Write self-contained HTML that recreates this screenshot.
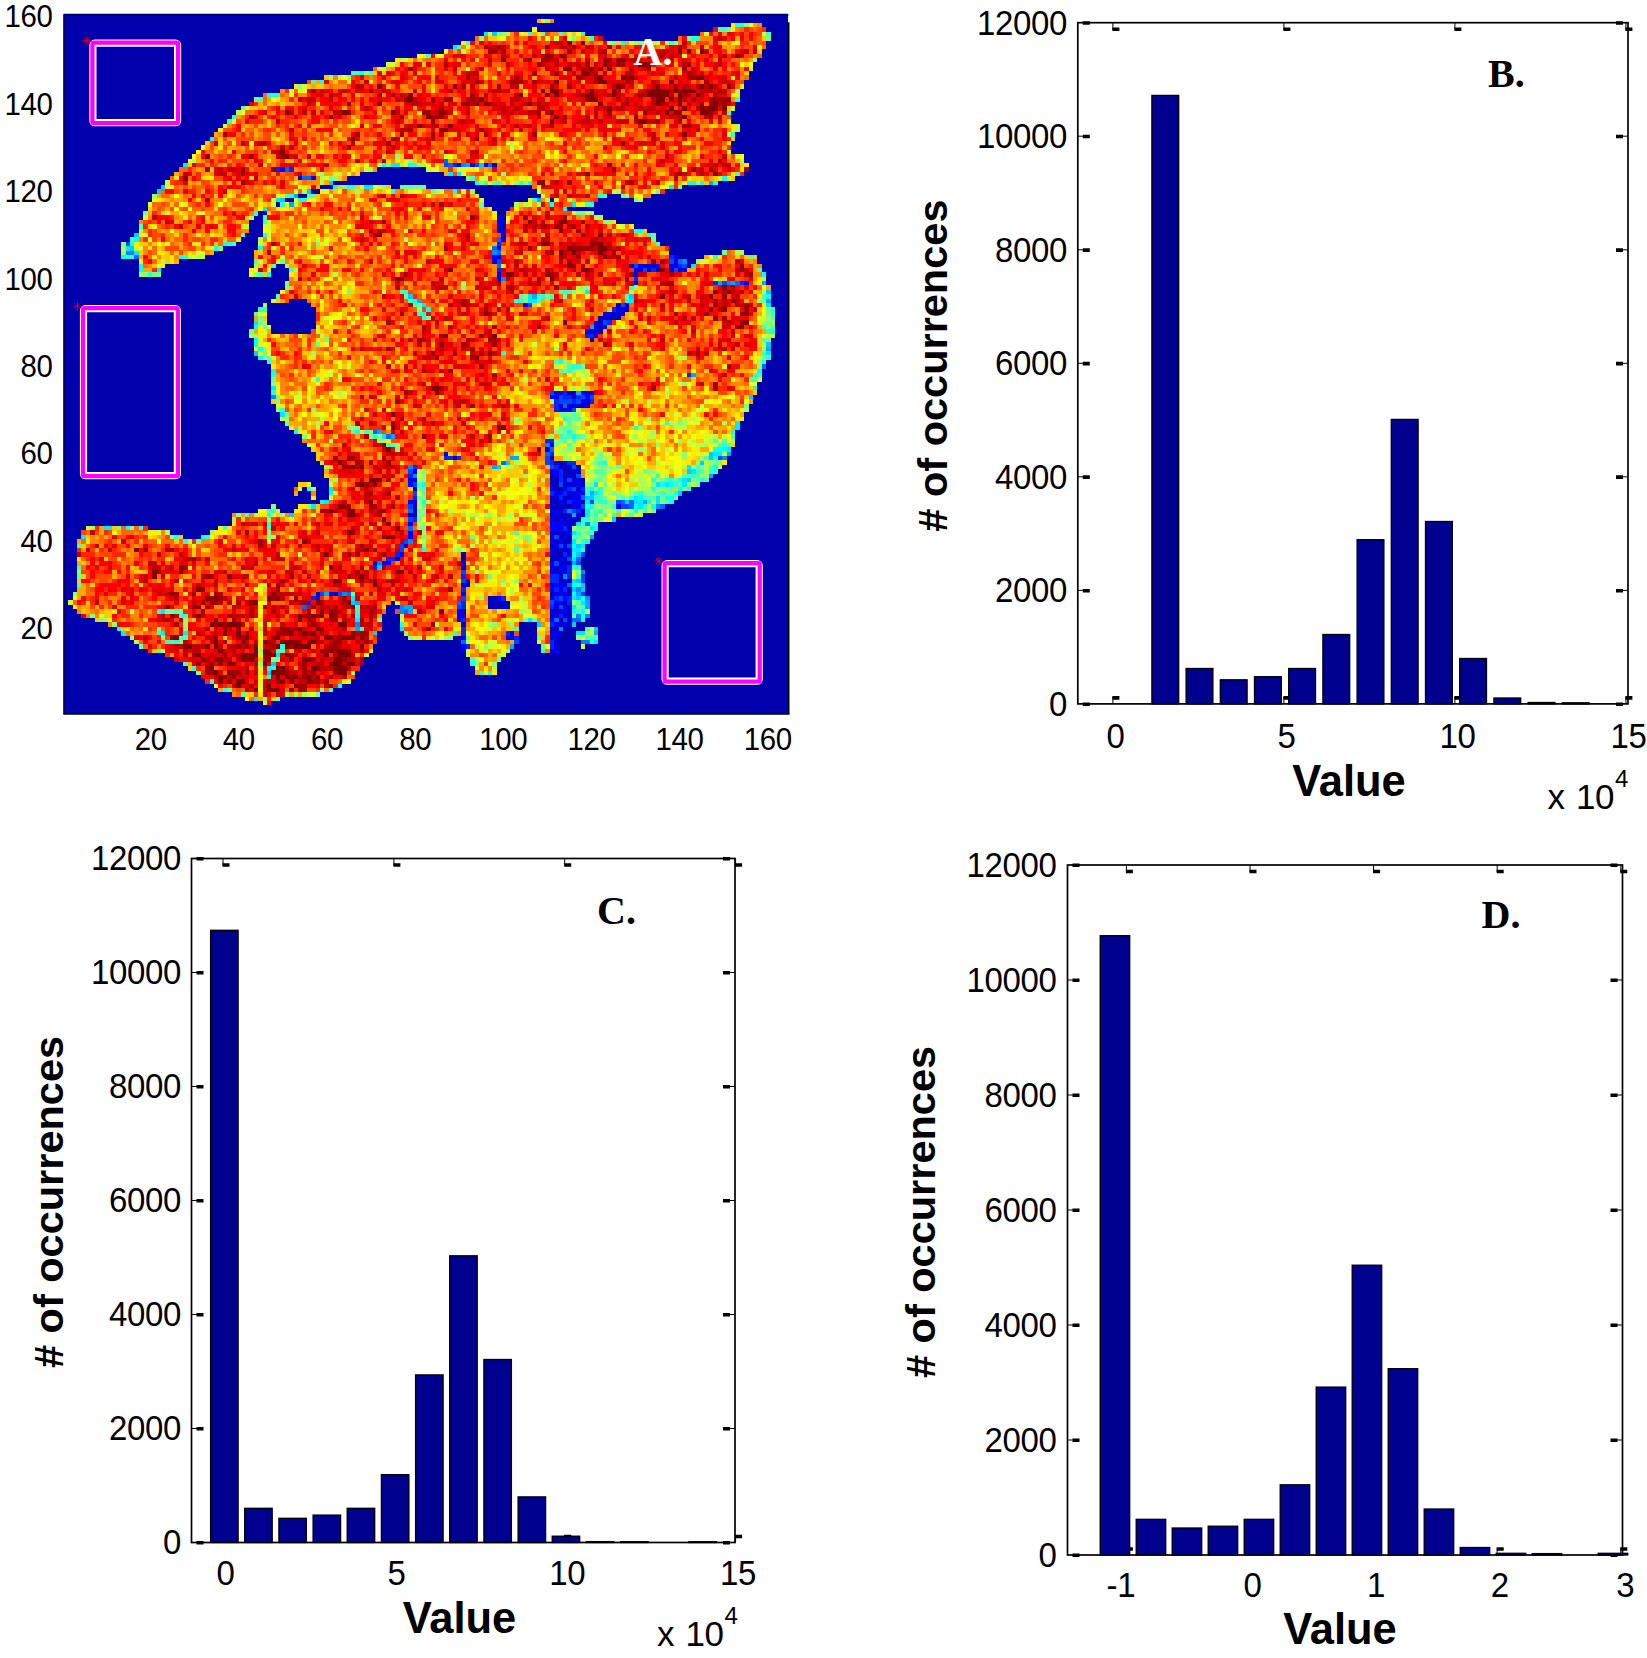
<!DOCTYPE html>
<html><head><meta charset="utf-8"><title>Figure</title>
<style>html,body{margin:0;padding:0;background:#fff}svg{display:block}.t{font-family:"Liberation Sans",sans-serif;fill:#000;letter-spacing:-0.4px}.b{font-family:"Liberation Sans",sans-serif;font-weight:bold;fill:#000}.s{font-family:"Liberation Serif",serif;font-weight:bold;fill:#000}</style></head><body>
<svg width="1647" height="1658" viewBox="0 0 1647 1658">
<rect width="1647" height="1658" fill="#fff"/>
<defs><filter id="hb" x="0" y="0" width="1" height="1"><feGaussianBlur stdDeviation="0.55"/></filter></defs><g filter="url(#hb)"><g transform="translate(63.80 14.30) scale(4.41829 4.37438)" shape-rendering="crispEdges"><rect x="0" y="0" width="164" height="160" fill="#0100ac"/><g transform="translate(0 .5)" fill="none" stroke-width="1.02"><path stroke="#0000c1" d="M97 34h1M99 48h1M98 49h1M137 54h1M128 57h1M131 57h1M133 57h1M141 57h1M132 58h1M134 58h1M125 66h1M127 66h1M127 67h1M124 68h1M126 68h1M121 69h5M121 70h1M121 71h1M119 72h1M121 72h1M120 73h1M119 74h1M114 86h2M118 88h1M112 89h1M114 89h1M117 89h1M88 101h1M110 101h1M112 102h1M112 103h3M116 103h1M113 104h4M110 105h1M113 105h1M115 105h1M110 106h2M117 106h1M110 107h2M113 107h1M117 107h1M111 108h2M116 108h1M115 109h1M110 110h1M113 110h2M111 111h1M117 111h1M110 112h5M79 113h1M112 113h1M117 113h1M78 114h2M110 114h1M112 114h3M117 114h1M111 115h1M113 115h1M115 115h2M114 116h1M114 117h1M110 118h4M112 119h1M114 119h1M111 120h1M113 120h2M110 121h1M111 122h1M113 122h1M90 123h1M110 123h3M75 124h1M90 124h1M110 124h2M113 124h1M112 125h1M114 125h1M90 126h1M111 126h1M113 127h1M112 128h1M112 129h3M91 130h1M110 130h1M114 131h1M57 132h1M61 132h1M110 132h1M114 132h1M96 133h2M96 134h5M113 134h1M96 135h4M114 135h1M90 136h1M111 136h1M114 136h1M110 137h1M113 137h1M112 138h1M90 139h1M112 139h1M114 139h1M110 140h2M110 142h1M111 143h1"/><path stroke="#0000e2" d="M92 34h1M98 47h1M98 48h1M99 50h1M98 55h1M97 56h1M138 56h1M138 57h1M130 58h1M137 58h1M139 58h1M129 59h1M98 60h1M129 61h1M104 66h1M125 67h2M125 68h1M120 71h1M122 71h1M120 72h1M118 86h1M111 87h1M115 87h1M115 89h2M113 90h1M109 99h1M111 102h1M113 102h1M79 104h1M110 104h1M111 105h1M114 105h1M78 106h1M113 106h1M115 106h2M114 107h2M79 108h1M112 109h1M114 109h1M111 110h1M116 110h1M110 111h1M113 111h1M79 112h1M115 112h2M111 114h1M116 114h1M112 115h1M114 115h1M113 116h1M115 116h1M110 120h1M77 121h1M113 121h1M110 122h1M112 122h1M114 122h1M114 123h1M70 125h1M72 125h1M110 125h1M113 125h1M113 126h1M110 127h3M91 129h1M90 130h1M113 130h1M110 131h1M60 132h1M111 132h3M110 133h1M111 135h1M110 136h1M112 136h1M111 137h1M114 137h1M114 138h1M113 139h1M101 141h1M110 141h1M90 142h1M111 142h1M111 144h1M90 145h1M110 145h1"/><path stroke="#0004ff" d="M89 34h1M95 34h1M49 35h1M53 37h1M56 37h1M98 46h1M99 47h1M99 49h1M99 51h1M98 53h1M97 55h1M138 55h1M130 57h1M132 57h1M134 57h1M137 57h1M129 58h1M140 58h1M98 59h1M154 61h1M122 68h2M120 70h1M118 72h1M111 86h2M117 86h1M119 86h1M110 87h1M118 87h1M117 88h1M118 89h1M112 90h1M114 90h1M110 98h1M86 100h1M111 104h1M79 106h1M78 107h1M116 107h1M110 108h1M113 108h1M111 109h1M116 109h2M115 110h1M78 111h2M112 111h1M115 111h2M125 112h1M110 113h2M110 115h1M78 116h1M110 116h3M110 117h3M78 118h1M114 118h1M78 119h1M110 119h1M113 119h1M112 120h1M111 121h1M76 123h1M112 124h1M73 125h1M90 125h1M110 126h1M112 126h1M111 130h2M112 131h1M90 132h1M57 133h1M98 133h1M113 133h1M111 134h2M75 135h1M100 135h1M113 135h1M89 136h1M113 136h1M89 137h2M89 138h1M110 138h1M111 139h1M111 141h1M100 142h2M90 144h1M111 145h1"/><path stroke="#0025ff" d="M88 34h1M48 35h1M51 35h1M98 52h1M137 55h1M139 57h1M98 58h1M133 58h1M129 60h1M147 61h1M153 61h1M124 67h1M123 70h1M118 73h2M141 82h1M113 86h1M113 87h2M116 87h1M111 88h1M115 88h1M119 88h1M111 89h1M111 90h1M109 97h2M110 100h1M86 101h2M89 101h1M110 102h1M114 102h2M79 103h1M111 103h1M112 104h1M78 105h1M112 105h1M112 106h1M114 108h1M117 108h1M110 109h1M113 109h1M79 110h1M112 110h1M114 111h1M113 113h1M116 113h1M79 115h1M113 117h1M75 123h1M113 123h1M73 124h2M70 126h1M114 126h1M114 127h1M90 128h1M110 128h2M114 128h1M110 129h2M90 131h1M111 131h1M113 131h1M56 133h1M99 133h1M111 133h1M114 133h1M55 134h1M90 134h1M114 134h1M90 135h1M110 135h1M112 137h1M90 138h1M110 139h1M90 140h1M90 141h1M100 141h1M102 142h1M110 143h1M91 144h1M110 144h1"/><path stroke="#0046ff" d="M86 34h1M93 34h1M14 52h1M98 56h1M137 56h1M129 57h1M140 57h1M131 58h1M138 58h1M149 61h1M105 66h1M126 66h1M122 70h1M110 86h1M112 87h1M117 87h1M119 87h1M112 88h3M116 88h1M115 90h1M109 101h1M148 101h1M109 102h1M110 103h1M115 103h1M78 104h1M116 105h1M114 106h1M79 107h1M112 107h1M115 108h1M79 109h1M119 111h1M125 111h1M78 112h1M117 112h1M126 112h2M115 113h1M78 115h1M111 119h1M77 120h1M76 121h1M112 121h1M114 121h1M76 122h1M117 123h1M114 124h1M111 125h1M116 125h1M90 127h1M117 128h1M90 129h1M117 129h1M58 132h1M62 132h1M117 132h1M90 133h1M112 133h1M110 134h1M89 135h1M112 135h1M113 138h1M102 143h1"/><path stroke="#0067ff" d="M86 33h1M87 34h1M96 34h1M50 35h1M54 37h2M98 51h1M97 53h1M98 54h1M16 55h1M139 56h1M98 57h1M152 61h1M158 80h1M113 89h1M70 95h1M73 96h1M110 99h1M109 100h1M99 102h1M117 110h1M126 111h1M128 111h1M128 112h1M135 112h1M78 113h1M78 117h1M116 124h1M114 130h1M64 132h1M89 134h1M54 135h1M77 136h1M111 138h1M115 138h2M90 143h1"/><path stroke="#0088ff" d="M90 34h1M14 54h2M97 54h1M140 56h1M99 60h1M150 61h1M47 87h1M109 98h1M149 101h1M78 103h1M79 105h1M134 112h1M114 113h1M118 116h1M78 120h1M71 125h1M117 127h1M113 128h1M116 131h1M63 132h1M118 133h1M76 135h1M76 136h1M116 137h1M118 137h1M66 139h1M112 140h1M117 143h2"/><path stroke="#00a9ff" d="M91 34h1M146 38h1M52 41h1M107 42h1M51 43h1M148 61h1M151 61h1M158 61h1M106 64h1M80 65h1M159 65h1M119 71h1M159 76h1M142 82h1M116 86h1M71 95h1M74 96h1M150 100h1M101 101h2M97 103h1M146 105h1M119 109h1M131 111h1M115 114h1M119 119h1M115 125h1M59 132h1M116 132h1M66 134h1M118 134h1M77 135h2M118 135h1M78 136h1M66 140h1M120 141h1M101 144h1"/><path stroke="#00caff" d="M97 4h1M94 34h1M60 38h1M22 39h1M21 40h1M55 40h1M49 42h1M16 50h1M15 53h1M159 63h1M78 64h1M128 64h1M159 75h1M43 77h1M155 87h1M146 100h1M146 101h1M100 102h1M144 102h1M98 103h1M141 104h1M141 106h1M139 109h1M118 110h2M127 111h1M51 114h1M124 115h1M116 121h1M116 123h1M71 126h1M116 129h1M117 130h1M115 131h1M117 131h1M116 133h1M65 134h1M107 139h1M115 139h1M120 140h1M70 141h1M47 148h1M46 150h1"/><path stroke="#00eaff" d="M95 4h1M88 7h1M27 34h1M74 34h2M87 36h1M89 36h1M68 39h2M137 39h1M48 42h1M115 43h1M45 44h1M14 53h1M16 54h1M142 57h1M21 58h1M118 63h1M105 64h1M105 65h2M128 65h1M81 66h1M159 66h1M43 70h1M159 77h1M47 85h1M49 91h1M152 93h1M152 94h1M72 96h1M150 99h1M147 100h2M141 103h1M142 104h1M140 106h1M120 107h1M134 107h1M136 107h1M140 107h1M60 108h1M120 109h1M129 110h1M134 110h1M59 111h1M118 111h1M129 111h2M134 111h1M56 112h1M130 112h1M118 113h1M118 114h1M116 116h1M9 117h2M119 117h1M115 118h1M4 119h1M115 120h1M117 121h1M115 122h2M115 124h1M115 129h1M65 133h1M115 133h1M117 134h1M115 135h1M22 136h1M66 138h1M105 138h1M76 140h1M13 141h1M22 141h1M27 141h1M116 141h2M120 143h1M48 146h1M43 156h1"/><path stroke="#0cfff3" d="M126 6h1M67 13h1M58 15h1M46 18h1M33 28h1M72 34h1M78 34h1M149 37h1M93 38h1M105 38h1M141 38h2M144 38h1M61 39h1M88 40h1M53 42h1M110 43h1M113 44h1M130 49h1M16 51h1M15 52h1M36 52h1M34 53h1M44 53h1M13 55h1M26 55h1M17 57h1M17 58h1M46 59h1M158 59h1M159 64h1M79 65h1M127 65h1M82 67h1M81 68h1M43 71h1M160 72h1M43 74h1M43 75h1M44 76h1M44 78h1M112 79h1M47 81h1M157 81h1M156 85h1M113 92h1M52 95h1M66 95h1M114 95h1M151 95h1M115 96h1M147 99h3M147 101h1M122 102h1M147 103h1M139 106h1M81 107h1M135 107h1M137 107h1M119 108h1M139 108h1M60 109h1M138 109h1M130 110h1M136 110h2M58 111h1M81 111h1M132 111h1M137 111h1M119 112h1M129 112h1M133 112h1M129 113h1M14 117h1M120 117h1M31 119h1M118 120h1M115 121h1M81 122h1M115 123h1M116 126h1M115 130h1M115 132h1M117 133h1M115 136h1M117 136h1M66 137h1M117 137h1M117 138h1M12 140h1M46 149h1M96 150h1M62 153h1"/><path stroke="#2dffd2" d="M152 2h2M105 4h1M117 4h1M119 5h1M142 5h2M56 15h1M47 18h2M152 19h1M150 22h1M38 23h1M37 24h1M151 27h1M79 34h1M95 38h1M103 38h1M147 38h1M64 39h2M74 40h1M51 41h1M121 41h1M54 42h1M106 42h1M49 43h1M119 43h1M43 45h1M129 49h1M45 50h1M132 50h1M15 51h1M37 52h1M14 55h2M27 55h1M147 55h1M19 59h1M77 63h1M113 63h1M107 64h2M102 65h2M44 67h2M160 67h1M80 68h1M160 68h1M81 69h1M159 72h1M99 77h1M159 78h1M46 79h1M158 79h1M115 80h2M114 81h1M47 82h1M156 82h1M57 83h1M47 86h1M49 90h1M136 93h1M129 94h1M70 96h1M112 96h1M149 98h1M121 102h1M143 104h1M146 104h2M134 105h1M142 105h1M133 106h1M137 106h1M144 106h1M138 107h1M55 108h1M118 108h1M121 108h1M133 108h1M141 108h1M118 109h1M121 109h1M130 109h1M135 109h1M120 110h1M128 110h1M121 111h2M118 112h1M124 112h1M131 112h1M47 113h1M121 113h1M46 114h1M120 114h1M124 114h1M117 115h2M46 116h1M117 116h1M120 116h1M17 117h1M116 118h1M25 119h1M32 119h1M27 120h1M117 120h1M117 122h1M115 126h1M116 130h1M21 136h1M66 136h1M116 136h1M26 137h2M76 139h1M67 140h1M21 141h1M88 141h1M23 143h1M25 143h1M119 143h1M49 144h1M108 145h1M92 148h1M29 149h1M47 149h1M94 150h1M46 151h1M33 152h1M36 154h1"/><path stroke="#4effb1" d="M148 3h2M112 4h1M159 4h1M91 6h1M137 6h1M89 7h1M82 9h1M65 13h2M69 13h1M44 19h1M152 36h1M92 37h1M97 38h2M50 41h1M55 41h2M122 41h1M118 43h1M45 46h1M45 47h1M17 48h1M40 50h1M38 52h1M134 52h1M155 55h1M43 56h1M47 57h1M51 58h1M157 58h1M44 59h1M128 62h1M76 63h1M112 63h1M114 63h1M48 64h1M103 64h1M110 64h1M127 64h1M158 64h1M78 65h1M107 65h1M79 66h1M43 68h1M160 69h1M158 71h1M160 71h1M158 74h1M158 77h1M111 79h1M114 80h1M112 81h1M157 82h1M155 83h2M115 91h1M114 92h1M116 92h1M114 93h1M113 94h1M65 95h1M68 95h1M113 96h2M116 96h1M151 96h1M113 97h1M115 97h1M147 97h1M149 97h1M73 98h2M114 98h1M148 98h1M150 98h1M145 101h1M143 103h1M146 103h1M120 104h2M144 104h1M140 105h2M143 105h1M136 106h1M145 106h1M80 107h1M139 107h1M81 108h1M137 108h1M81 109h1M129 109h1M121 110h1M126 110h1M131 110h3M120 111h1M136 111h1M81 112h1M46 113h1M120 113h1M125 113h1M131 113h1M41 114h1M122 114h1M128 114h1M120 115h1M119 116h1M36 117h1M46 117h1M102 118h1M118 118h2M115 119h2M3 121h1M102 122h1M3 126h1M116 128h1M3 130h1M116 134h1M66 135h1M117 135h1M25 136h1M102 140h1M118 140h1M26 142h2M118 142h3M24 143h1M21 145h1M48 145h2M92 147h1M27 148h1M60 154h1M40 155h1"/><path stroke="#6fff90" d="M150 3h1M98 4h1M108 4h1M141 5h1M159 5h1M124 6h1M132 6h1M43 19h1M40 21h1M73 34h1M60 37h1M94 38h1M63 39h1M76 39h6M139 39h1M83 40h1M134 40h1M126 41h1M129 42h1M94 43h1M18 45h1M116 45h2M133 50h1M133 51h1M57 52h1M35 53h1M149 54h1M49 56h1M20 59h2M50 62h1M90 62h1M64 63h1M77 64h1M109 64h1M113 64h1M104 65h1M158 65h1M80 66h1M159 67h1M159 68h1M44 69h1M82 69h1M44 70h1M159 70h1M45 71h1M42 72h1M59 74h1M159 74h1M57 75h1M45 77h1M46 78h1M158 78h1M117 80h1M113 81h1M115 81h1M47 83h1M48 87h1M154 89h1M50 91h1M112 91h2M115 92h1M50 93h1M139 93h1M64 94h1M66 94h1M112 94h1M114 94h1M113 95h1M115 95h1M69 96h1M117 96h1M112 97h1M75 99h1M121 100h1M121 101h1M120 102h1M147 102h2M125 103h1M144 103h1M81 104h1M122 104h1M131 104h2M121 105h1M120 106h2M135 106h1M138 106h1M142 106h2M122 107h1M133 107h1M143 107h1M80 108h1M134 108h1M136 108h1M140 108h1M124 109h1M131 109h1M134 109h1M136 109h2M80 110h2M122 110h1M125 110h1M135 110h1M138 110h1M123 111h1M135 111h1M122 112h1M80 113h1M119 113h1M133 113h1M81 114h1M119 114h1M80 115h1M12 117h1M80 117h2M116 117h2M81 119h1M92 119h1M104 119h1M30 120h1M81 121h1M89 122h1M3 128h1M96 128h1M99 129h1M65 132h1M116 135h1M23 136h2M26 136h1M115 137h1M71 138h1M104 138h1M106 138h1M21 140h1M91 142h1M107 142h1M17 144h1M108 144h1M48 147h1M98 147h1M37 154h1M57 155h1M48 156h1"/><path stroke="#90ff6f" d="M109 1h1M154 2h1M99 4h1M94 5h1M115 5h1M130 6h1M138 6h1M156 10h1M68 13h1M60 14h1M64 14h1M53 16h1M75 32h1M78 33h1M76 34h1M80 34h2M58 36h1M99 36h1M61 37h1M91 37h1M102 38h1M104 38h1M143 38h1M72 39h1M66 40h1M92 40h1M20 41h1M119 45h1M122 47h2M13 52h1M13 54h1M143 56h1M43 57h1M17 59h2M43 59h1M50 61h1M117 62h2M129 62h1M115 63h1M117 63h1M104 64h1M157 65h1M80 67h1M159 69h1M158 70h1M160 70h1M159 71h1M43 73h1M45 76h1M158 76h1M56 77h1M45 78h1M113 79h1M157 79h1M113 80h1M157 80h1M117 81h1M47 84h1M140 84h1M117 85h1M62 86h1M48 88h1M48 90h1M56 90h1M114 91h1M116 91h1M102 92h1M132 92h1M57 93h1M53 94h1M65 94h1M115 94h2M130 94h1M69 95h1M111 95h2M133 95h1M54 96h1M71 96h1M110 96h1M129 96h1M71 97h1M101 97h1M111 97h1M139 97h1M75 98h1M111 98h1M134 98h1M113 99h3M120 99h1M130 99h1M140 100h1M113 101h1M120 101h1M122 101h1M140 101h1M144 101h1M58 102h1M143 102h1M146 102h1M121 103h3M142 103h1M133 104h1M81 105h1M104 105h1M122 105h1M144 105h2M61 106h1M81 106h1M119 106h1M128 106h1M118 107h2M141 107h1M120 108h1M128 108h1M132 108h1M125 109h1M128 109h1M132 109h2M127 110h1M124 111h1M47 112h1M55 112h1M120 112h2M123 112h1M81 113h1M128 113h1M39 114h1M80 114h1M96 114h1M127 114h1M38 115h1M98 115h1M119 115h1M121 115h1M81 116h1M15 117h1M115 117h1M118 117h1M33 118h1M46 118h1M81 118h1M117 118h1M24 119h1M46 119h2M105 119h1M117 119h1M105 120h1M116 120h1M3 127h1M93 127h1M116 127h1M102 129h1M2 132h1M94 133h1M115 134h1M103 136h1M6 137h1M8 138h1M27 138h1M11 139h1M27 139h1M97 139h1M101 139h1M27 140h1M77 141h1M118 141h1M15 142h1M22 142h1M78 142h1M87 142h1M116 142h1M26 143h1M95 144h1M44 145h1M100 145h1M47 147h1M44 148h1M93 148h1M97 148h1M30 150h1M58 154h1M50 155h1M52 155h1M45 156h1"/><path stroke="#b1ff4e" d="M100 4h1M123 6h1M129 6h1M133 6h1M136 6h1M90 8h1M76 10h1M72 12h1M155 12h1M62 14h1M152 17h1M151 21h1M39 22h1M152 25h1M152 26h1M150 27h1M101 29h1M150 31h1M29 33h1M153 33h1M71 34h1M69 35h1M62 36h1M58 37h1M58 38h1M99 38h1M54 40h1M84 40h1M90 40h1M125 40h1M93 41h1M127 41h1M109 42h1M52 43h1M102 43h1M104 43h1M107 43h1M42 46h1M71 46h1M120 46h2M41 48h1M17 49h1M67 49h1M44 51h1M77 51h1M83 52h1M13 53h1M55 53h1M152 54h2M28 55h1M30 55h1M22 56h1M50 57h1M52 58h1M61 59h1M158 60h1M72 61h1M90 61h1M116 62h1M72 63h1M128 63h1M158 63h1M45 66h1M112 67h1M45 70h1M57 72h1M42 73h1M58 73h1M160 73h1M158 75h1M111 76h1M102 77h1M139 78h2M111 80h1M118 82h1M62 83h1M104 83h1M115 83h1M115 85h1M53 86h1M136 86h1M110 88h1M127 88h1M132 88h1M154 90h1M50 92h1M58 92h1M140 92h1M142 92h1M102 93h1M115 93h1M137 93h2M140 93h1M149 93h1M138 94h1M140 94h1M67 95h1M118 96h1M132 96h2M147 96h1M60 97h1M72 97h1M119 97h1M130 97h1M142 97h1M146 97h1M151 97h1M115 98h1M143 98h3M112 99h1M131 99h1M136 99h1M98 100h1M112 100h2M127 100h1M149 100h1M114 101h1M116 101h1M123 101h1M102 102h1M119 102h1M134 102h1M145 102h1M59 103h1M100 103h2M120 103h1M124 103h1M137 103h1M140 103h1M145 103h1M80 104h1M118 104h2M123 104h1M145 104h1M118 105h1M120 105h1M130 105h1M132 105h2M136 105h1M80 106h1M108 106h1M122 106h1M130 106h2M134 106h1M105 107h1M124 107h1M130 107h2M142 107h1M56 108h1M122 108h2M130 108h2M135 108h1M123 109h1M126 109h1M92 110h1M80 111h1M82 111h1M85 111h1M133 111h1M80 112h1M132 112h1M87 113h1M90 113h1M122 113h3M130 113h1M43 114h1M49 114h1M56 114h1M92 114h2M95 114h1M100 114h2M121 114h1M130 114h1M46 115h1M80 116h1M6 117h1M96 117h1M23 118h1M103 119h1M118 119h1M28 120h1M81 120h1M97 120h1M102 120h1M92 121h1M88 122h1M45 130h1M93 130h1M101 131h1M101 132h1M103 133h1M101 134h1M104 134h1M15 136h1M104 136h2M118 136h1M76 137h1M9 138h1M100 138h1M84 139h1M96 139h1M119 141h1M80 142h1M86 142h1M16 143h1M91 143h1M93 144h1M98 146h1M93 147h1M97 149h1M65 150h1M54 155h1"/><path stroke="#d2ff2d" d="M96 4h1M114 4h1M145 4h1M158 4h1M109 5h1M111 5h1M114 5h1M128 6h1M134 6h1M152 6h1M81 9h1M140 9h1M77 10h1M73 11h2M54 16h1M51 17h1M53 17h1M151 18h1M41 21h1M36 25h1M101 30h1M86 32h1M95 32h1M152 32h1M77 33h1M68 34h1M68 35h1M82 35h2M89 35h2M59 37h1M94 37h2M103 37h1M150 37h1M23 38h1M23 39h1M53 39h1M67 39h1M71 39h1M136 39h1M52 40h1M59 40h1M78 40h1M85 40h1M107 40h1M124 40h1M48 41h1M108 41h1M20 42h1M47 42h1M56 42h1M94 42h1M130 42h1M19 43h1M47 43h1M105 43h1M117 43h1M31 45h1M88 45h1M118 45h1M18 46h1M100 46h1M46 47h1M45 48h2M126 48h1M77 49h1M18 50h1M46 50h1M57 51h1M44 52h1M59 52h1M78 52h1M16 53h2M30 54h2M88 54h1M29 55h1M31 55h1M49 55h1M57 55h2M44 56h1M144 56h2M59 60h1M116 63h1M47 65h1M45 68h1M59 69h1M157 69h2M46 71h1M126 71h1M45 72h1M159 73h1M44 74h1M44 75h1M106 75h1M62 76h1M44 77h1M47 78h1M157 78h1M62 80h1M64 80h1M60 81h1M116 81h1M118 81h1M59 82h2M116 82h2M56 83h1M112 83h1M117 83h1M119 83h1M135 83h1M138 83h1M157 83h1M139 84h1M48 85h1M111 85h1M136 85h1M63 86h1M103 86h1M52 87h2M55 87h1M151 87h1M145 88h1M48 89h1M125 89h1M144 89h1M116 90h1M143 90h2M153 90h1M57 91h1M138 91h1M142 91h1M49 92h1M108 92h1M117 92h1M143 92h1M113 93h1M116 93h1M135 93h1M141 93h1M143 93h1M111 94h1M119 94h1M139 94h1M99 95h1M131 95h1M128 96h1M145 96h2M149 96h1M114 97h1M116 97h1M131 97h1M134 97h1M141 97h1M145 97h1M148 97h1M55 98h1M112 98h1M122 98h1M127 98h1M141 98h1M147 98h1M128 99h1M102 100h1M111 100h1M114 100h2M123 100h1M129 100h1M138 100h1M143 100h1M145 100h1M93 102h1M103 102h1M126 102h1M130 102h1M136 102h1M148 103h1M124 104h1M129 104h2M134 104h2M80 105h1M98 105h1M102 106h1M129 106h1M55 107h1M60 107h1M96 107h1M121 107h1M132 107h1M53 108h1M100 108h1M129 108h1M98 109h1M105 109h1M122 109h1M60 110h1M94 110h1M123 110h1M103 112h1M127 113h1M132 113h1M47 114h1M91 114h1M97 114h1M104 114h2M100 115h2M106 115h1M90 116h1M93 116h1M5 117h1M35 117h1M21 118h1M100 118h1M46 120h1M93 120h1M100 120h1M29 121h1M88 121h1M98 121h1M101 121h1M107 121h1M90 122h1M103 122h1M53 123h1M94 123h1M95 124h1M102 124h1M97 127h1M115 127h1M26 129h1M97 129h1M101 129h1M95 130h1M99 130h1M44 131h1M1 134h1M75 134h1M103 134h1M103 135h1M8 137h1M10 138h1M76 138h1M44 139h1M95 140h2M108 140h1M119 140h1M44 141h1M85 141h1M83 142h1M117 142h1M96 143h2M107 143h1M96 144h2M117 144h1M22 145h1M91 145h1M95 145h1M99 145h1M68 146h1M91 146h1M96 148h1M44 149h1M93 149h1M64 152h1M44 153h1M55 155h2M45 157h1"/><path stroke="#f3ff0c" d="M155 2h1M106 3h1M103 4h1M116 4h1M99 5h1M91 7h1M157 7h1M86 8h1M80 9h1M84 9h2M153 11h1M155 11h1M91 12h1M63 14h1M54 17h1M51 18h1M47 19h1M40 22h1M38 24h1M65 25h1M109 28h1M42 29h1M100 29h1M102 29h1M31 30h1M103 30h1M30 31h1M101 31h1M111 31h1M29 32h1M87 32h1M109 32h1M125 32h1M130 32h1M153 32h1M28 33h1M94 33h1M82 34h1M65 35h1M84 35h1M93 35h1M140 35h1M64 36h1M90 36h1M105 37h1M137 38h1M140 38h1M70 39h1M107 39h1M118 39h1M135 39h1M62 40h1M73 40h1M79 40h2M133 40h1M25 41h1M60 41h1M82 41h1M89 41h1M129 41h2M36 42h1M52 42h1M55 42h1M66 42h1M111 42h1M26 43h1M35 43h1M50 43h1M73 43h1M25 44h1M28 44h1M44 44h1M54 44h1M70 46h1M61 47h1M83 47h1M53 48h1M64 48h1M125 48h1M24 49h1M45 49h2M95 49h1M19 51h1M46 51h1M55 51h1M59 51h1M63 51h1M21 52h1M23 52h1M65 52h1M47 53h1M107 53h1M60 54h1M82 54h2M56 55h1M107 55h1M146 55h1M21 57h1M80 57h1M43 58h1M76 58h1M42 59h1M147 60h1M140 61h1M63 62h1M158 62h1M49 63h1M63 63h1M56 64h1M118 64h1M58 65h1M123 65h1M107 66h1M115 66h1M65 67h1M158 67h1M44 68h1M62 68h1M118 68h1M158 68h1M60 69h3M64 69h1M66 69h1M60 70h1M65 70h1M96 70h1M111 70h1M44 71h1M68 71h1M75 72h1M158 73h1M63 74h1M45 75h1M59 75h1M111 75h1M124 76h2M46 77h1M115 78h1M132 78h1M62 79h1M115 79h1M126 79h1M105 80h1M107 80h1M142 81h1M62 82h1M66 82h1M114 82h1M136 82h1M140 82h1M57 84h1M141 84h1M155 84h2M55 85h1M129 85h1M48 86h1M60 86h1M130 86h1M138 86h1M142 86h1M61 87h1M150 87h1M52 88h2M57 88h1M101 88h1M107 88h1M146 88h1M148 88h1M154 88h1M61 90h1M122 90h1M145 90h1M54 91h1M58 91h1M61 91h1M90 91h1M117 91h1M61 92h1M111 92h1M128 92h1M55 93h1M111 93h1M129 93h1M131 93h2M142 93h1M103 95h1M116 95h2M128 95h3M139 95h1M144 95h1M55 96h1M98 96h1M120 96h1M130 96h1M135 96h1M138 96h1M142 96h1M150 96h1M117 97h1M129 97h1M135 97h1M138 97h1M150 97h1M98 98h1M118 98h1M126 98h1M142 98h1M85 99h1M98 99h1M134 99h1M137 99h1M139 99h1M146 99h1M93 100h1M116 100h1M128 100h1M136 100h1M141 100h1M99 101h1M115 101h1M119 101h1M128 101h1M130 101h1M134 101h1M137 101h3M87 102h1M118 102h1M129 102h1M135 102h1M138 102h2M85 103h1M99 103h1M105 103h1M117 103h1M119 103h1M131 103h1M138 103h2M106 104h1M138 104h2M93 105h1M95 105h1M105 105h1M123 105h1M131 105h1M135 105h1M139 105h1M101 106h1M105 106h1M118 106h1M124 106h1M126 106h1M132 106h1M101 107h1M123 107h1M127 107h1M103 108h3M124 108h1M127 108h1M80 109h1M84 109h1M99 109h6M127 109h1M86 110h1M100 110h2M124 110h1M87 111h2M92 111h2M85 112h2M95 112h1M102 112h1M44 113h2M91 113h2M97 113h1M103 113h1M109 113h1M126 113h1M94 114h1M103 114h1M106 114h1M123 114h1M126 114h1M81 115h1M91 115h1M93 115h1M122 115h2M97 116h1M89 117h1M11 118h1M36 118h1M95 118h2M98 118h1M105 118h2M33 119h1M89 119h1M102 119h1M106 119h1M21 120h1M80 120h1M95 120h1M99 120h1M103 120h1M106 122h1M97 123h1M79 124h1M100 124h1M99 125h1M103 125h1M92 126h1M99 126h1M102 126h1M95 127h1M98 127h1M101 128h1M115 128h1M64 129h1M101 130h2M43 131h1M100 131h1M102 131h1M100 132h1M2 133h1M92 133h1M44 134h2M101 135h2M44 136h1M104 137h2M102 138h1M93 139h1M95 139h1M94 140h1M91 141h1M44 142h1M85 142h1M92 143h2M94 144h1M98 144h1M109 144h1M94 147h1M44 151h1M34 153h1M44 154h1M41 156h1"/><path stroke="#ffea00" d="M108 1h1M151 2h1M151 3h1M104 4h1M107 4h1M98 5h1M90 6h1M151 6h1M75 10h1M71 12h1M151 14h1M64 15h1M69 15h1M52 16h1M153 16h1M83 17h1M104 17h1M152 18h1M48 19h1M80 22h1M88 22h1M66 24h1M150 24h1M123 25h1M151 25h1M35 26h1M151 26h1M102 27h1M110 27h1M48 28h1M110 28h2M120 28h1M38 29h1M54 29h1M58 29h1M141 29h1M150 29h1M35 30h1M131 30h1M58 31h1M109 31h1M126 31h1M65 32h1M111 32h1M116 32h1M122 32h1M46 33h1M75 33h1M81 33h1M66 34h1M77 34h1M84 34h1M112 34h1M114 34h1M117 34h2M154 34h1M56 35h1M91 35h2M116 35h1M153 35h1M57 36h1M61 36h1M96 36h1M151 36h1M25 37h1M32 37h2M98 37h1M100 37h2M104 37h1M141 37h1M148 37h1M52 38h1M96 38h1M101 38h1M125 38h1M136 38h1M24 39h1M54 39h1M58 40h1M70 40h1M37 41h1M49 41h1M21 42h1M40 42h1M67 42h1M105 42h1M114 42h1M27 43h1M44 43h1M116 43h1M48 44h3M65 44h1M70 44h1M78 44h1M86 44h1M96 44h1M102 44h1M23 45h1M26 45h1M30 45h1M97 45h1M115 45h1M27 46h1M51 46h1M60 46h1M80 46h1M97 46h1M100 47h1M124 47h1M20 48h1M40 48h1M128 48h1M56 49h1M59 49h1M62 49h2M17 50h1M30 50h1M33 50h1M57 50h1M93 50h1M39 51h1M16 52h1M29 52h2M55 52h1M58 52h1M126 52h1M19 53h1M32 53h2M50 53h1M71 53h2M96 53h1M21 54h2M28 54h1M53 54h1M20 55h1M24 55h1M148 55h1M17 56h1M24 56h1M48 56h1M59 56h1M22 57h1M66 57h1M99 57h1M42 58h1M46 58h1M75 58h1M124 58h1M51 59h1M60 60h1M62 60h1M157 60h1M64 61h2M157 61h1M58 62h1M65 62h1M81 63h1M130 63h1M115 64h1M157 64h1M125 65h1M58 66h1M69 66h1M116 66h1M158 66h1M58 67h1M85 67h1M132 67h1M61 68h1M68 69h1M125 70h2M157 70h1M57 71h1M59 71h1M124 71h1M132 71h1M44 72h1M44 73h2M47 73h2M53 73h1M57 74h1M108 74h1M112 74h1M116 74h1M46 75h1M58 75h1M61 75h1M43 76h1M46 76h1M63 76h1M139 76h1M59 77h1M91 77h1M134 77h1M138 77h1M149 77h1M156 77h1M55 78h2M76 78h1M106 78h2M109 78h1M156 78h1M49 79h1M61 79h1M64 79h1M73 79h1M75 79h1M108 79h1M121 79h2M156 79h1M47 80h1M106 80h1M112 80h1M123 80h1M134 80h1M149 80h1M52 81h1M58 81h2M97 81h1M135 81h1M156 81h1M57 82h2M69 82h1M125 82h1M58 83h1M71 83h1M118 83h1M151 83h1M48 84h1M117 84h1M102 85h1M112 85h1M114 85h1M116 85h1M122 85h2M141 85h1M145 85h1M51 86h1M55 86h1M61 86h1M102 86h1M134 86h1M145 86h1M49 87h1M58 87h1M62 87h2M95 87h1M98 87h1M104 87h2M129 87h1M136 87h1M149 87h1M55 88h1M106 88h1M126 88h1M135 88h1M147 88h1M49 89h1M51 89h1M132 89h1M139 89h1M62 90h1M67 90h1M73 90h1M124 90h1M133 90h1M149 90h1M56 91h1M59 91h1M86 91h1M109 91h1M128 91h2M136 91h1M139 91h1M152 91h1M53 92h1M64 92h1M107 92h1M112 92h1M118 92h1M124 92h1M129 92h1M135 92h1M138 92h1M141 92h1M144 92h1M152 92h2M78 93h1M92 93h1M103 93h1M110 93h1M119 93h3M151 93h1M51 94h1M57 94h1M77 94h1M118 94h1M120 94h1M136 94h1M150 94h1M53 95h2M94 95h1M102 95h1M127 95h1M132 95h1M135 95h1M141 95h1M143 95h1M145 95h1M121 96h1M123 96h1M131 96h1M140 96h1M143 96h2M73 97h1M122 97h1M128 97h1M56 98h1M84 98h1M90 98h1M99 98h1M113 98h1M116 98h1M121 98h1M123 98h2M146 98h1M97 99h1M104 99h1M111 99h1M119 99h1M121 99h1M127 99h1M129 99h1M142 99h2M95 100h2M99 100h1M103 100h1M118 100h1M120 100h1M122 100h1M131 100h1M139 100h1M142 100h1M144 100h1M97 101h2M103 101h2M126 101h1M129 101h1M136 101h1M141 101h2M76 102h1M84 102h1M91 102h1M98 102h1M104 102h2M123 102h2M128 102h1M131 102h1M137 102h1M140 102h2M149 102h1M129 103h2M134 103h2M99 104h1M103 104h1M105 104h1M107 104h1M125 104h2M136 104h1M90 105h1M106 105h1M119 105h1M128 105h2M138 105h1M86 106h1M97 106h2M106 106h1M123 106h1M102 107h1M104 107h1M106 107h1M126 107h1M97 108h1M101 108h2M108 108h1M126 108h1M61 109h1M90 109h1M95 109h1M106 109h1M56 110h1M85 110h1M98 110h1M102 110h1M104 110h1M106 110h1M89 111h3M103 111h2M108 111h1M53 112h2M87 112h2M92 112h1M96 112h1M100 112h2M48 113h1M52 113h2M85 113h1M88 113h2M96 113h1M100 113h2M105 113h1M44 114h2M129 114h1M51 115h1M94 115h1M97 115h1M99 115h1M102 115h1M38 116h1M82 116h1M94 116h1M105 116h1M37 117h1M88 117h1M90 117h2M19 118h2M34 118h2M92 118h1M103 118h2M108 118h1M19 119h1M51 119h1M86 119h2M93 119h1M100 119h2M5 120h1M36 120h1M88 120h1M98 120h1M101 120h1M106 120h1M89 121h1M96 121h1M100 121h1M106 121h1M31 122h1M79 122h1M100 122h2M95 123h1M98 123h1M101 123h1M103 123h1M3 124h1M68 124h1M103 124h2M97 125h1M101 125h1M105 125h1M28 126h1M82 126h1M94 126h2M101 126h1M104 126h1M96 127h1M81 128h1M97 128h1M100 128h1M102 128h1M65 129h1M89 129h1M96 129h1M100 129h1M44 130h1M94 130h1M96 130h2M27 132h1M44 132h1M92 132h3M91 134h1M102 134h1M2 135h1M44 135h1M91 135h1M104 135h1M11 136h1M98 136h1M44 137h1M95 137h1M106 137h1M43 138h1M101 138h1M46 139h1M92 139h1M14 140h1M18 140h1M88 140h2M93 140h1M98 140h1M107 140h1M84 141h1M94 141h1M79 142h1M82 142h1M92 142h1M44 143h1M94 143h1M44 144h1M99 144h1M69 145h1M94 145h1M44 146h1M99 146h1M95 149h1M44 150h1M95 150h1M97 150h1M44 152h1M63 152h1M44 155h1"/><path stroke="#ffca00" d="M115 4h1M96 5h2M107 5h1M116 5h1M118 5h1M158 5h1M125 6h1M142 6h1M149 6h1M135 7h1M108 8h1M143 8h1M157 8h1M78 10h1M80 10h1M93 10h1M75 11h1M81 11h1M154 11h1M83 12h1M98 12h1M70 13h1M72 13h1M83 13h1M139 13h1M154 13h1M59 14h1M95 14h1M97 14h1M61 15h1M55 16h1M57 16h2M83 16h1M46 20h1M49 20h1M57 20h1M42 21h2M45 21h1M150 21h1M65 23h1M46 24h1M71 24h1M46 25h1M64 25h1M66 25h1M68 25h1M133 25h1M146 25h2M150 25h1M40 26h1M61 26h1M62 27h1M74 27h1M107 27h1M126 27h1M35 28h1M47 28h1M76 28h1M112 28h1M118 28h1M121 28h1M123 28h1M151 28h1M32 29h1M35 29h1M50 29h1M140 29h1M42 30h1M45 30h1M58 30h1M98 30h1M102 30h1M118 30h1M34 31h1M37 31h1M55 31h1M83 31h1M96 31h3M125 31h1M127 31h1M143 31h1M72 32h1M76 32h1M88 32h1M110 32h1M117 32h1M128 32h2M141 32h1M54 33h1M73 33h1M76 33h1M79 33h1M98 33h1M103 33h1M141 33h1M28 34h1M45 34h1M65 34h1M67 34h1M127 34h1M153 34h1M33 35h1M66 35h1M107 35h1M111 35h1M66 36h1M95 36h1M135 36h1M31 37h1M42 37h1M62 37h1M102 37h1M117 37h1M142 37h3M147 37h1M151 37h1M145 38h1M46 39h1M55 39h1M62 39h1M66 39h1M73 39h1M37 40h1M61 40h1M65 40h1M67 40h1M72 40h1M77 40h1M131 40h1M34 41h1M38 41h1M41 41h1M57 41h1M66 41h1M88 41h1M22 42h1M30 42h1M41 42h1M44 42h1M57 42h1M61 42h1M24 43h1M42 43h1M45 43h1M65 43h1M72 43h1M103 43h1M19 44h1M34 44h1M51 44h1M82 44h1M87 44h1M94 44h1M22 45h1M27 45h1M46 45h1M70 45h1M86 45h1M107 45h1M32 46h1M34 46h1M41 46h1M59 46h1M66 46h1M86 46h3M34 47h1M79 47h2M19 48h1M35 48h1M47 48h1M57 48h1M59 48h1M82 48h1M94 48h1M47 49h1M50 49h1M53 49h3M124 49h1M131 49h1M25 50h1M34 50h2M52 50h1M55 50h2M60 50h1M62 50h1M130 50h1M36 51h1M50 51h1M54 51h1M56 51h1M60 51h2M64 51h1M85 51h1M17 52h2M20 52h1M22 52h1M34 52h1M45 52h1M49 52h1M64 52h1M79 52h1M21 53h1M57 53h2M64 53h1M132 53h1M17 54h1M23 54h1M25 54h1M29 54h1M44 54h1M54 54h1M63 54h1M81 54h1M85 54h1M135 54h2M22 55h2M52 55h1M55 55h1M103 55h1M105 55h1M152 55h1M154 55h1M156 55h1M21 56h1M23 56h1M51 56h1M57 56h1M146 56h2M20 57h1M44 57h1M46 57h1M61 57h1M45 59h1M52 59h1M60 59h1M52 60h1M95 60h1M114 60h1M116 60h1M148 60h2M55 61h1M57 61h2M61 61h1M156 61h1M51 62h1M56 62h1M60 62h1M64 62h1M72 62h1M122 62h1M130 62h2M62 63h1M65 63h1M88 63h1M122 63h1M124 63h1M156 63h1M61 64h1M63 64h2M81 64h1M120 64h1M48 65h1M109 65h1M124 65h1M98 66h1M106 66h1M63 67h1M101 67h1M109 67h1M111 67h1M123 67h1M138 67h1M157 67h1M60 68h1M63 68h1M128 68h1M45 69h1M58 69h1M102 69h1M112 69h1M128 69h1M58 70h2M69 70h1M76 70h1M86 70h1M94 70h1M116 70h1M131 70h1M155 70h1M60 71h2M64 71h1M70 71h1M125 71h1M127 71h1M138 71h1M58 72h1M60 72h1M67 72h2M71 72h1M74 72h1M124 72h1M134 72h1M147 72h1M50 73h1M59 73h1M99 73h1M108 73h1M124 73h2M152 73h1M157 73h1M49 74h1M54 74h1M58 74h1M102 74h1M111 74h1M113 74h1M138 74h1M157 74h1M54 75h1M103 75h1M105 75h1M110 75h1M114 75h1M116 75h1M138 75h1M157 75h1M50 76h1M61 76h1M102 76h2M106 76h1M116 76h1M127 76h1M129 76h1M137 76h1M54 77h2M103 77h1M106 77h1M123 77h1M133 77h1M137 77h1M157 77h1M59 78h1M67 78h1M70 78h1M105 78h1M108 78h1M110 78h2M113 78h1M117 78h1M121 78h1M133 78h1M138 78h1M147 78h1M155 78h1M47 79h1M67 79h1M71 79h1M101 79h1M114 79h1M127 79h1M133 79h2M139 79h1M147 79h1M58 80h1M63 80h1M121 80h1M124 80h1M133 80h1M61 81h1M120 81h1M125 81h1M127 81h1M133 81h1M145 81h1M155 81h1M67 82h1M102 82h1M104 82h1M115 82h1M138 82h1M59 83h1M103 83h1M106 83h1M116 83h1M142 83h1M51 84h1M55 84h2M104 84h1M114 84h1M137 84h2M142 84h1M56 85h1M61 85h2M64 85h1M118 85h1M137 85h2M153 85h1M155 85h1M52 86h1M56 86h1M64 86h1M74 86h1M99 86h1M101 86h1M104 86h1M129 86h1M133 86h1M135 86h1M137 86h1M139 86h1M144 86h1M146 86h2M151 86h1M156 86h1M72 87h1M85 87h1M100 87h2M103 87h1M106 87h2M130 87h1M135 87h1M148 87h1M154 87h1M47 88h1M56 88h1M59 88h1M64 88h1M72 88h1M103 88h2M108 88h1M130 88h1M133 88h2M137 88h1M151 88h1M54 89h1M60 89h2M64 89h1M109 89h1M127 89h1M129 89h1M131 89h1M135 89h1M137 89h1M140 89h1M147 89h1M60 90h1M64 90h1M71 90h1M77 90h1M92 90h1M96 90h1M108 90h1M137 90h2M142 90h1M151 90h1M53 91h1M66 91h1M68 91h1M91 91h1M103 91h2M111 91h1M118 91h1M126 91h1M137 91h1M141 91h1M143 91h1M151 91h1M59 92h2M103 92h1M130 92h2M137 92h1M139 92h1M56 93h1M58 93h1M60 93h1M63 93h2M117 93h1M133 93h1M146 93h1M55 94h1M60 94h1M73 94h1M80 94h1M87 94h1M117 94h1M125 94h1M128 94h1M131 94h1M135 94h1M137 94h1M141 94h2M145 94h1M147 94h1M95 95h1M118 95h1M120 95h2M126 95h1M138 95h1M142 95h1M146 95h1M150 95h1M57 96h1M61 96h1M102 96h1M109 96h1M119 96h1M134 96h1M137 96h1M141 96h1M67 97h1M89 97h1M106 97h1M118 97h1M124 97h1M132 97h2M136 97h1M140 97h1M143 97h2M59 98h1M97 98h1M119 98h1M131 98h1M135 98h1M137 98h1M139 98h1M151 98h1M56 99h1M95 99h1M99 99h1M102 99h1M118 99h1M135 99h1M141 99h1M57 100h2M82 100h1M87 100h1M89 100h1M97 100h1M126 100h1M135 100h1M137 100h1M57 101h1M85 101h1M117 101h2M124 101h1M127 101h1M131 101h1M135 101h1M143 101h1M83 102h1M86 102h1M92 102h1M101 102h1M127 102h1M60 103h1M83 103h1M92 103h1M102 103h1M106 103h1M118 103h1M126 103h2M132 103h2M136 103h1M82 104h1M89 104h1M97 104h2M100 104h3M128 104h1M137 104h1M140 104h1M59 105h1M91 105h2M96 105h2M99 105h5M109 105h1M124 105h1M126 105h1M60 106h1M93 106h1M125 106h1M53 107h2M84 107h1M128 107h2M78 108h1M89 108h2M99 108h1M106 108h1M125 108h1M138 108h1M85 109h1M96 109h2M109 109h1M83 110h2M88 110h1M90 110h1M99 110h1M103 110h1M86 111h1M97 111h2M102 111h1M107 111h1M57 112h1M84 112h1M94 112h1M97 112h1M57 113h1M93 113h2M102 113h1M104 113h1M106 113h1M48 114h1M83 114h1M87 114h1M90 114h1M99 114h1M40 115h1M50 115h1M76 115h1M86 115h1M89 115h1M95 115h2M107 115h1M83 116h1M89 116h1M91 116h2M99 116h3M11 117h1M55 117h1M69 117h1M83 117h2M37 118h1M101 118h1M5 119h1M20 119h1M26 119h1M34 119h1M82 119h1M97 119h1M109 119h1M25 120h1M87 120h1M104 120h1M4 121h1M94 121h1M97 121h1M99 121h1M102 121h2M105 121h1M108 121h1M29 122h1M32 122h1M87 122h1M91 122h1M96 122h1M104 122h2M29 123h1M37 123h1M39 123h1M49 123h1M79 123h1M88 123h1M99 123h1M102 123h1M9 124h1M12 124h1M23 124h1M65 124h1M85 124h1M97 124h1M99 124h1M101 124h1M109 124h1M4 125h1M91 125h1M93 125h1M95 125h1M100 125h1M15 126h1M34 126h1M59 126h1M98 126h1M108 126h2M16 127h2M58 127h1M100 127h4M108 127h1M4 128h1M98 128h2M107 128h1M3 129h1M95 129h1M98 129h1M105 129h1M6 130h1M17 130h1M26 130h1M56 130h1M83 130h1M92 130h1M98 130h1M100 130h1M106 130h1M45 131h1M51 131h1M81 131h1M92 131h3M97 131h1M76 132h1M84 132h1M96 132h1M102 132h2M105 132h1M45 133h1M74 133h1M81 133h1M93 133h1M100 133h1M104 133h2M5 134h1M92 134h1M27 135h1M72 135h1M87 135h1M93 135h1M95 135h1M107 135h1M4 136h1M9 136h2M79 136h1M91 136h1M96 136h1M99 136h1M108 136h1M9 137h2M94 137h1M97 137h1M7 138h1M18 138h1M29 138h1M44 138h1M87 138h1M95 138h1M99 138h1M108 138h1M77 139h1M88 139h2M94 139h1M98 139h1M100 139h1M109 139h1M13 140h1M44 140h1M97 140h1M100 140h2M29 141h1M87 141h1M92 141h1M95 141h1M107 141h2M36 142h1M84 142h1M108 142h1M20 145h1M92 145h1M97 145h1M44 147h1M28 149h1M41 155h2M47 156h1"/><path stroke="#ffa900" d="M107 1h1M156 2h1M106 4h1M113 4h1M152 5h1M121 6h1M127 6h1M131 6h1M103 7h1M145 7h1M150 7h2M88 8h1M91 8h1M111 8h1M125 8h1M150 8h1M117 9h1M89 10h1M120 10h1M155 10h1M138 11h1M73 12h1M95 12h1M139 12h1M80 13h1M89 13h1M95 13h1M113 13h1M74 14h1M83 14h1M106 14h1M57 15h1M72 15h1M117 15h1M56 16h1M73 16h1M95 16h1M103 16h1M130 16h1M66 18h1M104 18h1M46 19h1M49 19h1M44 20h1M47 20h1M50 20h2M114 20h1M44 21h1M63 21h1M66 21h1M79 21h1M93 21h1M71 22h1M95 22h1M117 22h1M39 23h1M45 23h1M72 23h1M78 23h1M98 23h1M104 23h1M126 23h1M134 23h1M41 25h1M44 25h1M54 25h1M56 25h3M62 25h1M97 25h1M131 25h1M136 25h1M149 25h1M43 26h1M48 26h1M126 26h1M128 26h1M34 27h1M43 27h1M47 27h1M49 27h1M59 27h1M61 27h1M87 27h2M98 27h1M103 27h1M108 27h2M116 27h1M125 27h1M143 27h1M37 28h2M49 28h1M60 28h1M62 28h2M86 28h1M115 28h1M119 28h1M48 29h1M59 29h1M66 29h1M103 29h1M108 29h1M112 29h1M119 29h1M122 29h1M32 30h1M34 30h1M37 30h2M40 30h1M100 30h1M114 30h1M119 30h3M138 30h1M143 30h1M149 30h1M56 31h2M59 31h1M64 31h2M75 31h1M78 31h1M85 31h1M116 31h1M119 31h1M142 31h1M30 32h1M39 32h1M46 32h1M79 32h1M102 32h1M112 32h1M121 32h1M123 32h1M140 32h1M143 32h1M150 32h1M30 33h1M50 33h2M59 33h1M87 33h1M89 33h1M97 33h1M108 33h1M111 33h1M121 33h1M127 33h1M132 33h1M152 33h1M36 34h1M85 34h1M107 34h1M115 34h1M143 34h1M30 35h1M61 35h1M63 35h1M85 35h2M88 35h1M95 35h1M25 36h1M32 36h1M59 36h2M63 36h1M86 36h1M97 36h1M103 36h1M128 36h1M134 36h1M45 37h1M52 37h1M97 37h1M99 37h1M119 37h3M123 37h1M127 37h1M146 37h1M28 38h1M30 38h1M34 38h2M37 38h1M51 38h1M53 38h1M59 38h1M100 38h1M132 38h1M139 38h1M45 39h1M47 39h1M57 39h1M122 39h2M125 39h1M133 39h1M31 40h1M38 40h1M46 40h1M48 40h1M64 40h1M69 40h1M71 40h1M81 40h1M112 40h1M121 40h1M129 40h1M21 41h1M24 41h1M26 41h1M64 41h1M83 41h1M86 41h1M92 41h1M23 42h1M25 42h2M60 42h1M115 42h1M34 43h1M37 43h1M46 43h1M53 43h1M56 43h1M69 43h1M106 43h1M23 44h1M38 44h1M43 44h1M66 44h1M68 44h1M81 44h1M89 44h1M95 44h1M19 45h1M24 45h2M52 45h1M54 45h1M72 45h1M80 45h1M87 45h1M94 45h1M101 45h1M26 46h1M29 46h1M35 46h1M55 46h4M64 46h1M69 46h1M79 46h1M96 46h1M101 46h1M117 46h1M25 47h1M32 47h1M39 47h1M49 47h1M51 47h1M55 47h1M58 47h1M63 47h1M74 47h1M82 47h1M88 47h1M48 48h1M55 48h1M63 48h1M65 48h1M71 48h1M75 48h1M78 48h1M80 48h1M87 48h1M90 48h1M123 48h1M22 49h1M25 49h1M33 49h1M35 49h1M49 49h1M52 49h1M61 49h1M89 49h1M96 49h1M126 49h2M31 50h1M49 50h1M59 50h1M63 50h1M79 50h1M87 50h1M104 50h1M108 50h1M131 50h1M24 51h1M49 51h1M58 51h1M79 51h2M94 51h1M96 51h1M102 51h1M26 52h1M54 52h1M60 52h1M76 52h1M81 52h1M85 52h1M97 52h1M133 52h1M22 53h1M26 53h1M30 53h1M48 53h1M61 53h1M63 53h1M83 53h2M92 53h1M27 54h1M33 54h1M43 54h1M52 54h1M59 54h1M65 54h3M76 54h1M89 54h1M99 54h1M17 55h1M43 55h1M60 55h1M72 55h1M81 55h1M86 55h1M145 55h1M25 56h1M45 56h1M56 56h1M60 56h1M73 56h1M105 56h1M119 56h1M148 56h1M155 56h1M51 57h2M60 57h1M62 57h2M79 57h1M90 57h1M156 57h1M18 58h2M60 58h1M69 58h1M83 58h1M123 58h1M141 58h2M156 58h1M62 59h1M64 59h1M58 60h1M65 60h1M69 60h1M141 60h1M143 60h1M62 61h2M73 61h1M77 61h1M54 62h1M59 62h1M61 62h1M66 62h1M91 62h2M121 62h1M123 62h1M125 62h1M146 62h1M159 62h1M66 63h3M85 63h1M93 63h1M129 63h1M133 63h1M157 63h1M55 64h1M57 64h1M59 64h1M65 64h1M49 65h1M56 65h1M65 65h3M69 65h1M84 65h1M92 65h1M108 65h1M115 65h2M154 65h1M59 66h1M64 66h1M109 66h1M117 66h1M122 66h1M140 66h1M64 67h1M103 67h1M139 67h1M142 67h1M66 68h1M69 68h1M110 68h1M127 68h1M131 68h1M157 68h1M43 69h1M63 69h1M65 69h1M90 69h1M105 69h2M111 69h1M127 69h1M129 69h1M68 70h1M72 70h1M87 70h1M97 70h1M102 70h1M110 70h1M112 70h1M130 70h1M134 70h1M148 70h1M62 71h1M67 71h1M69 71h1M110 71h1M131 71h1M133 71h1M136 71h1M141 71h1M147 71h2M157 71h1M43 72h1M46 72h1M59 72h1M66 72h1M69 72h1M90 72h1M107 72h1M117 72h1M122 72h1M133 72h1M141 72h1M143 72h1M145 72h1M158 72h1M54 73h1M61 73h1M67 73h3M77 73h1M98 73h1M109 73h1M113 73h1M122 73h1M143 73h1M45 74h1M48 74h1M50 74h1M104 74h3M109 74h2M117 74h1M133 74h1M56 75h1M70 75h1M83 75h1M102 75h1M104 75h1M107 75h2M115 75h1M117 75h1M124 75h1M49 76h1M56 76h1M60 76h1M75 76h1M105 76h1M107 76h2M115 76h1M126 76h1M130 76h1M132 76h1M157 76h1M57 77h2M63 77h2M69 77h1M107 77h1M113 77h1M115 77h1M135 77h1M139 77h1M147 77h1M153 77h1M60 78h1M71 78h1M77 78h2M112 78h1M119 78h1M122 78h2M148 78h1M50 79h1M63 79h1M65 79h1M76 79h1M100 79h1M106 79h2M117 79h1M141 79h1M148 79h1M48 80h1M61 80h1M65 80h2M74 80h1M76 80h1M101 80h1M103 80h1M108 80h1M125 80h1M135 80h1M142 80h1M54 81h1M57 81h1M64 81h2M107 81h1M123 81h1M137 81h1M152 81h3M48 82h1M52 82h1M54 82h1M65 82h1M77 82h1M85 82h1M89 82h1M107 82h1M112 82h1M119 82h1M124 82h1M133 82h1M135 82h1M144 82h1M48 83h1M53 83h1M55 83h1M61 83h1M68 83h1M70 83h1M74 83h1M76 83h1M113 83h2M127 83h2M139 83h1M152 83h1M65 84h1M73 84h1M75 84h1M82 84h1M103 84h1M107 84h1M116 84h1M122 84h1M124 84h1M53 85h1M63 85h1M73 85h1M78 85h1M99 85h2M104 85h2M128 85h1M139 85h1M152 85h1M154 85h1M65 86h1M100 86h1M107 86h1M123 86h1M140 86h1M143 86h1M50 87h2M54 87h1M56 87h1M59 87h2M71 87h1M93 87h1M96 87h1M102 87h1M122 87h1M124 87h1M127 87h1M138 87h3M143 87h1M146 87h1M152 87h1M58 88h1M62 88h1M69 88h1M82 88h1M102 88h1M125 88h1M129 88h1M131 88h1M138 88h2M152 88h1M155 88h1M55 89h2M59 89h1M74 89h1M77 89h1M107 89h1M142 89h1M145 89h2M148 89h3M51 90h1M54 90h1M57 90h3M83 90h1M98 90h1M101 90h1M117 90h2M123 90h1M125 90h2M128 90h2M132 90h1M134 90h2M140 90h1M148 90h1M150 90h1M152 90h1M51 91h1M55 91h1M62 91h1M64 91h1M98 91h1M102 91h1M124 91h2M144 91h1M150 91h1M153 91h1M52 92h1M55 92h3M63 92h1M101 92h1M104 92h1M106 92h1M119 92h1M136 92h1M145 92h1M148 92h1M150 92h1M51 93h3M65 93h1M96 93h2M108 93h1M112 93h1M123 93h1M130 93h1M134 93h1M145 93h1M52 94h1M56 94h1M93 94h2M96 94h1M104 94h1M109 94h1M124 94h1M133 94h1M143 94h2M148 94h2M151 94h1M57 95h1M63 95h1M136 95h1M148 95h1M58 96h1M66 96h1M97 96h1M111 96h1M127 96h1M136 96h1M148 96h1M84 97h2M87 97h1M100 97h1M105 97h1M107 97h1M121 97h1M125 97h2M58 98h1M101 98h2M104 98h1M107 98h1M120 98h1M125 98h1M133 98h1M136 98h1M140 98h1M57 99h1M66 99h1M103 99h1M117 99h1M126 99h1M132 99h1M140 99h1M144 99h2M71 100h1M101 100h1M119 100h1M132 100h1M134 100h1M71 101h1M100 101h1M111 101h2M133 101h1M89 102h2M107 102h2M116 102h1M132 102h2M142 102h1M86 103h1M93 103h1M95 103h2M103 103h2M109 103h1M128 103h1M59 104h1M90 104h2M93 104h1M95 104h2M108 104h1M60 105h1M86 105h1M88 105h1M107 105h2M127 105h1M83 106h1M92 106h1M95 106h1M99 106h1M104 106h1M61 107h1M63 107h1M82 107h1M89 107h1M97 107h1M103 107h1M107 107h2M125 107h1M84 108h3M88 108h1M94 108h1M109 108h1M52 109h1M77 109h1M108 109h1M105 110h1M83 111h1M94 111h2M100 111h1M83 112h1M89 112h1M91 112h1M98 112h2M105 112h1M86 113h1M98 113h2M40 114h1M52 114h2M55 114h1M88 114h2M98 114h1M125 114h1M52 115h1M85 115h1M87 115h1M92 115h1M108 115h1M55 116h1M71 116h1M87 116h1M98 116h1M8 117h1M44 117h1M92 117h2M97 117h5M103 117h1M105 117h1M8 118h1M12 118h1M18 118h1M49 118h1M86 118h2M89 118h1M91 118h1M97 118h1M99 118h1M7 119h1M9 119h1M21 119h1M80 119h1M96 119h1M107 119h1M3 120h1M12 120h1M17 120h1M33 120h1M39 120h1M82 120h1M92 120h1M96 120h1M108 120h2M28 121h1M61 121h1M90 121h1M93 121h1M104 121h1M109 121h1M4 122h1M7 122h1M51 122h1M82 122h1M94 122h1M97 122h1M99 122h1M14 123h1M50 123h1M62 123h1M87 123h1M89 123h1M96 123h1M100 123h1M24 124h1M46 124h1M54 124h1M60 124h1M80 124h1M96 124h1M106 124h2M3 125h1M33 125h1M79 125h1M81 125h1M94 125h1M96 125h1M98 125h1M102 125h1M104 125h1M108 125h1M16 126h1M38 126h1M50 126h1M86 126h2M97 126h1M103 126h1M105 126h1M11 127h1M18 127h1M40 127h1M92 127h1M94 127h1M99 127h1M11 128h1M23 128h1M27 128h2M42 128h1M45 128h1M59 128h1M73 128h1M95 128h1M103 128h2M16 129h1M21 129h1M92 129h1M94 129h1M107 129h1M4 130h1M54 130h1M84 130h1M86 130h1M107 130h1M3 131h2M91 131h1M95 131h2M98 131h2M105 131h1M3 132h2M33 132h1M39 132h1M45 132h1M88 132h1M91 132h1M97 132h1M99 132h1M108 132h2M3 133h1M38 133h1M44 133h1M21 134h1M38 134h1M72 134h1M86 134h1M94 134h1M105 134h1M4 135h2M7 135h1M84 135h1M86 135h1M94 135h1M105 135h1M5 136h1M8 136h1M19 136h1M100 136h2M71 137h1M82 137h1M84 137h1M88 137h1M91 137h1M96 137h1M103 137h1M107 137h1M92 138h2M96 138h1M103 138h1M99 139h1M91 140h2M109 140h1M15 141h1M17 141h1M86 141h1M89 141h1M93 141h1M96 141h2M93 142h1M96 142h1M98 142h1M95 143h1M101 143h1M100 144h1M51 145h1M96 145h1M98 145h1M24 146h1M66 146h1M96 146h1M96 147h2M28 148h1M94 148h1M93 150h1M35 154h1M51 155h1M53 155h1M44 156h1"/><path stroke="#ff8800" d="M110 1h1M157 2h1M152 3h1M101 4h1M110 4h2M149 4h1M101 5h1M117 5h1M144 5h3M93 6h1M101 6h1M118 6h1M120 6h1M139 6h1M146 6h1M148 6h1M150 6h1M155 6h1M90 7h1M92 7h1M101 7h1M134 7h1M149 7h1M93 8h2M123 8h1M127 8h1M119 9h2M124 9h1M128 9h1M130 9h1M156 9h1M81 10h1M83 10h1M115 10h1M147 10h1M153 10h1M78 11h1M90 11h1M74 12h1M89 12h2M125 12h1M133 12h1M145 12h1M150 12h1M153 12h1M94 13h1M137 13h1M61 14h1M69 14h1M75 14h1M79 14h1M100 14h1M135 14h1M153 14h1M60 15h1M83 15h1M59 16h1M61 16h3M76 16h2M82 16h1M94 16h1M49 17h1M77 17h2M80 17h1M50 18h1M53 18h2M72 18h1M50 19h1M52 19h1M88 19h1M151 19h1M48 20h1M116 20h1M118 20h1M49 21h1M58 21h1M71 21h1M73 21h1M117 21h1M47 22h1M127 22h1M130 22h1M66 23h1M73 23h1M87 23h1M103 23h1M125 23h1M128 23h1M54 24h1M60 24h1M65 24h1M77 24h1M94 24h1M96 24h1M143 24h1M147 24h1M37 25h1M40 25h1M42 25h1M45 25h1M51 25h1M96 25h1M144 25h2M55 26h1M71 26h1M80 26h2M127 26h1M135 26h2M150 26h1M35 27h1M41 27h1M44 27h1M57 27h1M80 27h1M101 27h1M104 27h1M120 27h1M135 27h1M145 27h1M43 28h1M57 28h1M61 28h1M69 28h2M79 28h1M90 28h2M102 28h3M107 28h2M131 28h1M135 28h3M141 28h1M36 29h1M49 29h1M67 29h1M83 29h1M86 29h1M91 29h1M105 29h1M107 29h1M111 29h1M120 29h2M143 29h1M39 30h1M55 30h1M57 30h1M59 30h1M68 30h2M89 30h2M97 30h1M99 30h1M105 30h2M108 30h1M137 30h1M35 31h1M40 31h1M46 31h1M60 31h2M68 31h2M76 31h1M89 31h2M99 31h1M108 31h1M110 31h1M114 31h2M120 31h2M124 31h1M141 31h1M33 32h1M45 32h1M47 32h1M56 32h1M66 32h1M80 32h1M96 32h1M98 32h3M105 32h1M113 32h1M124 32h1M133 32h1M142 32h1M31 33h1M37 33h1M45 33h1M47 33h1M57 33h1M74 33h1M80 33h1M95 33h1M100 33h2M115 33h1M118 33h1M125 33h1M128 33h1M133 33h1M32 34h1M35 34h1M41 34h1M47 34h1M64 34h1M110 34h1M116 34h1M125 34h1M139 34h2M31 35h1M42 35h1M52 35h1M55 35h1M60 35h1M62 35h1M64 35h1M67 35h1M70 35h1M94 35h1M96 35h1M113 35h1M115 35h1M118 35h1M126 35h1M131 35h1M134 35h2M31 36h1M33 36h1M47 36h1M65 36h1M91 36h1M102 36h1M104 36h1M107 36h1M125 36h2M136 36h1M48 37h1M50 37h1M57 37h1M63 37h1M93 37h1M111 37h1M116 37h1M126 37h1M137 37h1M139 37h1M29 38h1M33 38h1M55 38h3M109 38h1M117 38h1M122 38h2M130 38h1M135 38h1M26 39h1M28 39h1M34 39h1M43 39h1M127 39h1M134 39h1M39 40h1M45 40h1M47 40h1M60 40h1M75 40h1M82 40h1M108 40h3M118 40h1M127 40h1M132 40h1M28 41h1M36 41h1M40 41h1M42 41h1M44 41h1M58 41h2M69 41h1M84 41h2M109 41h1M24 42h1M27 42h1M34 42h2M37 42h1M39 42h1M42 42h2M58 42h1M68 42h1M72 42h1M108 42h1M36 43h1M61 43h1M63 43h1M67 43h2M93 43h1M20 44h1M39 44h2M47 44h1M52 44h1M69 44h1M88 44h1M90 44h1M103 44h1M106 44h1M108 44h1M28 45h2M32 45h2M42 45h1M56 45h2M59 45h1M78 45h1M85 45h1M95 45h2M100 45h1M102 45h1M110 45h1M19 46h1M25 46h1M36 46h1M74 46h1M76 46h1M83 46h1M85 46h1M91 46h1M94 46h2M114 46h1M116 46h1M17 47h1M26 47h1M33 47h1M40 47h2M47 47h2M50 47h1M53 47h1M56 47h2M64 47h1M78 47h1M81 47h1M89 47h1M94 47h1M96 47h1M110 47h1M49 48h4M56 48h1M60 48h3M74 48h1M95 48h2M127 48h1M18 49h1M21 49h1M23 49h1M26 49h2M31 49h1M34 49h1M36 49h1M40 49h2M48 49h1M51 49h1M65 49h2M94 49h1M125 49h1M23 50h2M29 50h1M32 50h1M47 50h2M51 50h1M53 50h1M61 50h1M73 50h1M76 50h1M94 50h1M96 50h1M129 50h1M17 51h1M21 51h1M32 51h1M45 51h1M48 51h1M52 51h2M76 51h1M78 51h1M81 51h1M83 51h2M93 51h1M100 51h1M104 51h1M19 52h1M25 52h1M32 52h1M56 52h1M66 52h1M73 52h1M80 52h1M88 52h2M96 52h1M100 52h1M18 53h1M52 53h3M56 53h1M59 53h1M62 53h1M65 53h1M76 53h1M85 53h1M94 53h2M99 53h1M133 53h3M18 54h1M32 54h1M47 54h2M50 54h2M55 54h1M57 54h2M61 54h2M64 54h1M69 54h1M71 54h1M84 54h1M93 54h1M104 54h2M151 54h1M21 55h1M25 55h1M45 55h1M54 55h1M61 55h1M65 55h1M68 55h1M83 55h1M92 55h1M102 55h1M119 55h1M50 56h1M63 56h1M66 56h2M70 56h1M75 56h1M80 56h2M86 56h1M94 56h1M107 56h1M120 56h1M131 56h1M151 56h1M154 56h1M156 56h1M19 57h1M57 57h1M70 57h1M75 57h1M77 57h1M84 57h1M96 57h2M144 57h1M146 57h1M157 57h1M62 58h1M91 58h1M97 58h1M57 59h1M68 59h1M75 59h1M92 59h1M97 59h1M122 59h1M151 59h1M156 59h2M51 60h1M63 60h2M67 60h2M72 60h1M86 60h1M88 60h1M92 60h1M109 60h1M139 60h2M156 60h1M54 61h1M69 61h1M78 61h1M80 61h1M86 61h1M92 61h1M111 61h1M126 61h1M139 61h1M141 61h3M57 62h1M67 62h2M70 62h1M78 62h1M87 62h1M89 62h1M97 62h1M103 62h1M133 62h1M141 62h2M50 63h1M56 63h1M58 63h1M74 63h1M80 63h1M82 63h2M90 63h1M123 63h1M131 63h1M141 63h2M54 64h1M66 64h1M71 64h1M83 64h1M96 64h1M117 64h1M131 64h1M57 65h1M59 65h1M63 65h1M71 65h1M95 65h1M114 65h1M117 65h1M121 65h2M156 65h1M56 66h1M66 66h1M85 66h2M108 66h1M124 66h1M132 66h1M57 67h1M59 67h1M66 67h1M102 67h1M106 67h1M117 67h1M133 67h1M140 67h1M152 67h1M58 68h1M70 68h1M98 68h1M111 68h2M117 68h1M121 68h1M133 68h1M136 68h1M152 68h1M89 69h1M97 69h1M99 69h1M103 69h2M107 69h1M110 69h1M118 69h1M145 69h2M57 70h1M64 70h1M66 70h1M71 70h1M100 70h1M115 70h1M117 70h1M127 70h1M129 70h1M135 70h1M144 70h1M147 70h1M156 70h1M63 71h1M112 71h1M123 71h1M128 71h1M130 71h1M134 71h1M137 71h1M63 72h1M70 72h1M78 72h1M83 72h2M100 72h1M109 72h2M115 72h1M146 72h1M154 72h1M157 72h1M46 73h1M60 73h1M62 73h2M74 73h1M78 73h1M102 73h1M106 73h2M110 73h1M112 73h1M136 73h1M141 73h1M145 73h1M61 74h2M75 74h1M88 74h1M95 74h1M107 74h1M115 74h1M118 74h1M126 74h1M128 74h4M136 74h1M140 74h1M49 75h1M66 75h1M72 75h1M118 75h1M121 75h1M125 75h2M129 75h1M137 75h1M54 76h1M57 76h1M64 76h1M78 76h1M104 76h1M109 76h2M114 76h1M120 76h1M131 76h1M138 76h1M51 77h1M61 77h1M66 77h3M75 77h1M104 77h1M108 77h1M110 77h1M116 77h1M122 77h1M127 77h1M130 77h1M140 77h1M146 77h1M150 77h1M48 78h1M54 78h1M58 78h1M65 78h1M69 78h1M99 78h1M116 78h1M118 78h1M127 78h1M134 78h2M145 78h2M151 78h1M48 79h1M51 79h1M55 79h1M59 79h1M66 79h1M77 79h1M99 79h1M102 79h1M116 79h1M118 79h1M120 79h1M128 79h1M132 79h1M135 79h1M138 79h1M140 79h1M142 79h1M144 79h1M146 79h1M150 79h1M49 80h1M56 80h1M59 80h2M67 80h1M70 80h1M85 80h1M97 80h1M104 80h1M138 80h2M143 80h1M153 80h1M156 80h1M51 81h1M53 81h1M62 81h1M72 81h1M79 81h1M88 81h2M98 81h1M110 81h1M121 81h1M128 81h1M132 81h1M138 81h3M56 82h1M61 82h1M64 82h1M76 82h1M110 82h2M113 82h1M123 82h1M129 82h1M132 82h1M134 82h1M143 82h1M146 82h1M155 82h1M49 83h1M54 83h1M90 83h1M100 83h1M105 83h1M108 83h1M124 83h1M129 83h2M133 83h1M137 83h1M146 83h2M153 83h1M49 84h2M58 84h1M61 84h1M67 84h1M72 84h1M92 84h1M97 84h1M101 84h1M106 84h1M109 84h1M113 84h1M115 84h1M120 84h1M126 84h2M129 84h1M136 84h1M145 84h1M151 84h3M49 85h1M52 85h1M106 85h1M119 85h2M124 85h1M135 85h1M142 85h1M49 86h2M54 86h1M59 86h1M68 86h1M73 86h1M89 86h1M91 86h1M98 86h1M124 86h2M127 86h1M141 86h1M150 86h1M155 86h1M57 87h1M64 87h1M73 87h2M76 87h1M80 87h1M99 87h1M108 87h1M121 87h1M126 87h1M128 87h1M133 87h2M137 87h1M142 87h1M144 87h1M147 87h1M49 88h1M54 88h1M61 88h1M63 88h1M65 88h1M74 88h1M105 88h1M109 88h1M128 88h1M140 88h2M149 88h1M52 89h1M58 89h1M67 89h1M71 89h1M76 89h1M81 89h1M103 89h4M108 89h1M123 89h1M133 89h2M141 89h1M152 89h2M79 90h1M84 90h1M87 90h1M93 90h1M104 90h2M107 90h1M109 90h2M119 90h3M136 90h1M141 90h1M146 90h1M60 91h1M81 91h1M87 91h1M97 91h1M101 91h1M107 91h1M110 91h1M130 91h1M132 91h1M140 91h1M54 92h1M86 92h1M105 92h1M122 92h1M127 92h1M133 92h1M147 92h1M149 92h1M54 93h1M61 93h1M72 93h1M91 93h1M94 93h1M101 93h1M104 93h1M109 93h1M122 93h1M126 93h2M144 93h1M150 93h1M54 94h1M59 94h1M63 94h1M79 94h1M85 94h2M95 94h1M103 94h1M121 94h2M126 94h2M132 94h1M55 95h1M73 95h1M79 95h1M86 95h1M101 95h1M104 95h1M122 95h2M140 95h1M87 96h1M90 96h1M100 96h1M106 96h2M122 96h1M139 96h1M54 97h1M57 97h1M76 97h1M80 97h2M102 97h2M108 97h1M127 97h1M60 98h1M62 98h1M76 98h1M80 98h1M86 98h3M105 98h2M117 98h1M128 98h3M132 98h1M59 99h1M65 99h1M67 99h2M81 99h1M84 99h1M86 99h1M108 99h1M122 99h1M124 99h1M138 99h1M80 100h1M83 100h1M94 100h1M108 100h1M117 100h1M59 101h1M68 101h2M81 101h2M94 101h1M96 101h1M107 101h2M125 101h1M106 102h1M117 102h1M125 102h1M81 103h2M84 103h1M90 103h1M68 104h1M83 104h1M86 104h1M88 104h1M94 104h1M117 104h1M61 105h1M76 105h1M82 105h2M89 105h1M117 105h1M137 105h1M74 106h1M82 106h1M90 106h1M94 106h1M103 106h1M107 106h1M127 106h1M72 107h2M76 107h1M85 107h3M91 107h1M98 107h3M83 108h1M91 108h1M98 108h1M56 109h1M83 109h1M86 109h1M89 109h1M61 110h2M87 110h1M89 110h1M91 110h1M93 110h1M95 110h2M107 110h2M84 111h1M96 111h1M99 111h1M101 111h1M106 111h1M109 111h1M67 112h1M90 112h1M93 112h1M108 112h1M55 113h1M95 113h1M38 114h1M42 114h1M50 114h1M61 114h1M86 114h1M102 114h1M108 114h1M49 115h1M53 115h1M74 115h1M83 115h1M90 115h1M105 115h1M53 116h1M76 116h1M85 116h1M95 116h2M107 116h1M50 117h1M54 117h1M67 117h1M95 117h1M102 117h1M104 117h1M107 117h1M16 118h1M22 118h1M38 118h1M48 118h1M82 118h2M93 118h1M6 119h1M22 119h1M38 119h1M45 119h1M50 119h1M59 119h1M61 119h1M85 119h1M88 119h1M90 119h2M94 119h1M99 119h1M6 120h2M31 120h2M49 120h1M86 120h1M94 120h1M8 121h1M16 121h1M26 121h1M65 121h1M74 121h1M82 121h1M84 121h1M87 121h1M95 121h1M13 122h1M15 122h1M20 122h1M42 122h1M49 122h1M62 122h2M77 122h1M80 122h1M85 122h2M95 122h1M98 122h1M107 122h2M15 123h1M31 123h2M38 123h1M41 123h1M86 123h1M104 123h1M106 123h1M108 123h1M15 124h1M50 124h1M62 124h1M86 124h2M89 124h1M94 124h1M98 124h1M5 125h1M13 125h1M34 125h1M37 125h2M50 125h1M75 125h1M86 125h1M30 126h1M55 126h1M68 126h1M81 126h1M100 126h1M106 126h1M15 127h1M41 127h2M59 127h1M82 127h2M91 127h1M104 127h3M109 127h1M44 128h1M58 128h1M43 129h1M85 129h1M103 129h1M106 129h1M108 129h1M25 130h1M37 130h2M65 130h2M77 130h1M89 130h1M104 130h1M35 131h1M41 131h1M79 131h1M82 131h1M108 131h1M12 132h1M68 132h1M77 132h1M81 132h1M87 132h1M95 132h1M104 132h1M10 133h2M17 133h1M41 133h1M51 133h1M59 133h1M67 133h1M88 133h1M91 133h1M95 133h1M101 133h2M109 133h1M11 134h1M19 134h1M73 134h1M85 134h1M95 134h1M3 135h1M9 135h1M12 135h2M17 135h1M34 135h2M37 135h1M85 135h1M88 135h1M3 136h1M6 136h1M16 136h1M51 136h1M56 136h1M64 136h1M84 136h1M86 136h1M93 136h3M97 136h1M102 136h1M109 136h1M5 137h1M7 137h1M15 137h2M100 137h2M108 137h2M13 138h1M16 138h1M28 138h1M58 138h1M81 138h1M94 138h1M107 138h1M10 139h1M41 139h1M78 139h1M85 139h3M91 139h1M102 139h1M108 139h1M16 140h1M65 140h1M79 140h1M85 140h1M99 140h1M16 141h1M20 141h1M78 141h1M80 141h1M83 141h1M98 141h1M109 141h1M69 142h1M37 143h1M98 143h2M108 143h1M21 144h1M69 144h1M93 145h1M109 145h1M92 146h2M95 147h1M52 149h1M94 149h1M96 149h1M45 151h1M38 155h1"/><path stroke="#ff6700" d="M153 3h1M156 3h1M144 4h1M147 4h1M93 5h1M95 5h1M100 5h1M103 5h2M110 5h1M139 5h1M157 5h1M103 6h1M115 6h1M157 6h1M102 7h1M124 7h1M126 7h1M128 7h1M133 7h1M141 7h3M152 7h1M158 7h1M103 8h1M105 8h1M126 8h1M146 8h1M151 8h1M94 9h1M116 9h1M131 9h1M157 9h1M79 10h1M82 10h1M84 10h1M87 10h1M103 10h1M107 10h1M117 10h1M138 10h1M151 10h2M154 10h1M83 11h1M92 11h1M97 11h2M144 11h1M70 12h1M82 12h1M99 12h1M101 12h1M108 12h1M112 12h1M144 12h1M148 12h1M78 13h1M82 13h1M86 13h1M96 13h1M101 13h1M107 13h3M123 13h1M136 13h1M153 13h1M68 14h1M70 14h1M96 14h1M110 14h1M125 14h1M154 14h1M62 15h2M67 15h1M70 15h1M78 15h1M81 15h1M87 15h2M113 15h1M142 15h1M144 15h1M60 16h1M74 16h1M84 16h1M91 16h1M121 16h1M129 16h1M152 16h1M52 17h1M76 17h1M82 17h1M84 17h1M126 17h1M129 17h1M151 17h1M45 18h1M49 18h1M63 18h1M67 18h1M45 19h1M89 19h1M109 19h1M113 19h1M45 20h1M52 20h2M66 20h1M72 20h1M76 20h1M119 20h2M145 20h1M57 21h1M88 21h1M105 21h1M41 22h2M46 22h1M57 22h1M66 22h2M78 22h1M89 22h1M93 22h1M108 22h1M114 22h1M140 22h2M40 23h1M49 23h1M55 23h1M80 23h1M94 23h1M102 23h1M109 23h1M119 23h1M142 23h1M149 23h1M40 24h1M45 24h1M47 24h1M53 24h1M58 24h1M62 24h1M68 24h1M72 24h1M78 24h1M85 24h1M93 24h1M95 24h1M128 24h1M136 24h1M140 24h1M145 24h1M149 24h1M47 25h1M59 25h1M63 25h1M72 25h1M76 25h1M107 25h1M126 25h1M132 25h1M135 25h1M148 25h1M41 26h2M44 26h1M49 26h1M53 26h1M56 26h1M63 26h2M73 26h1M84 26h1M92 26h1M99 26h1M107 26h1M120 26h1M130 26h1M139 26h1M144 26h1M146 26h1M39 27h1M50 27h1M55 27h2M63 27h2M67 27h1M73 27h1M77 27h1M86 27h1M94 27h1M111 27h1M123 27h1M130 27h1M144 27h1M34 28h1M44 28h1M50 28h1M53 28h1M55 28h1M59 28h1M67 28h2M78 28h1M94 28h1M100 28h1M113 28h1M117 28h1M129 28h2M142 28h1M145 28h2M47 29h1M53 29h1M55 29h1M84 29h2M89 29h1M93 29h1M98 29h1M106 29h1M117 29h1M123 29h1M134 29h1M142 29h1M144 29h1M149 29h1M44 30h1M53 30h1M61 30h1M70 30h1M72 30h1M76 30h1M84 30h1M86 30h2M92 30h1M94 30h3M107 30h1M109 30h1M124 30h2M130 30h1M133 30h1M147 30h1M32 31h2M36 31h1M39 31h1M44 31h1M66 31h2M95 31h1M100 31h1M105 31h2M117 31h2M131 31h1M134 31h2M137 31h1M144 31h2M34 32h1M36 32h1M44 32h1M53 32h1M60 32h1M73 32h2M85 32h1M91 32h1M97 32h1M101 32h1M103 32h2M115 32h1M118 32h2M126 32h1M131 32h1M139 32h1M34 33h1M42 33h1M48 33h1M55 33h1M60 33h1M65 33h1M68 33h1M71 33h1M88 33h1M96 33h1M107 33h1M109 33h2M114 33h1M116 33h2M120 33h1M123 33h2M126 33h1M129 33h2M140 33h1M150 33h2M38 34h1M43 34h1M60 34h2M69 34h1M98 34h2M102 34h1M106 34h1M108 34h1M113 34h1M128 34h1M130 34h1M133 34h1M151 34h1M26 35h2M29 35h1M53 35h2M57 35h1M59 35h1M98 35h1M100 35h1M103 35h3M114 35h1M130 35h1M133 35h1M136 35h1M26 36h1M29 36h1M49 36h1M55 36h1M92 36h1M101 36h1M109 36h1M111 36h3M130 36h1M142 36h1M150 36h1M24 37h1M28 37h1M44 37h1M109 37h2M125 37h1M134 37h1M145 37h1M39 38h1M54 38h1M106 38h1M118 38h1M25 39h1M30 39h2M41 39h1M44 39h1M106 39h1M129 39h1M22 40h1M26 40h1M30 40h1M34 40h1M42 40h3M49 40h3M53 40h1M68 40h1M76 40h1M86 40h2M114 40h1M116 40h1M130 40h1M22 41h2M27 41h1M30 41h1M61 41h3M65 41h1M67 41h2M73 41h1M75 41h1M81 41h1M87 41h1M90 41h1M119 41h2M131 41h2M29 42h1M33 42h1M38 42h1M62 42h3M71 42h1M83 42h1M85 42h1M117 42h2M20 43h2M23 43h1M25 43h1M28 43h1M31 43h1M41 43h1M43 43h1M58 43h1M62 43h1M66 43h1M91 43h1M109 43h1M113 43h2M22 44h1M26 44h1M29 44h2M32 44h2M37 44h1M46 44h1M53 44h1M104 44h1M21 45h1M34 45h2M49 45h1M55 45h1M62 45h1M64 45h1M66 45h1M71 45h1M74 45h1M79 45h1M83 45h1M89 45h3M106 45h1M28 46h1M49 46h2M53 46h2M61 46h1M65 46h1M78 46h1M22 47h1M29 47h1M35 47h1M38 47h1M52 47h1M60 47h1M65 47h1M76 47h1M85 47h3M97 47h1M121 47h1M21 48h1M28 48h2M31 48h1M54 48h1M58 48h1M76 48h2M79 48h1M85 48h1M28 49h1M30 49h1M39 49h1M60 49h1M75 49h2M82 49h1M84 49h2M92 49h2M102 49h2M107 49h1M110 49h1M122 49h1M26 50h1M28 50h1M36 50h1M68 50h1M72 50h1M78 50h1M85 50h2M88 50h1M95 50h1M97 50h1M103 50h1M114 50h1M23 51h1M25 51h2M28 51h1M31 51h1M35 51h1M37 51h2M47 51h1M51 51h1M71 51h3M75 51h1M88 51h1M95 51h1M24 52h1M35 52h1M50 52h1M52 52h1M61 52h3M70 52h1M72 52h1M82 52h1M94 52h2M125 52h1M128 52h1M130 52h1M132 52h1M20 53h1M27 53h1M31 53h1M45 53h1M69 53h2M75 53h1M77 53h1M79 53h1M82 53h1M93 53h1M100 53h1M108 53h2M20 54h1M24 54h1M45 54h1M68 54h1M70 54h1M72 54h1M101 54h1M106 54h2M111 54h1M150 54h1M19 55h1M46 55h1M50 55h1M53 55h1M64 55h1M70 55h1M73 55h1M78 55h1M82 55h1M87 55h1M89 55h1M91 55h1M93 55h1M106 55h1M126 55h1M135 55h1M150 55h2M153 55h1M20 56h1M54 56h2M62 56h1M72 56h1M76 56h1M79 56h1M87 56h1M90 56h2M104 56h1M106 56h1M117 56h1M130 56h1M150 56h1M18 57h1M64 57h2M69 57h1M71 57h1M78 57h1M83 57h1M89 57h1M92 57h1M103 57h1M105 57h1M107 57h1M118 57h1M151 57h1M55 58h2M61 58h1M66 58h1M68 58h1M74 58h1M77 58h1M88 58h3M92 58h1M146 58h1M54 59h2M63 59h1M67 59h1M69 59h1M71 59h1M87 59h1M90 59h1M96 59h1M125 59h1M149 59h1M61 60h1M66 60h1M71 60h1M73 60h1M102 60h1M115 60h1M130 60h1M132 60h1M152 60h1M51 61h3M56 61h1M60 61h1M68 61h1M71 61h1M81 61h2M89 61h1M91 61h1M93 61h1M99 61h1M118 61h1M132 61h1M134 61h1M138 61h1M62 62h1M69 62h1M71 62h1M73 62h2M76 62h1M99 62h1M124 62h1M135 62h1M143 62h1M157 62h1M53 63h2M61 63h1M75 63h1M79 63h1M86 63h1M92 63h1M102 63h1M109 63h1M111 63h1M132 63h1M146 63h1M51 64h1M62 64h1M69 64h2M80 64h1M84 64h1M93 64h1M112 64h1M116 64h1M126 64h1M130 64h1M138 64h1M142 64h1M155 64h1M55 65h1M60 65h1M64 65h1M68 65h1M70 65h1M74 65h1M77 65h1M110 65h1M113 65h1M120 65h1M135 65h1M60 66h1M67 66h1M72 66h1M75 66h2M82 66h2M114 66h1M120 66h1M128 66h1M136 66h1M138 66h1M156 66h1M60 67h1M62 67h1M70 67h2M73 67h2M79 67h1M84 67h1M90 67h1M93 67h1M108 67h1M110 67h1M113 67h1M116 67h1M120 67h1M122 67h1M130 67h1M134 67h1M136 67h1M151 67h1M59 68h1M65 68h1M71 68h1M78 68h1M83 68h1M86 68h1M102 68h1M108 68h1M116 68h1M119 68h2M129 68h1M150 68h1M156 68h1M67 69h1M74 69h1M77 69h1M88 69h1M91 69h1M94 69h1M117 69h1M120 69h1M126 69h1M156 69h1M61 70h1M67 70h1M70 70h1M75 70h1M77 70h1M83 70h1M93 70h1M95 70h1M101 70h1M104 70h1M109 70h1M114 70h1M136 70h1M145 70h1M58 71h1M77 71h1M79 71h2M83 71h1M86 71h1M103 71h2M111 71h1M135 71h1M144 71h1M146 71h1M62 72h1M65 72h1M72 72h1M97 72h1M102 72h2M105 72h1M112 72h3M116 72h1M127 72h1M130 72h1M135 72h1M137 72h1M152 72h1M156 72h1M49 73h1M51 73h1M55 73h1M57 73h1M64 73h1M73 73h1M75 73h1M87 73h3M91 73h2M116 73h1M127 73h3M131 73h1M137 73h1M140 73h1M147 73h1M156 73h1M47 74h1M56 74h1M60 74h1M65 74h2M68 74h2M71 74h1M83 74h1M101 74h1M120 74h1M125 74h1M127 74h1M143 74h1M145 74h1M147 74h1M48 75h1M50 75h2M53 75h1M62 75h1M64 75h1M69 75h1M71 75h1M73 75h2M78 75h1M101 75h1M109 75h1M112 75h1M119 75h2M131 75h1M139 75h3M51 76h2M58 76h1M81 76h1M83 76h1M99 76h1M112 76h1M117 76h1M122 76h1M136 76h1M140 76h1M152 76h1M50 77h1M60 77h1M65 77h1M70 77h1M72 77h1M78 77h1M100 77h2M111 77h1M118 77h2M124 77h1M126 77h1M136 77h1M151 77h1M51 78h1M57 78h1M61 78h1M63 78h1M66 78h1M74 78h1M97 78h2M103 78h2M114 78h1M120 78h1M128 78h1M136 78h1M141 78h2M149 78h1M152 78h1M53 79h1M57 79h1M81 79h1M83 79h1M89 79h1M103 79h1M109 79h2M119 79h1M129 79h1M131 79h1M136 79h1M145 79h1M149 79h1M154 79h1M50 80h1M53 80h1M57 80h1M69 80h1M71 80h2M87 80h1M100 80h1M102 80h1M109 80h1M126 80h3M136 80h1M140 80h1M144 80h1M147 80h2M154 80h1M48 81h3M56 81h1M63 81h1M68 81h1M71 81h1M76 81h1M99 81h1M101 81h2M104 81h2M108 81h1M111 81h1M119 81h1M122 81h1M126 81h1M131 81h1M136 81h1M143 81h1M148 81h1M50 82h1M53 82h1M63 82h1M68 82h1M70 82h3M78 82h1M81 82h1M84 82h1M88 82h1M99 82h1M103 82h1M106 82h1M121 82h2M126 82h3M131 82h1M137 82h1M145 82h1M154 82h1M50 83h1M52 83h1M60 83h1M69 83h1M79 83h1M92 83h1M102 83h1M110 83h1M120 83h1M123 83h1M125 83h1M131 83h2M136 83h1M140 83h2M144 83h2M52 84h3M62 84h3M66 84h1M69 84h2M102 84h1M108 84h1M112 84h1M118 84h1M128 84h1M148 84h1M150 84h1M154 84h1M50 85h2M72 85h1M79 85h1M98 85h1M103 85h1M107 85h1M130 85h2M143 85h1M58 86h1M66 86h2M75 86h1M80 86h2M93 86h1M105 86h2M108 86h1M128 86h1M131 86h2M153 86h1M68 87h1M109 87h1M120 87h1M123 87h1M125 87h1M131 87h2M145 87h1M51 88h1M60 88h1M66 88h1M78 88h1M84 88h1M95 88h3M120 88h1M122 88h1M124 88h1M136 88h1M142 88h1M150 88h1M50 89h1M53 89h1M65 89h1M68 89h2M72 89h1M83 89h1M85 89h1M90 89h1M101 89h1M119 89h1M138 89h1M143 89h1M151 89h1M53 90h1M63 90h1M65 90h2M74 90h1M78 90h1M81 90h2M85 90h1M89 90h3M139 90h1M52 91h1M63 91h1M67 91h1M79 91h2M83 91h1M108 91h1M119 91h1M122 91h2M133 91h1M146 91h1M149 91h1M51 92h1M62 92h1M74 92h1M77 92h1M84 92h1M88 92h1M98 92h1M110 92h1M120 92h2M134 92h1M151 92h1M62 93h1M73 93h1M87 93h1M93 93h1M95 93h1M99 93h1M105 93h1M118 93h1M124 93h1M128 93h1M147 93h2M81 94h1M83 94h1M90 94h1M106 94h1M110 94h1M123 94h1M146 94h1M58 95h1M62 95h1M64 95h1M80 95h1M91 95h1M105 95h2M109 95h2M119 95h1M124 95h1M134 95h1M149 95h1M60 96h1M78 96h1M80 96h1M84 96h1M89 96h1M103 96h1M105 96h1M124 96h1M55 97h2M58 97h1M68 97h1M77 97h1M88 97h1M97 97h1M99 97h1M120 97h1M123 97h1M137 97h1M61 98h1M65 98h1M79 98h1M81 98h1M89 98h1M96 98h1M100 98h1M138 98h1M69 99h1M79 99h1M87 99h1M93 99h2M96 99h1M100 99h2M105 99h1M116 99h1M133 99h1M59 100h1M67 100h1M81 100h1M84 100h2M88 100h1M100 100h1M104 100h1M124 100h2M130 100h1M133 100h1M58 101h1M79 101h1M91 101h1M77 102h1M82 102h1M85 102h1M88 102h1M91 103h1M107 103h1M76 104h2M84 104h1M92 104h1M104 104h1M75 105h1M85 105h1M87 105h1M125 105h1M63 106h1M65 106h1M77 106h1M85 106h1M87 106h1M100 106h1M109 106h1M64 107h1M77 107h1M88 107h1M94 107h1M109 107h1M52 108h1M61 108h1M63 108h1M66 108h1M76 108h2M95 108h1M63 109h1M74 109h2M82 109h1M88 109h1M91 109h1M93 109h1M107 109h1M77 110h1M109 110h1M60 111h1M67 111h1M72 111h1M75 111h1M77 111h1M66 112h1M82 112h1M107 112h1M77 113h1M107 113h2M54 114h1M68 114h1M72 114h1M74 114h2M85 114h1M107 114h1M109 114h1M42 115h2M55 115h1M57 115h1M75 115h1M77 115h1M84 115h1M88 115h1M104 115h1M51 116h1M68 116h1M74 116h1M84 116h1M86 116h1M88 116h1M109 116h1M13 117h1M16 117h1M38 117h1M42 117h2M51 117h2M56 117h1M79 117h1M85 117h1M108 117h1M5 118h1M13 118h3M17 118h1M47 118h1M50 118h1M55 118h1M67 118h1M71 118h1M88 118h1M94 118h1M107 118h1M109 118h1M8 119h1M10 119h1M35 119h1M37 119h1M44 119h1M52 119h1M62 119h2M83 119h1M95 119h1M98 119h1M108 119h1M4 120h1M8 120h1M11 120h1M15 120h1M19 120h2M22 120h3M26 120h1M53 120h1M66 120h1M71 120h2M83 120h1M89 120h3M5 121h1M15 121h1M17 121h1M21 121h1M24 121h1M30 121h2M33 121h2M51 121h1M62 121h1M64 121h1M70 121h1M83 121h1M14 122h1M21 122h1M33 122h1M54 122h1M65 122h1M109 122h1M7 123h1M16 123h1M24 123h1M33 123h1M40 123h1M43 123h2M51 123h1M55 123h1M57 123h1M61 123h1M91 123h1M105 123h1M107 123h1M4 124h1M14 124h1M20 124h1M33 124h4M39 124h1M66 124h1M72 124h1M77 124h1M105 124h1M108 124h1M7 125h1M14 125h2M18 125h1M23 125h1M44 125h1M48 125h2M52 125h2M55 125h1M59 125h1M65 125h1M83 125h2M109 125h1M4 126h1M13 126h1M32 126h2M36 126h1M39 126h1M93 126h1M96 126h1M13 127h1M30 127h1M33 127h1M49 127h1M73 127h1M86 127h1M89 127h1M12 128h1M15 128h1M21 128h1M26 128h1M30 128h1M61 128h1M82 128h1M88 128h2M92 128h1M94 128h1M106 128h1M7 129h1M10 129h1M20 129h1M42 129h1M52 129h1M88 129h1M104 129h1M109 129h1M5 130h1M15 130h1M27 130h2M35 130h1M40 130h1M47 130h1M53 130h1M80 130h1M85 130h1M108 130h1M5 131h1M25 131h2M36 131h1M49 131h1M80 131h1M83 131h1M88 131h2M103 131h2M106 131h1M5 132h2M16 132h1M19 132h1M30 132h1M38 132h1M42 132h1M70 132h1M82 132h1M89 132h1M98 132h1M8 133h1M12 133h1M14 133h1M69 133h1M73 133h1M106 133h1M2 134h1M8 134h2M17 134h1M20 134h1M27 134h1M47 134h3M93 134h1M107 134h1M31 135h1M51 135h1M106 135h1M7 136h1M14 136h1M18 136h1M52 136h1M72 136h1M83 136h1M88 136h1M92 136h1M107 136h1M18 137h2M50 137h1M80 137h2M87 137h1M102 137h1M12 138h1M15 138h1M17 138h1M37 138h1M42 138h1M49 138h1M62 138h1M77 138h3M82 138h1M97 138h1M109 138h1M17 139h1M43 139h1M48 139h1M15 140h1M17 140h1M22 140h1M25 140h1M33 140h1M43 140h1M64 140h1M71 140h1M14 141h1M18 141h2M25 141h1M69 141h1M79 141h1M82 141h1M99 141h1M94 142h2M17 143h1M22 143h1M29 143h1M100 143h1M18 144h1M56 144h1M92 144h1M56 146h1M95 146h1M97 146h1M34 149h1M36 150h1M64 151h1M62 152h1M38 154h1M40 154h1M50 154h1M59 154h1M39 155h1M42 156h1"/><path stroke="#ff4600" d="M155 3h1M157 3h1M109 4h1M154 4h1M157 4h1M102 5h1M108 5h1M154 5h1M156 5h1M98 6h1M100 6h1M108 6h2M119 6h1M143 6h3M156 6h1M158 6h1M94 7h1M127 7h1M132 7h1M154 7h2M87 8h1M89 8h1M92 8h1M95 8h1M101 8h1M112 8h1M116 8h1M132 8h1M155 8h1M97 9h1M101 9h2M125 9h1M147 9h1M154 9h2M85 10h1M91 10h1M106 10h1M114 10h1M119 10h1M142 10h1M77 11h1M93 11h2M99 11h1M103 11h1M119 11h1M135 11h1M150 11h1M152 11h1M92 12h1M96 12h2M126 12h1M137 12h2M146 12h1M151 12h1M75 13h1M81 13h1M84 13h1M87 13h1M97 13h1M99 13h1M104 13h1M121 13h1M125 13h1M138 13h1M148 13h1M65 14h1M73 14h1M87 14h2M94 14h1M104 14h1M109 14h1M111 14h1M115 14h1M133 14h2M136 14h1M55 15h1M95 15h1M97 15h2M112 15h1M129 15h1M135 15h2M152 15h2M64 16h1M70 16h1M78 16h3M85 16h1M97 16h1M108 16h1M112 16h2M120 16h1M122 16h1M149 16h1M61 17h1M91 17h1M101 17h1M103 17h1M105 17h1M107 17h1M109 17h1M113 17h1M115 17h1M128 17h1M64 18h1M68 18h2M79 18h1M83 18h1M85 18h1M87 18h2M91 18h1M94 18h1M138 18h1M146 18h1M64 19h1M66 19h1M68 19h1M65 20h1M68 20h1M73 20h3M86 20h1M89 20h1M46 21h1M52 21h1M59 21h1M65 21h1M70 21h1M74 21h1M76 21h1M82 21h1M92 21h1M104 21h1M106 21h1M115 21h1M138 21h1M43 22h1M52 22h1M55 22h1M60 22h1M72 22h2M79 22h1M92 22h1M113 22h1M124 22h1M148 22h1M44 23h1M54 23h1M64 23h1M71 23h1M77 23h1M79 23h1M89 23h2M92 23h2M95 23h3M108 23h1M127 23h1M130 23h1M143 23h1M150 23h1M39 24h1M51 24h2M59 24h1M63 24h2M67 24h1M69 24h2M80 24h1M82 24h1M86 24h2M104 24h2M108 24h1M114 24h1M137 24h1M142 24h1M144 24h1M38 25h1M43 25h1M49 25h1M60 25h2M69 25h1M73 25h1M94 25h2M113 25h2M127 25h3M139 25h1M36 26h2M47 26h1M52 26h1M62 26h1M65 26h1M67 26h2M70 26h1M72 26h1M74 26h1M82 26h1M102 26h1M104 26h1M117 26h1M119 26h1M133 26h2M42 27h1M45 27h2M48 27h1M52 27h2M58 27h1M69 27h1M72 27h1M75 27h1M81 27h1M90 27h1M97 27h1M117 27h3M128 27h2M131 27h1M134 27h1M146 27h1M148 27h1M36 28h1M39 28h4M45 28h2M58 28h1M73 28h1M95 28h1M98 28h1M132 28h1M139 28h1M143 28h1M33 29h1M37 29h1M39 29h1M51 29h1M56 29h2M61 29h1M64 29h1M69 29h1M81 29h1M87 29h2M90 29h1M99 29h1M104 29h1M109 29h1M114 29h2M118 29h1M128 29h1M33 30h1M36 30h1M41 30h1M43 30h1M47 30h1M56 30h1M60 30h1M79 30h1M83 30h1M85 30h1M88 30h1M91 30h1M104 30h1M110 30h2M116 30h2M132 30h1M145 30h2M41 31h2M51 31h2M54 31h1M62 31h2M72 31h1M81 31h1M84 31h1M91 31h1M94 31h1M102 31h1M104 31h1M112 31h1M122 31h1M128 31h1M130 31h1M35 32h1M38 32h1M54 32h1M59 32h1M69 32h1M82 32h1M84 32h1M89 32h2M106 32h3M132 32h1M134 32h2M138 32h1M147 32h1M151 32h1M32 33h1M38 33h3M52 33h1M58 33h1M61 33h1M64 33h1M82 33h1M90 33h1M93 33h1M102 33h1M104 33h2M122 33h1M138 33h2M142 33h4M147 33h1M34 34h1M42 34h1M46 34h1M48 34h1M62 34h1M70 34h1M83 34h1M104 34h2M109 34h1M111 34h1M122 34h1M124 34h1M131 34h2M136 34h2M43 35h4M99 35h1M102 35h1M106 35h1M112 35h1M117 35h1M119 35h1M127 35h2M148 35h1M37 36h1M44 36h2M50 36h2M54 36h1M56 36h1M88 36h1M93 36h2M98 36h1M100 36h1M106 36h1M119 36h1M34 37h2M38 37h1M46 37h1M49 37h1M51 37h1M108 37h1M114 37h1M122 37h1M124 37h1M130 37h1M133 37h1M136 37h1M24 38h1M31 38h2M36 38h1M44 38h1M48 38h1M50 38h1M119 38h1M27 39h1M29 39h1M33 39h1M42 39h1M50 39h3M119 39h2M128 39h1M25 40h1M41 40h1M63 40h1M89 40h1M117 40h1M120 40h1M32 41h1M39 41h1M45 41h2M70 41h1M80 41h1M112 41h2M128 41h1M31 42h1M45 42h1M59 42h1M65 42h1M78 42h3M82 42h1M84 42h1M87 42h2M113 42h1M116 42h1M119 42h1M22 43h1M29 43h1M33 43h1M38 43h3M57 43h1M70 43h1M74 43h1M21 44h1M24 44h1M27 44h1M31 44h1M35 44h1M41 44h1M55 44h3M61 44h1M63 44h1M67 44h1M71 44h3M79 44h1M92 44h1M105 44h1M109 44h1M111 44h1M39 45h1M47 45h1M53 45h1M58 45h1M61 45h1M63 45h1M68 45h2M73 45h1M76 45h1M82 45h1M108 45h1M111 45h4M33 46h1M38 46h1M52 46h1M62 46h2M72 46h2M89 46h2M103 46h1M105 46h1M118 46h1M18 47h1M20 47h1M54 47h1M59 47h1M62 47h1M75 47h1M77 47h1M95 47h1M103 47h1M109 47h1M22 48h1M24 48h1M27 48h1M36 48h1M70 48h1M72 48h1M81 48h1M84 48h1M88 48h1M93 48h1M97 48h1M100 48h1M102 48h1M117 48h1M20 49h1M57 49h2M64 49h1M68 49h1M79 49h2M83 49h1M86 49h1M111 49h1M115 49h1M20 50h2M39 50h1M50 50h1M54 50h1M58 50h1M65 50h1M75 50h1M77 50h1M82 50h1M84 50h1M92 50h1M98 50h1M100 50h1M105 50h3M110 50h1M112 50h1M20 51h1M29 51h2M62 51h1M69 51h1M74 51h1M82 51h1M86 51h2M107 51h1M110 51h2M113 51h1M125 51h1M27 52h1M51 52h1M68 52h1M77 52h1M84 52h1M111 52h1M23 53h3M28 53h2M67 53h1M73 53h1M78 53h1M80 53h1M101 53h1M128 53h1M19 54h1M26 54h1M56 54h1M73 54h2M86 54h1M100 54h1M125 54h1M132 54h1M134 54h1M48 55h1M51 55h1M59 55h1M63 55h1M66 55h2M69 55h1M80 55h1M85 55h1M94 55h1M100 55h1M111 55h1M136 55h1M58 56h1M78 56h1M95 56h1M111 56h1M122 56h1M124 56h1M149 56h1M53 57h1M67 57h2M72 57h2M81 57h1M93 57h1M95 57h1M101 57h1M109 57h1M119 57h1M122 57h3M143 57h1M149 57h1M154 57h1M45 58h1M65 58h1M72 58h1M84 58h2M96 58h1M108 58h1M113 58h1M122 58h1M125 58h1M147 58h1M149 58h3M58 59h2M65 59h1M70 59h1M79 59h1M82 59h2M88 59h1M91 59h1M112 59h1M115 59h1M123 59h1M132 59h2M140 59h1M144 59h1M150 59h1M54 60h1M56 60h1M79 60h1M81 60h1M83 60h2M87 60h1M89 60h1M91 60h1M96 60h1M103 60h1M106 60h1M117 60h1M120 60h2M126 60h1M128 60h1M131 60h1M138 60h1M142 60h1M146 60h1M153 60h1M59 61h1M70 61h1M74 61h1M102 61h1M109 61h1M117 61h1M125 61h1M133 61h1M52 62h2M55 62h1M79 62h2M82 62h1M104 62h2M108 62h1M110 62h1M126 62h1M132 62h1M136 62h1M139 62h2M145 62h1M155 62h1M59 63h1M69 63h1M73 63h1M78 63h1M87 63h1M91 63h1M95 63h1M104 63h1M107 63h1M110 63h1M125 63h1M127 63h1M139 63h1M145 63h1M50 64h1M53 64h1M60 64h1M67 64h2M85 64h2M91 64h1M95 64h1M97 64h1M99 64h1M114 64h1M119 64h1M123 64h1M150 64h1M153 64h2M50 65h1M61 65h1M72 65h1M75 65h1M81 65h2M87 65h1M99 65h1M101 65h1M126 65h1M134 65h1M142 65h2M155 65h1M57 66h1M61 66h1M65 66h1M68 66h1M70 66h1M94 66h1M102 66h2M113 66h1M121 66h1M123 66h1M134 66h1M139 66h1M146 66h1M61 67h1M69 67h1M78 67h1M81 67h1M83 67h1M86 67h1M88 67h1M92 67h1M97 67h1M105 67h1M121 67h1M128 67h1M141 67h1M150 67h1M64 68h1M67 68h1M72 68h1M75 68h1M77 68h1M88 68h1M93 68h1M105 68h1M114 68h1M132 68h1M134 68h2M142 68h1M149 68h1M69 69h1M71 69h1M76 69h1M79 69h1M93 69h1M95 69h1M98 69h1M113 69h1M116 69h1M131 69h1M134 69h1M143 69h1M150 69h1M155 69h1M62 70h1M81 70h1M85 70h1M90 70h2M98 70h2M103 70h1M108 70h1M133 70h1M143 70h1M65 71h1M71 71h1M73 71h2M78 71h1M85 71h1M89 71h1M92 71h1M96 71h1M98 71h1M101 71h1M113 71h1M116 71h1M140 71h1M143 71h1M145 71h1M151 71h1M56 72h1M79 72h2M85 72h2M88 72h1M91 72h1M93 72h2M99 72h1M101 72h1M104 72h1M125 72h2M136 72h1M138 72h1M144 72h1M153 72h1M56 73h1M66 73h1M70 73h1M80 73h1M84 73h1M100 73h1M104 73h2M114 73h1M117 73h1M126 73h1M130 73h1M138 73h2M144 73h1M148 73h1M51 74h3M73 74h1M87 74h1M90 74h1M124 74h1M134 74h1M139 74h1M142 74h1M151 74h2M52 75h1M60 75h1M63 75h1M65 75h1M68 75h1M81 75h1M93 75h2M99 75h1M130 75h1M136 75h1M142 75h1M144 75h2M147 75h1M149 75h1M153 75h1M47 76h2M55 76h1M59 76h1M79 76h2M93 76h1M97 76h1M100 76h1M121 76h1M123 76h1M144 76h1M146 76h1M71 77h1M73 77h1M77 77h1M81 77h1M109 77h1M120 77h2M125 77h1M128 77h2M132 77h1M152 77h1M155 77h1M62 78h1M68 78h1M75 78h1M79 78h1M85 78h1M88 78h1M91 78h1M95 78h1M100 78h1M124 78h3M130 78h1M137 78h1M56 79h1M58 79h1M60 79h1M68 79h1M74 79h1M80 79h1M84 79h1M90 79h2M105 79h1M123 79h3M130 79h1M137 79h1M151 79h3M155 79h1M51 80h1M68 80h1M75 80h1M78 80h1M80 80h1M98 80h2M110 80h1M118 80h3M122 80h1M130 80h1M155 80h1M55 81h1M66 81h1M70 81h1M73 81h1M96 81h1M124 81h1M134 81h1M141 81h1M144 81h1M149 81h1M49 82h1M55 82h1M73 82h3M80 82h1M82 82h2M91 82h1M105 82h1M108 82h2M120 82h1M139 82h1M147 82h1M150 82h1M152 82h1M51 83h1M65 83h3M75 83h1M78 83h1M81 83h1M101 83h1M143 83h1M149 83h2M60 84h1M68 84h1M74 84h1M76 84h1M79 84h1M86 84h2M111 84h1M119 84h1M125 84h1M135 84h1M146 84h1M54 85h1M57 85h2M60 85h1M66 85h1M71 85h1M75 85h1M77 85h1M80 85h1M87 85h1M89 85h2M92 85h1M94 85h1M121 85h1M125 85h3M134 85h1M140 85h1M144 85h1M146 85h1M57 86h1M69 86h2M72 86h1M76 86h1M90 86h1M94 86h2M97 86h1M122 86h1M148 86h2M152 86h1M154 86h1M65 87h2M83 87h2M86 87h1M92 87h1M94 87h1M141 87h1M153 87h1M50 88h1M70 88h1M87 88h1M93 88h1M99 88h1M123 88h1M143 88h2M57 89h1M62 89h1M66 89h1M70 89h1M75 89h1M78 89h1M82 89h1M87 89h1M93 89h1M96 89h1M110 89h1M120 89h1M126 89h1M130 89h1M50 90h1M52 90h1M70 90h1M80 90h1M94 90h2M97 90h1M127 90h1M131 90h1M65 91h1M77 91h1M84 91h2M88 91h1M121 91h1M127 91h1M131 91h1M134 91h1M148 91h1M70 92h2M78 92h2M82 92h2M85 92h1M93 92h1M96 92h1M109 92h1M123 92h1M126 92h1M67 93h2M71 93h1M80 93h1M86 93h1M88 93h2M106 93h1M125 93h1M58 94h1M61 94h2M68 94h1M76 94h1M89 94h1M102 94h1M134 94h1M61 95h1M72 95h1M78 95h1M81 95h1M83 95h2M87 95h1M89 95h1M92 95h1M97 95h1M125 95h1M147 95h1M59 96h1M65 96h1M88 96h1M94 96h1M99 96h1M104 96h1M108 96h1M125 96h2M59 97h1M62 97h2M65 97h1M74 97h2M78 97h2M86 97h1M93 97h1M104 97h1M66 98h1M68 98h1M82 98h1M95 98h1M108 98h1M62 99h1M70 99h1M80 99h1M88 99h1M92 99h1M106 99h1M125 99h1M60 100h2M69 100h1M78 100h1M90 100h1M60 101h1M67 101h1M75 101h1M83 101h2M90 101h1M92 101h1M95 101h1M105 101h1M132 101h1M65 102h1M68 102h1M70 102h1M78 102h1M80 102h1M94 102h2M68 103h1M87 103h3M108 103h1M69 104h1M72 104h1M74 104h1M85 104h1M87 104h1M109 104h1M127 104h1M84 105h1M62 106h1M68 106h1M75 106h1M88 106h1M96 106h1M62 107h1M65 107h1M83 107h1M90 107h1M71 108h1M75 108h1M82 108h1M87 108h1M96 108h1M62 109h1M76 109h1M78 109h1M92 109h1M63 110h2M74 110h1M76 110h1M82 110h1M64 111h1M70 111h1M73 111h1M76 111h1M105 111h1M58 112h2M65 112h1M72 112h1M104 112h1M106 112h1M56 113h1M74 113h2M84 113h1M57 114h2M82 114h1M41 115h1M44 115h2M47 115h1M58 115h1M61 115h1M82 115h1M109 115h1M61 116h1M102 116h3M106 116h1M108 116h1M39 117h1M41 117h1M53 117h1M61 117h1M63 117h1M77 117h1M86 117h1M94 117h1M106 117h1M109 117h1M4 118h1M7 118h1M10 118h1M40 118h1M42 118h1M44 118h1M51 118h2M58 118h2M62 118h1M68 118h1M70 118h1M90 118h1M12 119h2M17 119h1M23 119h1M39 119h1M49 119h1M67 119h1M70 119h1M84 119h1M9 120h1M14 120h1M18 120h1M37 120h2M40 120h1M60 120h1M62 120h1M67 120h2M84 120h2M107 120h1M12 121h2M20 121h1M22 121h1M25 121h1M32 121h1M37 121h1M39 121h1M41 121h2M46 121h1M52 121h1M63 121h1M91 121h1M6 122h1M9 122h1M12 122h1M19 122h1M28 122h1M30 122h1M34 122h2M43 122h1M50 122h1M55 122h1M61 122h1M83 122h1M93 122h1M8 123h3M20 123h1M23 123h1M28 123h1M30 123h1M34 123h1M52 123h1M56 123h1M70 123h1M78 123h1M85 123h1M92 123h1M10 124h2M13 124h1M16 124h1M18 124h1M44 124h1M53 124h1M55 124h3M61 124h1M67 124h1M84 124h1M93 124h1M12 125h1M21 125h1M30 125h2M36 125h1M40 125h1M47 125h1M60 125h1M66 125h1M69 125h1M77 125h1M80 125h1M85 125h1M92 125h1M106 125h1M8 126h1M18 126h1M31 126h1M35 126h1M37 126h1M43 126h4M56 126h1M76 126h1M88 126h1M91 126h1M107 126h1M4 127h2M37 127h1M48 127h1M53 127h1M56 127h1M87 127h2M5 128h1M7 128h4M13 128h1M47 128h1M54 128h1M72 128h1M86 128h1M105 128h1M109 128h1M6 129h1M8 129h2M15 129h1M19 129h1M23 129h1M29 129h2M81 129h1M87 129h1M23 130h1M39 130h1M50 130h1M52 130h1M57 130h2M64 130h1M68 130h1M87 130h1M6 131h1M28 131h1M33 131h1M42 131h1M50 131h1M57 131h1M59 131h1M66 131h3M74 131h1M13 132h1M26 132h1M36 132h2M56 132h1M73 132h1M78 132h1M106 132h2M5 133h1M9 133h1M18 133h1M21 133h2M28 133h1M53 133h1M61 133h1M68 133h1M70 133h1M87 133h1M108 133h1M16 134h1M18 134h1M26 134h1M36 134h1M50 134h1M71 134h1M76 134h2M79 134h3M87 134h2M106 134h1M108 134h2M6 135h1M10 135h1M25 135h2M71 135h1M92 135h1M109 135h1M17 136h1M20 136h1M32 136h4M40 136h1M53 136h1M75 136h1M82 136h1M87 136h1M106 136h1M12 137h1M20 137h1M59 137h1M83 137h1M92 137h2M98 137h1M14 138h1M25 138h1M31 138h1M40 138h1M50 138h1M83 138h1M85 138h1M88 138h1M98 138h1M16 139h1M18 139h3M31 139h1M47 139h1M53 139h1M70 139h1M80 139h3M20 140h1M24 140h1M40 140h2M46 140h1M77 140h2M80 140h1M84 140h1M87 140h1M24 141h1M28 141h1M81 141h1M102 141h1M20 142h1M23 142h1M28 142h1M45 142h1M97 142h1M99 142h1M19 143h2M30 143h1M70 143h1M36 144h1M26 145h1M28 146h1M94 146h1M49 148h1M51 148h1M31 149h1M35 149h1M42 149h1M65 151h1M60 152h2M37 153h1M51 153h1M58 153h1M39 154h1M55 154h2M47 155h1"/><path stroke="#ff2500" d="M154 3h1M158 3h1M102 4h1M152 4h1M156 4h1M106 5h1M112 5h1M120 5h1M150 5h1M95 6h1M97 6h1M99 6h1M105 6h3M116 6h1M135 6h1M141 6h1M153 6h2M93 7h1M104 7h1M107 7h2M117 7h1M120 7h1M122 7h1M136 7h1M146 7h1M153 7h1M100 8h1M104 8h1M110 8h1M113 8h1M120 8h1M124 8h1M129 8h2M140 8h1M142 8h1M149 8h1M86 9h2M91 9h3M98 9h1M104 9h2M114 9h2M123 9h1M141 9h1M143 9h3M150 9h1M88 10h1M94 10h2M97 10h2M100 10h3M112 10h1M133 10h1M144 10h1M146 10h1M149 10h2M84 11h2M91 11h1M95 11h1M102 11h1M104 11h1M106 11h1M134 11h1M142 11h1M76 12h1M80 12h2M84 12h2M87 12h1M102 12h3M107 12h1M115 12h1M122 12h1M124 12h1M127 12h1M136 12h1M141 12h1M152 12h1M85 13h1M100 13h1M105 13h1M116 13h1M126 13h1M130 13h2M145 13h1M147 13h1M149 13h2M66 14h1M71 14h1M78 14h1M85 14h2M98 14h2M108 14h1M132 14h1M150 14h1M66 15h1M71 15h1M73 15h1M77 15h1M79 15h1M82 15h1M86 15h1M89 15h1M99 15h1M105 15h1M131 15h2M138 15h1M143 15h1M147 15h1M68 16h1M87 16h1M93 16h1M99 16h2M107 16h1M109 16h1M116 16h1M118 16h2M131 16h1M50 17h1M65 17h1M74 17h2M88 17h1M94 17h2M102 17h1M114 17h1M117 17h1M123 17h1M150 17h1M52 18h1M55 18h1M59 18h1M70 18h1M84 18h1M86 18h1M89 18h1M96 18h1M98 18h4M108 18h1M127 18h2M150 18h1M51 19h1M57 19h1M61 19h1M74 19h1M82 19h1M96 19h1M99 19h2M106 19h1M112 19h1M122 19h2M131 19h2M136 19h1M43 20h1M54 20h1M63 20h1M69 20h1M100 20h1M112 20h2M122 20h1M125 20h1M131 20h1M140 20h1M47 21h1M55 21h2M61 21h2M64 21h1M72 21h1M94 21h3M110 21h2M113 21h2M116 21h1M118 21h2M142 21h1M49 22h1M59 22h1M65 22h1M68 22h2M76 22h1M94 22h1M97 22h1M115 22h1M119 22h1M121 22h1M125 22h2M143 22h1M41 23h1M46 23h1M48 23h1M50 23h2M53 23h1M58 23h1M63 23h1M67 23h1M81 23h1M88 23h1M101 23h1M114 23h1M121 23h1M132 23h2M141 23h1M144 23h1M147 23h1M42 24h3M49 24h2M55 24h1M61 24h1M73 24h1M81 24h1M84 24h1M88 24h1M99 24h1M101 24h3M107 24h1M109 24h1M48 25h1M50 25h1M52 25h1M74 25h1M85 25h1M92 25h1M98 25h1M100 25h1M111 25h2M116 25h1M120 25h1M124 25h2M134 25h1M38 26h1M45 26h2M50 26h1M54 26h1M66 26h1M69 26h1M79 26h1M91 26h1M97 26h1M100 26h1M105 26h1M109 26h4M129 26h1M137 26h2M145 26h1M147 26h2M40 27h1M54 27h1M60 27h1M68 27h1M70 27h1M82 27h1M84 27h1M114 27h2M121 27h1M124 27h1M127 27h1M137 27h2M147 27h1M56 28h1M71 28h1M77 28h1M84 28h2M87 28h1M114 28h1M116 28h1M122 28h1M126 28h2M138 28h1M147 28h2M150 28h1M63 29h1M68 29h1M74 29h1M76 29h1M78 29h1M80 29h1M92 29h1M94 29h2M110 29h1M116 29h1M136 29h2M147 29h2M46 30h1M48 30h1M50 30h1M52 30h1M54 30h1M62 30h1M65 30h3M77 30h1M93 30h1M112 30h2M115 30h1M123 30h1M126 30h1M134 30h1M136 30h1M140 30h3M144 30h1M148 30h1M150 30h1M43 31h1M45 31h1M53 31h1M71 31h1M77 31h1M79 31h2M82 31h1M88 31h1M103 31h1M107 31h1M123 31h1M129 31h1M133 31h1M140 31h1M146 31h2M149 31h1M37 32h1M62 32h1M67 32h2M83 32h1M94 32h1M114 32h1M127 32h1M145 32h2M148 32h1M35 33h2M41 33h1M49 33h1M56 33h1M67 33h1M99 33h1M106 33h1M112 33h1M119 33h1M131 33h1M30 34h2M33 34h1M37 34h1M40 34h1M53 34h2M63 34h1M100 34h2M103 34h1M119 34h1M121 34h1M141 34h2M28 35h1M87 35h1M101 35h1M108 35h1M110 35h1M120 35h2M125 35h1M129 35h1M138 35h1M145 35h1M152 35h1M30 36h1M46 36h1M105 36h1M115 36h1M131 36h1M133 36h1M146 36h1M149 36h1M153 36h1M30 37h1M40 37h1M47 37h1M96 37h1M106 37h2M112 37h2M115 37h1M118 37h1M128 37h2M132 37h1M135 37h1M140 37h1M25 38h2M43 38h1M46 38h1M113 38h1M115 38h2M121 38h1M124 38h1M126 38h1M138 38h1M32 39h1M36 39h1M40 39h1M48 39h1M113 39h2M116 39h2M124 39h1M132 39h1M138 39h1M28 40h2M33 40h1M40 40h1M91 40h1M119 40h1M122 40h1M126 40h1M128 40h1M135 40h1M33 41h1M43 41h1M47 41h1M46 42h1M76 42h2M81 42h1M86 42h1M90 42h4M112 42h1M120 42h1M30 43h1M54 43h1M64 43h1M71 43h1M75 43h2M78 43h3M82 43h1M84 43h1M88 43h3M92 43h1M111 43h1M36 44h1M42 44h1M59 44h2M77 44h1M83 44h2M93 44h1M101 44h1M112 44h1M20 45h1M37 45h1M40 45h2M48 45h1M50 45h2M60 45h1M65 45h1M81 45h1M84 45h1M92 45h2M104 45h1M24 46h1M30 46h1M37 46h1M68 46h1M75 46h1M84 46h1M108 46h1M115 46h1M19 47h1M27 47h1M30 47h1M36 47h2M66 47h1M73 47h1M84 47h1M90 47h1M93 47h1M104 47h1M107 47h1M118 47h2M18 48h1M23 48h1M39 48h1M83 48h1M86 48h1M89 48h1M92 48h1M101 48h1M103 48h1M113 48h1M122 48h1M124 48h1M19 49h1M97 49h1M101 49h1M105 49h1M117 49h1M120 49h1M123 49h1M128 49h1M19 50h1M22 50h1M27 50h1M37 50h1M64 50h1M66 50h1M80 50h2M83 50h1M102 50h1M111 50h1M115 50h2M120 50h1M122 50h1M124 50h1M18 51h1M27 51h1M33 51h2M65 51h1M89 51h1M92 51h1M97 51h1M101 51h1M105 51h1M112 51h1M115 51h1M126 51h1M28 52h1M31 52h1M33 52h1M46 52h1M75 52h1M91 52h1M99 52h1M105 52h2M124 52h1M129 52h1M46 53h1M49 53h1M51 53h1M66 53h1M74 53h1M81 53h1M88 53h2M91 53h1M102 53h1M104 53h1M111 53h1M127 53h1M129 53h1M131 53h1M136 53h1M49 54h1M80 54h1M87 54h1M90 54h3M94 54h2M108 54h1M118 54h1M131 54h1M133 54h1M62 55h1M71 55h1M74 55h1M76 55h1M88 55h1M90 55h1M101 55h1M104 55h1M110 55h1M117 55h2M120 55h1M128 55h2M131 55h1M133 55h2M149 55h1M18 56h1M46 56h1M52 56h1M61 56h1M65 56h1M68 56h1M71 56h1M74 56h1M88 56h2M96 56h1M101 56h1M108 56h1M110 56h1M113 56h1M123 56h1M128 56h2M132 56h1M134 56h1M55 57h2M76 57h1M82 57h1M91 57h1M94 57h1M108 57h1M110 57h1M116 57h1M121 57h1M136 57h1M145 57h1M150 57h1M155 57h1M20 58h1M54 58h1M70 58h2M82 58h1M95 58h1M100 58h2M111 58h1M116 58h1M120 58h2M128 58h1M144 58h2M53 59h1M66 59h1M73 59h1M81 59h1M85 59h1M89 59h1M93 59h2M103 59h1M105 59h1M107 59h1M114 59h1M117 59h1M120 59h1M124 59h1M126 59h1M134 59h1M142 59h1M146 59h3M153 59h1M57 60h1M70 60h1M82 60h1M90 60h1M104 60h1M112 60h2M137 60h1M144 60h1M154 60h1M66 61h2M76 61h1M87 61h1M100 61h1M108 61h1M116 61h1M120 61h2M130 61h1M155 61h1M77 62h1M81 62h1M88 62h1M107 62h1M112 62h2M115 62h1M138 62h1M147 62h1M153 62h1M52 63h1M55 63h1M71 63h1M96 63h1M98 63h2M121 63h1M126 63h1M134 63h1M140 63h1M154 63h1M49 64h1M58 64h1M75 64h1M79 64h1M82 64h1M88 64h3M92 64h1M100 64h2M122 64h1M125 64h1M132 64h2M136 64h1M139 64h1M147 64h2M156 64h1M73 65h1M93 65h1M96 65h1M98 65h1M100 65h1M118 65h1M136 65h1M140 65h1M62 66h1M73 66h1M77 66h1M84 66h1M100 66h1M111 66h2M119 66h1M133 66h1M141 66h1M151 66h1M157 66h1M75 67h1M87 67h1M99 67h1M104 67h1M107 67h1M114 67h1M118 67h1M131 67h1M57 68h1M68 68h1M73 68h1M85 68h1M92 68h1M99 68h1M101 68h1M106 68h2M109 68h1M113 68h1M137 68h1M139 68h1M141 68h1M148 68h1M57 69h1M72 69h1M75 69h1M78 69h1M80 69h1M84 69h1M114 69h1M133 69h1M138 69h1M141 69h1M148 69h1M63 70h1M78 70h2M89 70h1M105 70h1M118 70h2M124 70h1M142 70h1M146 70h1M66 71h1M72 71h1M75 71h1M90 71h1M94 71h1M99 71h1M102 71h1M109 71h1M115 71h1M154 71h1M156 71h1M73 72h1M76 72h2M108 72h1M111 72h1M129 72h1M132 72h1M139 72h1M150 72h1M155 72h1M52 73h1M65 73h1M76 73h1M93 73h1M101 73h1M115 73h1M121 73h1M123 73h1M132 73h1M134 73h1M146 73h1M150 73h1M153 73h1M46 74h1M55 74h1M67 74h1M72 74h1M77 74h1M79 74h1M89 74h1M94 74h1M99 74h1M114 74h1M122 74h1M137 74h1M144 74h1M153 74h2M55 75h1M67 75h1M77 75h1M79 75h1M88 75h2M92 75h1M127 75h1M132 75h2M143 75h1M53 76h1M66 76h1M72 76h1M76 76h1M82 76h1M89 76h1M95 76h1M101 76h1M119 76h1M128 76h1M133 76h2M141 76h2M150 76h1M153 76h2M47 77h1M49 77h1M53 77h1M62 77h1M74 77h1M76 77h1M80 77h1M86 77h2M89 77h2M105 77h1M112 77h1M114 77h1M117 77h1M131 77h1M148 77h1M154 77h1M49 78h2M52 78h2M73 78h1M86 78h1M89 78h1M94 78h1M101 78h2M129 78h1M131 78h1M153 78h1M52 79h1M54 79h1M70 79h1M82 79h1M98 79h1M143 79h1M52 80h1M86 80h1M93 80h1M96 80h1M129 80h1M132 80h1M137 80h1M145 80h2M67 81h1M69 81h1M80 81h1M84 81h1M90 81h5M106 81h1M109 81h1M129 81h1M51 82h1M79 82h1M90 82h1M92 82h1M96 82h1M98 82h1M100 82h1M130 82h1M151 82h1M72 83h2M80 83h1M82 83h1M84 83h1M88 83h2M94 83h1M96 83h1M98 83h1M107 83h1M111 83h1M122 83h1M126 83h1M154 83h1M59 84h1M77 84h2M85 84h1M91 84h1M93 84h1M105 84h1M121 84h1M123 84h1M131 84h2M149 84h1M59 85h1M65 85h1M68 85h1M70 85h1M74 85h1M81 85h1M93 85h1M97 85h1M101 85h1M108 85h1M113 85h1M148 85h2M83 86h1M86 86h2M92 86h1M96 86h1M109 86h1M126 86h1M78 87h2M82 87h1M90 87h2M67 88h2M71 88h1M73 88h1M77 88h1M80 88h2M83 88h1M92 88h1M94 88h1M121 88h1M153 88h1M63 89h1M73 89h1M84 89h1M95 89h1M121 89h1M128 89h1M136 89h1M55 90h1M69 90h1M75 90h2M86 90h1M88 90h1M99 90h2M102 90h2M106 90h1M147 90h1M69 91h1M71 91h2M78 91h1M89 91h1M93 91h1M100 91h1M105 91h2M120 91h1M65 92h2M68 92h2M72 92h1M87 92h1M90 92h1M92 92h1M95 92h1M97 92h1M125 92h1M146 92h1M76 93h1M100 93h1M107 93h1M69 94h3M82 94h1M84 94h1M92 94h1M97 94h1M100 94h2M107 94h2M56 95h1M75 95h1M77 95h1M82 95h1M85 95h1M90 95h1M107 95h1M137 95h1M56 96h1M62 96h3M67 96h1M79 96h1M93 96h1M101 96h1M61 97h1M66 97h1M69 97h1M98 97h1M57 98h1M64 98h1M67 98h1M69 98h1M83 98h1M93 98h1M103 98h1M58 99h1M60 99h1M71 99h1M77 99h2M89 99h1M123 99h1M63 100h1M68 100h1M70 100h1M91 100h1M62 101h2M70 101h1M73 101h1M76 101h2M80 101h1M106 101h1M64 102h1M74 102h2M79 102h1M97 102h1M62 103h1M69 103h1M76 103h1M60 104h1M68 105h1M70 105h2M94 105h1M64 106h1M66 106h1M72 106h1M84 106h1M91 106h1M93 107h1M95 107h1M62 108h1M70 108h1M93 108h1M107 108h1M64 109h1M67 109h1M70 109h1M78 110h1M97 110h1M61 111h1M65 111h1M68 112h1M75 112h1M77 112h1M54 113h1M66 113h1M68 113h1M76 113h1M83 113h1M62 114h1M73 114h1M39 115h1M54 115h1M56 115h1M60 115h1M63 115h1M67 115h2M70 115h2M73 115h1M103 115h1M39 116h1M44 116h1M54 116h1M58 116h1M64 116h2M77 116h1M79 116h1M7 117h1M18 117h1M40 117h1M48 117h1M58 117h3M62 117h1M64 117h1M68 117h1M70 117h1M72 117h2M76 117h1M87 117h1M9 118h1M60 118h2M74 118h1M77 118h1M79 118h1M16 119h1M18 119h1M40 119h1M42 119h1M60 119h1M65 119h2M69 119h1M71 119h1M10 120h1M16 120h1M29 120h1M34 120h1M41 120h1M50 120h2M56 120h4M63 120h1M73 120h1M75 120h1M6 121h1M10 121h1M19 121h1M27 121h1M36 121h1M43 121h1M48 121h2M54 121h2M78 121h1M80 121h1M85 121h2M3 122h1M8 122h1M11 122h1M22 122h1M26 122h1M48 122h1M52 122h2M58 122h1M64 122h1M71 122h2M74 122h1M92 122h1M4 123h3M11 123h3M18 123h2M22 123h1M25 123h1M35 123h2M42 123h1M54 123h1M67 123h1M69 123h1M77 123h1M84 123h1M93 123h1M5 124h1M7 124h1M17 124h1M19 124h1M21 124h2M31 124h1M37 124h1M40 124h1M51 124h1M59 124h1M83 124h1M88 124h1M91 124h2M11 125h1M17 125h1M24 125h2M28 125h1M35 125h1M39 125h1M45 125h2M54 125h1M56 125h2M63 125h2M68 125h1M74 125h1M78 125h1M82 125h1M87 125h2M107 125h1M6 126h1M9 126h1M11 126h2M17 126h1M22 126h1M25 126h1M47 126h3M54 126h1M57 126h1M63 126h2M66 126h1M79 126h1M83 126h2M89 126h1M7 127h2M14 127h1M28 127h2M31 127h2M38 127h2M43 127h1M52 127h1M55 127h1M64 127h1M69 127h1M71 127h2M77 127h1M79 127h1M81 127h1M84 127h1M107 127h1M16 128h1M24 128h2M35 128h2M43 128h1M49 128h1M52 128h1M56 128h2M60 128h1M69 128h1M71 128h1M74 128h1M77 128h2M80 128h1M85 128h1M108 128h1M11 129h1M22 129h1M28 129h1M32 129h2M35 129h2M38 129h2M41 129h1M44 129h1M46 129h1M51 129h1M55 129h1M57 129h1M59 129h1M63 129h1M78 129h1M80 129h1M84 129h1M7 130h1M13 130h1M16 130h1M18 130h1M36 130h1M42 130h2M55 130h1M69 130h1M72 130h2M75 130h1M78 130h2M81 130h2M88 130h1M9 131h1M12 131h1M16 131h1M19 131h1M32 131h1M38 131h2M52 131h1M54 131h1M56 131h1M58 131h1M60 131h2M65 131h1M69 131h2M84 131h1M107 131h1M109 131h1M8 132h1M10 132h2M17 132h2M40 132h2M83 132h1M85 132h2M6 133h1M19 133h1M26 133h1M42 133h2M50 133h1M58 133h1M78 133h1M80 133h1M83 133h1M85 133h2M107 133h1M4 134h1M6 134h1M10 134h1M12 134h1M22 134h3M40 134h1M67 134h2M84 134h1M8 135h1M14 135h3M18 135h3M36 135h1M52 135h2M81 135h1M108 135h1M13 136h1M27 136h2M30 136h1M36 136h2M39 136h1M45 136h1M49 136h1M13 137h2M17 137h1M23 137h1M28 137h1M34 137h1M64 137h1M86 137h1M11 138h1M35 138h1M47 138h1M51 138h1M57 138h1M68 138h1M70 138h1M80 138h1M84 138h1M91 138h1M15 139h1M21 139h3M26 139h1M30 139h1M32 139h1M42 139h1M54 139h1M19 140h1M23 140h1M70 140h1M83 140h1M23 141h1M32 141h1M60 141h1M21 142h1M30 142h2M35 142h1M37 142h1M50 142h1M58 142h1M70 142h1M81 142h1M109 142h1M32 143h1M38 143h1M42 143h1M48 143h1M64 143h1M109 143h1M20 144h1M22 144h1M33 144h1M58 144h1M68 144h1M19 145h1M31 145h1M41 145h1M50 145h1M54 145h1M23 146h1M26 146h1M53 146h1M55 146h1M60 146h1M67 146h1M38 147h1M52 147h1M40 148h1M52 148h1M95 148h1M30 149h1M36 149h1M65 149h2M31 150h1M60 150h1M64 150h1M58 151h1M32 152h1M42 152h1M36 153h1M50 153h1M61 153h1M52 154h1M57 154h1M43 155h1M46 156h1"/><path stroke="#ff0400" d="M147 3h1M146 4h1M151 4h1M153 4h1M155 4h1M105 5h1M140 5h1M151 5h1M155 5h1M92 6h1M96 6h1M102 6h1M113 6h1M122 6h1M147 6h1M100 7h1M105 7h1M110 7h2M116 7h1M121 7h1M129 7h3M138 7h1M147 7h1M102 8h1M106 8h2M109 8h1M115 8h1M118 8h2M128 8h1M131 8h1M138 8h1M147 8h2M152 8h1M83 9h1M96 9h1M107 9h1M111 9h1M118 9h1M126 9h1M136 9h1M142 9h1M90 10h1M92 10h1M116 10h1M121 10h1M124 10h1M131 10h1M134 10h2M139 10h1M141 10h1M143 10h1M76 11h1M87 11h1M101 11h1M105 11h1M110 11h1M112 11h2M117 11h1M121 11h1M127 11h1M129 11h1M133 11h1M136 11h1M139 11h1M143 11h1M145 11h2M149 11h1M151 11h1M75 12h1M77 12h1M93 12h1M100 12h1M105 12h2M111 12h1M129 12h1M135 12h1M143 12h1M149 12h1M154 12h1M74 13h1M76 13h2M88 13h1M90 13h1M102 13h2M112 13h1M114 13h1M124 13h1M129 13h1M132 13h1M134 13h1M143 13h1M151 13h1M77 14h1M80 14h3M89 14h2M101 14h1M105 14h1M107 14h1M122 14h3M130 14h2M137 14h1M139 14h2M146 14h2M76 15h1M80 15h1M96 15h1M100 15h1M110 15h1M115 15h1M130 15h1M140 15h2M146 15h1M151 15h1M65 16h1M69 16h1M75 16h1M81 16h1M89 16h1M96 16h1M104 16h2M115 16h1M123 16h1M127 16h1M132 16h1M136 16h1M142 16h1M148 16h1M57 17h1M60 17h1M68 17h1M70 17h2M81 17h1M85 17h1M90 17h1M93 17h1M127 17h1M56 18h1M75 18h1M81 18h2M90 18h1M97 18h1M105 18h3M110 18h1M113 18h2M142 18h1M145 18h1M58 19h2M62 19h2M65 19h1M67 19h1M70 19h1M72 19h2M81 19h1M84 19h2M90 19h1M97 19h2M104 19h1M110 19h2M115 19h2M121 19h1M124 19h1M126 19h1M129 19h1M141 19h1M145 19h1M56 20h1M58 20h3M62 20h1M70 20h1M84 20h1M102 20h1M110 20h2M115 20h1M123 20h2M128 20h1M130 20h1M132 20h1M137 20h2M142 20h1M151 20h1M50 21h2M53 21h1M67 21h1M69 21h1M77 21h2M80 21h2M83 21h1M86 21h1M89 21h2M101 21h1M127 21h2M134 21h1M136 21h1M139 21h1M141 21h1M44 22h1M48 22h1M53 22h1M70 22h1M90 22h1M96 22h1M98 22h1M102 22h1M111 22h2M116 22h1M118 22h1M128 22h1M142 22h1M47 23h1M56 23h2M59 23h1M61 23h1M69 23h2M74 23h2M91 23h1M99 23h1M105 23h2M110 23h1M115 23h3M124 23h1M131 23h1M136 23h1M56 24h2M74 24h1M76 24h1M79 24h1M98 24h1M106 24h1M111 24h1M115 24h1M120 24h1M122 24h3M135 24h1M39 25h1M53 25h1M55 25h1M71 25h1M75 25h1M86 25h1M88 25h4M101 25h1M103 25h1M106 25h1M117 25h2M121 25h2M39 26h1M57 26h4M90 26h1M96 26h1M98 26h1M101 26h1M108 26h1M113 26h4M123 26h3M131 26h2M140 26h1M142 26h1M149 26h1M37 27h2M51 27h1M78 27h2M92 27h1M96 27h1M100 27h1M105 27h1M113 27h1M139 27h1M141 27h2M52 28h1M54 28h1M80 28h2M89 28h1M96 28h1M99 28h1M101 28h1M105 28h2M125 28h1M128 28h1M134 28h1M140 28h1M144 28h1M149 28h1M41 29h1M46 29h1M60 29h1M72 29h1M75 29h1M77 29h1M96 29h1M124 29h2M127 29h1M129 29h1M132 29h1M138 29h2M145 29h2M63 30h1M71 30h1M73 30h1M75 30h1M78 30h1M81 30h2M127 30h2M139 30h1M31 31h1M50 31h1M70 31h1M74 31h1M87 31h1M113 31h1M132 31h1M136 31h1M139 31h1M31 32h1M43 32h1M57 32h2M61 32h1M64 32h1M70 32h2M77 32h2M81 32h1M120 32h1M137 32h1M33 33h1M44 33h1M62 33h2M69 33h1M83 33h3M92 33h1M113 33h1M134 33h1M136 33h2M149 33h1M39 34h1M55 34h4M120 34h1M126 34h1M129 34h1M135 34h1M144 34h1M148 34h1M152 34h1M36 35h1M41 35h1M109 35h1M122 35h2M132 35h1M137 35h1M139 35h1M141 35h1M149 35h1M151 35h1M38 36h1M42 36h1M48 36h1M52 36h1M110 36h1M114 36h1M121 36h3M127 36h1M129 36h1M132 36h1M137 36h1M141 36h1M26 37h1M29 37h1M36 37h1M41 37h1M131 37h1M38 38h1M45 38h1M47 38h1M112 38h1M129 38h1M131 38h1M133 38h1M35 39h1M38 39h2M111 39h2M115 39h1M121 39h1M130 39h1M23 40h2M32 40h1M35 40h1M115 40h1M123 40h1M29 41h1M31 41h1M35 41h1M74 41h1M78 41h2M91 41h1M110 41h1M117 41h1M28 42h1M70 42h1M73 42h1M89 42h1M32 43h1M55 43h1M59 43h2M77 43h1M86 43h1M112 43h1M64 44h1M74 44h2M80 44h1M85 44h1M107 44h1M36 45h1M67 45h1M75 45h1M77 45h1M103 45h1M105 45h1M21 46h3M31 46h1M39 46h1M46 46h3M77 46h1M81 46h1M102 46h1M107 46h1M110 46h2M119 46h1M21 47h1M31 47h1M67 47h2M70 47h2M91 47h2M102 47h1M115 47h2M120 47h1M25 48h1M32 48h1M34 48h1M37 48h2M68 48h2M73 48h1M91 48h1M110 48h1M116 48h1M119 48h2M32 49h1M37 49h2M70 49h1M73 49h2M81 49h1M88 49h1M90 49h2M100 49h1M108 49h2M113 49h2M119 49h1M38 50h1M67 50h1M69 50h1M74 50h1M89 50h1M101 50h1M113 50h1M119 50h1M125 50h1M128 50h1M22 51h1M66 51h1M68 51h1M70 51h1M90 51h1M103 51h1M106 51h1M116 51h3M123 51h2M127 51h2M130 51h1M132 51h1M48 52h1M53 52h1M67 52h1M71 52h1M74 52h1M87 52h1M101 52h1M117 52h2M127 52h1M60 53h1M68 53h1M87 53h1M106 53h1M110 53h1M126 53h1M130 53h1M96 54h1M117 54h1M119 54h1M123 54h1M127 54h1M129 54h2M18 55h1M44 55h1M47 55h1M75 55h1M77 55h1M79 55h1M84 55h1M99 55h1M108 55h2M114 55h1M130 55h1M19 56h1M47 56h1M53 56h1M64 56h1M77 56h1M83 56h3M92 56h2M100 56h1M103 56h1M109 56h1M121 56h1M126 56h2M45 57h1M58 57h2M74 57h1M85 57h4M100 57h1M104 57h1M111 57h1M125 57h1M135 57h1M147 57h2M152 57h1M53 58h1M57 58h3M63 58h1M67 58h1M73 58h1M79 58h2M94 58h1M107 58h1M112 58h1M114 58h1M126 58h1M143 58h1M148 58h1M155 58h1M74 59h1M76 59h1M80 59h1M84 59h1M86 59h1M108 59h1M113 59h1M141 59h1M55 60h1M77 60h2M80 60h1M94 60h1M97 60h1M101 60h1M108 60h1M123 60h2M133 60h1M135 60h2M145 60h1M150 60h1M79 61h1M88 61h1M95 61h1M103 61h2M112 61h1M114 61h1M123 61h1M131 61h1M144 61h1M98 62h1M102 62h1M106 62h1M109 62h1M119 62h1M127 62h1M134 62h1M144 62h1M152 62h1M156 62h1M57 63h1M60 63h1M70 63h1M84 63h1M89 63h1M94 63h1M97 63h1M103 63h1M105 63h2M108 63h1M119 63h2M135 63h1M143 63h2M155 63h1M73 64h2M98 64h1M121 64h1M129 64h1M134 64h1M143 64h1M62 65h1M76 65h1M83 65h1M85 65h2M94 65h1M97 65h1M131 65h3M138 65h2M146 65h1M148 65h1M153 65h1M63 66h1M71 66h1M74 66h1M88 66h1M97 66h1M101 66h1M110 66h1M118 66h1M129 66h3M137 66h1M143 66h1M67 67h2M77 67h1M94 67h1M96 67h1M115 67h1M137 67h1M143 67h1M145 67h1M147 67h1M153 67h1M155 67h1M74 68h1M82 68h1M84 68h1M87 68h1M89 68h1M115 68h1M130 68h1M140 68h1M146 68h2M151 68h1M85 69h1M92 69h1M96 69h1M115 69h1M119 69h1M135 69h2M144 69h1M153 69h2M82 70h1M88 70h1M92 70h1M106 70h1M128 70h1M132 70h1M137 70h1M139 70h2M152 70h1M84 71h1M88 71h1M91 71h1M93 71h1M95 71h1M100 71h1M105 71h2M108 71h1M117 71h1M129 71h1M139 71h1M61 72h1M64 72h1M87 72h1M89 72h1M98 72h1M128 72h1M131 72h1M140 72h1M148 72h2M82 73h2M95 73h1M103 73h1M133 73h1M142 73h1M149 73h1M64 74h1M74 74h1M84 74h1M86 74h1M93 74h1M100 74h1M103 74h1M123 74h1M132 74h1M146 74h1M155 74h2M47 75h1M75 75h2M84 75h1M95 75h1M98 75h1M134 75h1M150 75h1M156 75h1M68 76h1M70 76h1M77 76h1M87 76h1M98 76h1M113 76h1M145 76h1M147 76h1M155 76h2M48 77h1M52 77h1M84 77h1M93 77h1M95 77h1M98 77h1M144 77h1M64 78h1M72 78h1M80 78h1M87 78h1M90 78h1M144 78h1M154 78h1M69 79h1M72 79h1M78 79h2M85 79h1M88 79h1M92 79h1M97 79h1M55 80h1M82 80h3M92 80h1M95 80h1M131 80h1M141 80h1M151 80h2M74 81h1M78 81h1M86 81h1M95 81h1M130 81h1M147 81h1M150 81h2M86 82h2M93 82h1M95 82h1M101 82h1M148 82h1M153 82h1M64 83h1M77 83h1M86 83h2M95 83h1M99 83h1M121 83h1M134 83h1M148 83h1M80 84h1M83 84h1M89 84h1M98 84h2M110 84h1M130 84h1M134 84h1M67 85h1M69 85h1M88 85h1M91 85h1M96 85h1M109 85h2M132 85h1M151 85h1M71 86h1M79 86h1M82 86h1M88 86h1M121 86h1M87 87h3M97 87h1M79 88h1M85 88h1M98 88h1M86 89h1M91 89h1M94 89h1M97 89h1M124 89h1M130 90h1M82 91h1M92 91h1M94 91h2M135 91h1M145 91h1M147 91h1M73 92h1M75 92h1M80 92h1M94 92h1M100 92h1M59 93h1M77 93h1M79 93h1M82 93h1M84 93h2M98 93h1M67 94h1M78 94h1M88 94h1M91 94h1M105 94h1M59 95h1M88 95h1M93 95h1M96 95h1M100 95h1M108 95h1M75 96h3M83 96h1M91 96h1M64 97h1M82 97h2M90 97h3M95 97h1M77 98h2M85 98h1M91 98h1M94 98h1M61 99h1M63 99h1M74 99h1M82 99h1M91 99h1M72 100h1M92 100h1M105 100h1M78 101h1M93 101h1M59 102h1M71 102h1M96 102h1M61 103h1M77 103h1M80 103h1M61 104h1M66 104h1M70 104h1M63 105h5M77 105h1M89 106h1M71 107h1M74 107h2M92 107h1M64 108h1M67 108h1M69 108h1M72 108h1M74 108h1M92 108h1M65 109h1M71 109h1M87 109h1M94 109h1M66 110h2M71 110h1M73 110h1M62 111h1M66 111h1M74 111h1M60 112h1M71 112h1M76 112h1M67 113h1M73 113h1M82 113h1M60 114h1M67 114h1M69 114h1M76 114h2M84 114h1M48 115h1M59 115h1M66 115h1M69 115h1M47 116h1M49 116h2M56 116h1M62 116h2M66 116h1M75 116h1M45 117h1M49 117h1M57 117h1M74 117h1M82 117h1M43 118h1M45 118h1M53 118h1M56 118h1M63 118h1M66 118h1M69 118h1M73 118h1M75 118h1M84 118h2M14 119h1M36 119h1M41 119h1M43 119h1M55 119h4M68 119h1M75 119h1M77 119h1M79 119h1M42 120h1M47 120h2M52 120h1M61 120h1M70 120h1M74 120h1M79 120h1M9 121h1M14 121h1M23 121h1M35 121h1M40 121h1M50 121h1M58 121h1M71 121h3M79 121h1M17 122h1M25 122h1M27 122h1M36 122h2M40 122h1M44 122h1M47 122h1M56 122h1M59 122h1M84 122h1M17 123h1M27 123h1M45 123h3M60 123h1M65 123h1M68 123h1M74 123h1M80 123h1M82 123h1M109 123h1M6 124h1M25 124h2M38 124h1M42 124h1M45 124h1M52 124h1M64 124h1M69 124h1M78 124h1M6 125h1M8 125h2M32 125h1M42 125h1M61 125h2M67 125h1M5 126h1M14 126h1M29 126h1M58 126h1M65 126h1M73 126h3M78 126h1M6 127h1M9 127h2M12 127h1M19 127h1M22 127h1M25 127h1M27 127h1M44 127h2M60 127h1M67 127h1M74 127h1M80 127h1M85 127h1M6 128h1M19 128h1M29 128h1M34 128h1M48 128h1M50 128h1M53 128h1M63 128h1M76 128h1M91 128h1M93 128h1M4 129h2M13 129h2M24 129h1M27 129h1M37 129h1M40 129h1M45 129h1M47 129h1M54 129h1M58 129h1M71 129h2M76 129h2M82 129h1M86 129h1M93 129h1M8 130h5M14 130h1M20 130h1M22 130h1M24 130h1M29 130h1M32 130h2M51 130h1M59 130h2M63 130h1M76 130h1M103 130h1M109 130h1M7 131h2M11 131h1M14 131h1M18 131h1M23 131h1M27 131h1M34 131h1M46 131h1M55 131h1M62 131h1M72 131h1M76 131h1M78 131h1M85 131h2M7 132h1M14 132h1M20 132h1M28 132h1M31 132h1M43 132h1M54 132h1M67 132h1M74 132h1M79 132h2M4 133h1M7 133h1M16 133h1M20 133h1M23 133h1M27 133h1M30 133h1M37 133h1M60 133h1M64 133h1M71 133h2M75 133h1M79 133h1M82 133h1M84 133h1M89 133h1M3 134h1M14 134h1M28 134h1M32 134h1M56 134h1M59 134h3M69 134h1M82 134h1M21 135h2M40 135h2M46 135h1M50 135h1M57 135h1M62 135h1M79 135h2M29 136h1M41 136h1M43 136h1M46 136h1M54 136h1M57 136h1M63 136h1M65 136h1M71 136h1M81 136h1M11 137h1M32 137h2M36 137h1M45 137h1M47 137h1M49 137h1M51 137h1M62 137h1M68 137h1M77 137h3M85 137h1M99 137h1M19 138h2M32 138h2M41 138h1M48 138h1M52 138h1M54 138h1M65 138h1M86 138h1M12 139h3M24 139h1M28 139h2M50 139h2M58 139h2M61 139h1M64 139h1M71 139h1M29 140h3M35 140h1M38 140h1M56 140h1M59 140h2M81 140h1M33 141h1M40 141h1M42 141h2M46 141h2M61 141h1M63 141h2M17 142h1M19 142h1M29 142h1M43 142h1M46 142h1M49 142h1M18 143h1M28 143h1M31 143h1M39 143h1M54 143h1M59 143h1M65 143h1M23 144h1M65 144h2M23 145h1M32 145h2M39 145h1M42 145h1M55 145h1M57 145h1M68 145h1M25 146h1M37 146h1M26 147h2M53 147h1M57 147h1M66 147h1M31 148h1M39 148h1M42 148h1M48 148h1M50 148h1M59 148h1M37 149h2M51 149h1M55 149h1M42 150h1M45 150h1M53 150h1M57 150h1M59 150h1M32 151h2M42 151h2M61 151h2M34 152h1M50 152h1M35 153h1M43 153h1M47 153h1M49 153h1M55 153h2M46 155h1M46 157h1"/><path stroke="#e20000" d="M148 4h1M150 4h1M113 5h1M121 5h1M147 5h1M149 5h1M153 5h1M94 6h1M104 6h1M110 6h1M106 7h1M114 7h1M125 7h1M137 7h1M140 7h1M148 7h1M156 7h1M98 8h1M133 8h2M137 8h1M153 8h1M88 9h3M95 9h1M100 9h1M103 9h1M121 9h2M127 9h1M129 9h1M133 9h2M138 9h2M146 9h1M148 9h1M151 9h1M86 10h1M130 10h1M132 10h1M140 10h1M145 10h1M79 11h2M82 11h1M88 11h2M96 11h1M109 11h1M115 11h1M124 11h1M128 11h1M137 11h1M147 11h1M79 12h1M86 12h1M110 12h1M116 12h1M120 12h1M130 12h1M134 12h1M147 12h1M71 13h1M73 13h1M79 13h1M98 13h1M110 13h1M133 13h1M135 13h1M140 13h1M144 13h1M146 13h1M152 13h1M67 14h1M72 14h1M76 14h1M84 14h1M92 14h2M103 14h1M112 14h3M118 14h2M145 14h1M148 14h2M152 14h1M59 15h1M65 15h1M74 15h2M84 15h2M90 15h3M104 15h1M107 15h3M114 15h1M116 15h1M118 15h2M123 15h4M134 15h1M139 15h1M148 15h1M150 15h1M72 16h1M86 16h1M106 16h1M111 16h1M117 16h1M128 16h1M135 16h1M137 16h1M139 16h1M151 16h1M55 17h1M59 17h1M62 17h1M64 17h1M66 17h2M73 17h1M86 17h1M89 17h1M92 17h1M96 17h1M99 17h1M106 17h1M112 17h1M116 17h1M118 17h1M120 17h3M130 17h1M143 17h1M147 17h1M57 18h2M61 18h2M65 18h1M73 18h1M77 18h1M80 18h1M93 18h1M112 18h1M115 18h1M121 18h2M126 18h1M129 18h1M148 18h2M54 19h1M69 19h1M71 19h1M76 19h1M80 19h1M95 19h1M103 19h1M105 19h1M107 19h2M114 19h1M117 19h1M128 19h1M130 19h1M138 19h1M143 19h2M42 20h1M61 20h1M67 20h1M77 20h1M81 20h2M87 20h2M94 20h1M98 20h2M103 20h1M106 20h1M108 20h1M117 20h1M143 20h1M48 21h1M54 21h1M60 21h1M75 21h1M84 21h1M87 21h1M91 21h1M97 21h2M100 21h1M103 21h1M109 21h1M112 21h1M121 21h1M124 21h1M129 21h1M131 21h1M135 21h1M148 21h1M45 22h1M58 22h1M77 22h1M83 22h1M87 22h1M100 22h1M103 22h2M122 22h1M129 22h1M132 22h2M135 22h1M137 22h1M147 22h1M43 23h1M52 23h1M62 23h1M68 23h1M86 23h1M100 23h1M112 23h1M122 23h1M135 23h1M138 23h1M41 24h1M89 24h1M91 24h2M97 24h1M100 24h1M112 24h1M116 24h1M119 24h1M138 24h1M141 24h1M146 24h1M148 24h1M70 25h1M77 25h1M79 25h1M82 25h1M93 25h1M99 25h1M104 25h1M108 25h2M115 25h1M119 25h1M130 25h1M137 25h2M142 25h2M75 26h1M83 26h1M87 26h3M93 26h1M95 26h1M106 26h1M118 26h1M121 26h2M141 26h1M65 27h1M71 27h1M89 27h1M93 27h1M99 27h1M112 27h1M122 27h1M132 27h1M136 27h1M149 27h1M51 28h1M64 28h1M66 28h1M72 28h1M82 28h1M88 28h1M92 28h1M124 28h1M43 29h1M52 29h1M62 29h1M70 29h2M79 29h1M82 29h1M97 29h1M113 29h1M130 29h2M133 29h1M135 29h1M80 30h1M122 30h1M129 30h1M135 30h1M38 31h1M138 31h1M148 31h1M40 32h2M51 32h1M63 32h1M92 32h2M144 32h1M43 33h1M53 33h1M70 33h1M146 33h1M29 34h1M49 34h4M134 34h1M138 34h1M145 34h2M34 35h1M39 35h1M58 35h1M97 35h1M143 35h1M147 35h1M28 36h1M34 36h1M39 36h1M41 36h1M43 36h1M108 36h1M116 36h2M120 36h1M124 36h1M143 36h1M145 36h1M148 36h1M37 37h1M39 37h1M27 38h1M41 38h2M49 38h1M110 38h1M120 38h1M37 39h1M49 39h1M56 39h1M109 39h2M131 39h1M27 40h1M111 40h1M71 41h1M77 41h1M115 41h2M69 42h1M74 42h2M81 43h1M87 43h1M108 43h1M58 44h1M62 44h1M76 44h1M91 44h1M38 45h1M40 46h1M82 46h1M93 46h1M106 46h1M112 46h1M24 47h1M28 47h1M101 47h1M111 47h1M114 47h1M30 48h1M33 48h1M66 48h2M105 48h1M107 48h1M121 48h1M29 49h1M78 49h1M87 49h1M106 49h1M118 49h1M121 49h1M90 50h1M118 50h1M127 50h1M114 51h1M121 51h2M129 51h1M131 51h1M69 52h1M86 52h1M90 52h1M92 52h2M102 52h1M107 52h1M110 52h1M113 52h2M116 52h1M122 52h1M131 52h1M90 53h1M103 53h1M112 53h2M124 53h1M75 54h1M77 54h3M102 54h1M114 54h1M120 54h1M126 54h1M128 54h1M95 55h2M115 55h1M121 55h1M127 55h1M99 56h1M115 56h2M125 56h1M136 56h1M153 56h1M54 57h1M106 57h1M112 57h2M120 57h1M126 57h2M64 58h1M78 58h1M81 58h1M93 58h1M102 58h1M105 58h2M110 58h1M127 58h1M136 58h1M56 59h1M72 59h1M78 59h1M95 59h1M99 59h1M102 59h1M106 59h1M119 59h1M127 59h1M135 59h2M138 59h2M143 59h1M145 59h1M152 59h1M74 60h1M105 60h1M111 60h1M118 60h2M122 60h1M125 60h1M134 60h1M151 60h1M155 60h1M75 61h1M84 61h2M94 61h1M96 61h2M101 61h1M106 61h1M110 61h1M113 61h1M115 61h1M119 61h1M122 61h1M127 61h1M145 61h2M83 62h1M94 62h1M96 62h1M114 62h1M120 62h1M137 62h1M148 62h1M150 62h1M154 62h1M51 63h1M100 63h1M136 63h1M138 63h1M148 63h1M152 63h1M76 64h1M87 64h1M94 64h1M102 64h1M111 64h1M124 64h1M137 64h1M140 64h1M145 64h1M151 64h1M88 65h2M111 65h1M119 65h1M130 65h1M137 65h1M144 65h2M150 65h1M89 66h1M92 66h2M96 66h1M99 66h1M142 66h1M145 66h1M148 66h1M150 66h1M72 67h1M76 67h1M89 67h1M91 67h1M129 67h1M135 67h1M144 67h1M79 68h1M91 68h1M94 68h1M97 68h1M100 68h1M104 68h1M143 68h2M155 68h1M70 69h1M73 69h1M87 69h1M100 69h2M108 69h1M130 69h1M137 69h1M139 69h1M151 69h2M74 70h1M80 70h1M107 70h1M141 70h1M149 70h1M151 70h1M76 71h1M82 71h1M114 71h1M118 71h1M142 71h1M150 71h1M155 71h1M82 72h1M92 72h1M95 72h1M106 72h1M71 73h2M79 73h1M81 73h1M90 73h1M111 73h1M135 73h1M151 73h1M154 73h2M70 74h1M76 74h1M82 74h1M85 74h1M141 74h1M148 74h2M82 75h1M86 75h2M96 75h1M100 75h1M113 75h1M123 75h1M128 75h1M135 75h1M146 75h1M151 75h1M154 75h2M65 76h1M69 76h1M71 76h1M74 76h1M84 76h1M86 76h1M88 76h1M91 76h1M94 76h1M96 76h1M118 76h1M135 76h1M148 76h1M82 77h1M85 77h1M142 77h1M83 78h1M96 78h1M143 78h1M150 78h1M86 79h2M94 79h2M104 79h1M54 80h1M79 80h1M81 80h1M88 80h4M75 81h1M77 81h1M82 81h2M100 81h1M103 81h1M146 81h1M63 83h1M83 83h1M85 83h1M91 83h1M93 83h1M97 83h1M71 84h1M84 84h1M88 84h1M90 84h1M96 84h1M100 84h1M133 84h1M143 84h1M76 85h1M82 85h1M86 85h1M95 85h1M150 85h1M85 86h1M120 86h1M70 87h1M75 87h1M77 87h1M81 87h1M76 88h1M86 88h1M91 88h1M100 88h1M80 89h1M88 89h1M98 89h1M100 89h1M102 89h1M122 89h1M68 90h1M73 91h1M75 91h2M96 91h1M99 91h1M91 92h1M70 93h1M75 93h1M81 93h1M75 94h1M60 95h1M82 96h1M85 96h2M95 96h1M70 97h1M71 98h1M92 98h1M64 99h1M76 99h1M83 99h1M90 99h1M62 100h1M64 100h3M75 100h1M77 100h1M79 100h1M106 100h2M66 101h1M74 101h1M60 102h2M72 102h1M81 102h1M71 103h1M75 103h1M94 103h1M62 104h4M67 104h1M73 104h1M75 104h1M62 105h1M69 105h1M73 105h1M76 106h1M73 108h1M66 109h1M72 109h1M65 110h1M69 110h2M72 110h1M71 111h1M61 112h1M73 112h1M109 112h1M62 113h2M70 113h1M59 114h1M63 114h1M62 115h1M64 115h2M41 116h2M48 116h1M52 116h1M59 116h2M67 116h1M72 116h1M66 117h1M39 118h1M54 118h1M72 118h1M11 119h1M15 119h1M48 119h1M53 119h2M64 119h1M76 119h1M35 120h1M43 120h1M45 120h1M64 120h2M69 120h1M11 121h1M18 121h1M38 121h1M45 121h1M56 121h1M59 121h2M66 121h1M68 121h1M75 121h1M39 122h1M41 122h1M45 122h2M69 122h1M73 122h1M78 122h1M58 123h1M63 123h1M71 123h1M73 123h1M81 123h1M83 123h1M8 124h1M30 124h1M41 124h1M43 124h1M47 124h1M58 124h1M63 124h1M70 124h1M76 124h1M81 124h1M10 125h1M16 125h1M22 125h1M26 125h2M29 125h1M41 125h1M51 125h1M58 125h1M76 125h1M7 126h1M10 126h1M19 126h1M23 126h1M41 126h1M51 126h1M53 126h1M61 126h1M77 126h1M85 126h1M23 127h2M34 127h2M46 127h2M57 127h1M62 127h2M65 127h1M70 127h1M14 128h1M17 128h1M38 128h2M46 128h1M62 128h1M65 128h1M70 128h1M75 128h1M83 128h1M12 129h1M17 129h1M31 129h1M48 129h1M50 129h1M53 129h1M60 129h1M66 129h1M68 129h1M79 129h1M83 129h1M19 130h1M21 130h1M31 130h1M49 130h1M67 130h1M71 130h1M105 130h1M10 131h1M13 131h1M15 131h1M17 131h1M20 131h3M24 131h1M29 131h1M37 131h1M40 131h1M47 131h1M53 131h1M63 131h2M73 131h1M75 131h1M77 131h1M9 132h1M15 132h1M22 132h1M32 132h1M46 132h1M52 132h1M55 132h1M66 132h1M71 132h2M75 132h1M13 133h1M15 133h1M24 133h1M29 133h1M31 133h1M39 133h2M54 133h2M62 133h1M13 134h1M15 134h1M25 134h1M30 134h1M46 134h1M52 134h1M62 134h1M70 134h1M83 134h1M11 135h1M24 135h1M28 135h1M33 135h1M39 135h1M43 135h1M48 135h1M55 135h1M60 135h1M82 135h2M12 136h1M38 136h1M48 136h1M59 136h1M67 136h2M4 137h1M21 137h1M35 137h1M41 137h1M43 137h1M46 137h1M52 137h1M67 137h1M70 137h1M21 138h1M24 138h1M30 138h1M36 138h1M39 138h1M45 138h2M59 138h1M64 138h1M45 139h1M52 139h1M60 139h1M65 139h1M79 139h1M26 140h1M28 140h1M34 140h1M47 140h2M55 140h1M61 140h2M68 140h2M86 140h1M26 141h1M31 141h1M35 141h1M37 141h2M52 141h1M57 141h1M59 141h1M16 142h1M38 142h1M42 142h1M51 142h3M55 142h1M66 142h1M21 143h1M35 143h1M63 143h1M67 143h1M69 143h1M19 144h1M24 144h1M42 144h1M57 144h1M63 144h2M24 145h2M28 145h1M34 145h1M37 145h1M40 145h1M47 145h1M52 145h1M65 145h2M31 146h2M34 146h2M49 146h1M54 146h1M57 146h2M28 147h3M33 147h1M50 147h1M59 147h2M29 148h1M34 148h1M36 148h1M41 148h1M46 148h1M55 148h2M66 148h1M39 149h2M43 149h1M45 149h1M53 149h1M35 150h1M40 150h1M58 150h1M31 151h1M39 151h1M41 151h1M47 151h1M49 151h1M59 151h1M36 152h1M38 152h1M41 152h1M47 152h1M52 152h1M58 152h1M40 153h2M48 153h1M57 153h1M42 154h1M49 154h1M49 155h1"/><path stroke="#c10000" d="M148 5h1M111 6h2M140 6h1M96 7h2M99 7h1M112 7h2M118 7h2M144 7h1M117 8h1M121 8h1M135 8h2M145 8h1M154 8h1M156 8h1M99 9h1M106 9h1M108 9h1M132 9h1M137 9h1M149 9h1M153 9h1M96 10h1M104 10h1M110 10h2M113 10h1M118 10h1M127 10h2M137 10h1M148 10h1M100 11h1M108 11h1M111 11h1M114 11h1M116 11h1M120 11h1M123 11h1M140 11h1M148 11h1M88 12h1M94 12h1M109 12h1M118 12h1M131 12h1M142 12h1M91 13h3M115 13h1M119 13h2M122 13h1M127 13h2M142 13h1M117 14h1M129 14h1M138 14h1M68 15h1M94 15h1M120 15h1M128 15h1M133 15h1M149 15h1M67 16h1M92 16h1M101 16h2M124 16h1M133 16h1M140 16h2M143 16h1M145 16h1M147 16h1M58 17h1M63 17h1M72 17h1M79 17h1M87 17h1M97 17h2M100 17h1M125 17h1M131 17h1M137 17h1M144 17h3M149 17h1M76 18h1M95 18h1M102 18h1M116 18h1M120 18h1M123 18h1M125 18h1M131 18h1M137 18h1M141 18h1M144 18h1M147 18h1M53 19h1M55 19h2M60 19h1M75 19h1M79 19h1M91 19h1M93 19h1M101 19h2M125 19h1M127 19h1M133 19h1M140 19h1M55 20h1M78 20h3M83 20h1M85 20h1M92 20h1M97 20h1M101 20h1M104 20h1M109 20h1M126 20h1M129 20h1M133 20h1M136 20h1M141 20h1M148 20h1M150 20h1M68 21h1M85 21h1M99 21h1M102 21h1M107 21h2M120 21h1M122 21h1M125 21h2M130 21h1M132 21h2M143 21h1M51 22h1M54 22h1M56 22h1M61 22h2M75 22h1M84 22h1M91 22h1M99 22h1M101 22h1M105 22h2M109 22h1M120 22h1M134 22h1M149 22h1M107 23h1M118 23h1M120 23h1M123 23h1M137 23h1M139 23h1M145 23h1M148 23h1M75 24h1M90 24h1M113 24h1M117 24h2M121 24h1M125 24h3M129 24h1M132 24h2M67 25h1M78 25h1M81 25h1M83 25h2M102 25h1M105 25h1M51 26h1M76 26h2M103 26h1M143 26h1M85 27h1M91 27h1M133 27h1M75 28h1M83 28h1M97 28h1M133 28h1M34 29h1M40 29h1M44 29h2M65 29h1M49 30h1M51 30h1M74 30h1M47 31h2M73 31h1M86 31h1M92 31h2M48 32h1M52 32h1M55 32h1M136 32h1M149 32h1M66 33h1M91 33h1M135 33h1M44 34h1M59 34h1M147 34h1M149 34h2M35 35h1M37 35h2M144 35h1M150 35h1M27 36h1M35 36h2M53 36h1M138 36h1M140 36h1M144 36h1M43 37h1M138 37h1M111 38h1M127 38h1M134 38h1M108 39h1M126 39h1M36 40h1M113 40h1M72 41h1M76 41h1M111 41h1M114 41h1M118 41h1M83 43h1M110 44h1M109 45h1M20 46h1M67 46h1M109 46h1M23 47h1M69 47h1M106 47h1M108 47h1M26 48h1M104 48h1M106 48h1M109 48h1M114 48h1M118 48h1M71 49h2M104 49h1M109 50h1M123 50h1M126 50h1M67 51h1M91 51h1M108 51h2M119 51h2M103 52h2M112 52h1M115 52h1M123 52h1M120 53h1M123 53h1M125 53h1M103 54h1M109 54h1M113 54h1M116 54h1M122 54h1M113 55h1M123 55h2M132 55h1M69 56h1M82 56h1M102 56h1M112 56h1M118 56h1M152 56h1M102 57h1M117 57h1M44 58h1M86 58h1M99 58h1M103 58h2M115 58h1M119 58h1M152 58h1M154 58h1M104 59h1M111 59h1M116 59h1M118 59h1M121 59h1M130 59h2M154 59h1M85 60h1M93 60h1M100 60h1M83 61h1M105 61h1M124 61h1M128 61h1M135 61h1M75 62h1M84 62h3M93 62h1M95 62h1M100 62h1M101 63h1M137 63h1M149 63h1M151 63h1M153 63h1M52 64h1M72 64h1M141 64h1M144 64h1M152 64h1M91 65h1M112 65h1M129 65h1M141 65h1M149 65h1M152 65h1M78 66h1M87 66h1M91 66h1M95 66h1M135 66h1M144 66h1M149 66h1M152 66h2M155 66h1M98 67h1M100 67h1M119 67h1M148 67h1M156 67h1M90 68h1M103 68h1M83 69h1M86 69h1M109 69h1M132 69h1M140 69h1M142 69h1M84 70h1M138 70h1M150 70h1M87 71h1M149 71h1M81 72h1M96 72h1M123 72h1M142 72h1M151 72h1M96 73h1M78 74h1M81 74h1M92 74h1M98 74h1M121 74h1M135 74h1M150 74h1M80 75h1M91 75h1M148 75h1M152 75h1M67 76h1M85 76h1M90 76h1M143 76h1M149 76h1M151 76h1M79 77h1M92 77h1M97 77h1M141 77h1M145 77h1M81 78h2M93 79h1M96 79h1M73 80h1M77 80h1M85 81h1M94 82h1M149 82h1M109 83h1M81 84h1M94 84h2M144 84h1M78 86h1M67 87h1M69 87h1M88 88h3M79 89h1M89 89h1M99 89h1M72 90h1M70 91h1M67 92h1M81 92h1M89 92h1M99 92h1M69 93h1M83 93h1M90 93h1M72 94h1M74 95h1M76 95h1M98 95h1M92 96h1M94 97h1M96 97h1M63 98h1M70 98h1M72 99h1M73 100h1M76 100h1M63 102h1M67 102h1M66 103h1M70 103h1M72 103h3M71 104h1M72 105h1M74 105h1M67 106h1M73 106h1M69 107h1M65 108h1M68 108h1M68 109h1M68 110h1M75 110h1M63 111h1M68 111h1M69 113h1M66 114h1M70 114h2M40 116h1M43 116h1M45 116h1M57 116h1M69 116h2M47 117h1M65 117h1M71 117h1M6 118h1M57 118h1M76 118h1M80 118h1M13 120h1M55 120h1M76 120h1M7 121h1M47 121h1M53 121h1M57 121h1M69 121h1M5 122h1M10 122h1M23 122h1M38 122h1M57 122h1M60 122h1M66 122h2M75 122h1M3 123h1M21 123h1M26 123h1M48 123h1M27 124h2M32 124h1M48 124h2M71 124h1M82 124h1M19 125h2M43 125h1M89 125h1M20 126h2M24 126h1M40 126h1M42 126h1M52 126h1M69 126h1M80 126h1M36 127h1M50 127h2M54 127h1M61 127h1M68 127h1M78 127h1M18 128h1M22 128h1M31 128h1M40 128h2M55 128h1M66 128h1M68 128h1M79 128h1M84 128h1M87 128h1M18 129h1M25 129h1M34 129h1M56 129h1M69 129h1M73 129h1M75 129h1M30 130h1M34 130h1M41 130h1M46 130h1M61 130h2M74 130h1M71 131h1M21 132h1M23 132h1M35 132h1M48 132h4M53 132h1M69 132h1M25 133h1M36 133h1M49 133h1M66 133h1M76 133h2M7 134h1M29 134h1M35 134h1M37 134h1M41 134h1M51 134h1M53 134h1M63 134h1M78 134h1M38 135h1M42 135h1M47 135h1M49 135h1M58 135h2M63 135h2M67 135h3M50 136h1M62 136h1M70 136h1M22 137h1M25 137h1M29 137h1M31 137h1M38 137h3M48 137h1M63 137h1M22 138h1M26 138h1M56 138h1M63 138h1M69 138h1M40 139h1M49 139h1M55 139h1M57 139h1M67 139h3M32 140h1M37 140h1M42 140h1M45 140h1M54 140h1M63 140h1M30 141h1M34 141h1M45 141h1M53 141h1M58 141h1M62 141h1M66 141h1M18 142h1M32 142h2M54 142h1M56 142h2M61 142h1M68 142h1M27 143h1M33 143h1M41 143h1M43 143h1M47 143h1M57 143h2M60 143h1M66 143h1M25 144h2M29 144h3M35 144h1M37 144h2M40 144h1M45 144h2M59 144h1M62 144h1M27 145h1M29 145h2M36 145h1M38 145h1M53 145h1M56 145h1M27 146h1M33 146h1M38 146h2M52 146h1M61 146h1M65 146h1M25 147h1M32 147h1M36 147h2M39 147h1M43 147h1M49 147h1M58 147h1M64 147h2M32 148h1M43 148h1M53 148h1M57 148h2M63 148h1M41 149h1M50 149h1M58 149h3M64 149h1M43 150h1M51 150h2M55 150h1M34 151h1M37 151h1M40 151h1M53 151h1M56 151h1M63 151h1M43 152h1M45 152h2M53 152h2M38 153h1M45 153h1M59 153h1M41 154h1M45 154h1M45 155h1M48 155h1"/><path stroke="#a00000" d="M95 7h1M98 7h1M115 7h1M123 7h1M139 7h1M96 8h2M99 8h1M122 8h1M110 9h1M113 9h1M135 9h1M105 10h1M108 10h2M123 10h1M125 10h1M129 10h1M136 10h1M86 11h1M107 11h1M118 11h1M125 11h2M132 11h1M141 11h1M78 12h1M117 12h1M121 12h1M128 12h1M132 12h1M140 12h1M106 13h1M111 13h1M141 13h1M91 14h1M102 14h1M116 14h1M120 14h1M127 14h1M141 14h2M93 15h1M101 15h3M106 15h1M127 15h1M145 15h1M66 16h1M90 16h1M98 16h1M110 16h1M114 16h1M126 16h1M138 16h1M56 17h1M69 17h1M139 17h1M148 17h1M60 18h1M71 18h1M74 18h1M92 18h1M117 18h1M130 18h1M140 18h1M83 19h1M86 19h2M92 19h1M118 19h1M142 19h1M146 19h4M90 20h1M96 20h1M107 20h1M127 20h1M135 20h1M144 20h1M146 20h1M149 20h1M145 21h1M64 22h1M81 22h2M86 22h1M107 22h1M123 22h1M131 22h1M139 22h1M146 22h1M42 23h1M76 23h1M83 23h3M113 23h1M129 23h1M146 23h1M48 24h1M83 24h1M134 24h1M139 24h1M110 25h1M140 25h2M78 26h1M85 26h1M94 26h1M36 27h1M66 27h1M76 27h1M83 27h1M95 27h1M106 27h1M74 28h1M73 29h1M64 30h1M42 32h1M49 32h1M72 33h1M148 33h1M123 34h1M32 35h1M124 35h1M142 35h1M146 35h1M154 35h1M40 36h1M139 36h1M40 38h1M107 38h1M114 38h1M128 38h1M32 42h1M85 43h1M104 46h1M113 46h1M72 47h1M117 47h1M108 48h1M111 48h2M115 48h1M69 49h1M116 49h1M70 50h1M91 50h1M117 50h1M47 52h1M120 52h1M86 53h1M105 53h1M115 53h5M46 54h1M110 54h1M124 54h1M112 55h1M116 55h1M125 55h1M114 56h1M135 56h1M115 57h1M109 58h1M153 58h1M77 59h1M110 59h1M128 59h1M137 59h1M155 59h1M53 60h1M107 60h1M127 60h1M98 61h1M107 61h1M136 61h2M101 62h1M111 62h1M151 62h1M149 64h1M90 65h1M147 65h1M90 66h1M147 66h1M154 66h1M95 67h1M154 67h1M76 68h1M96 68h1M138 68h1M145 68h1M153 68h1M147 69h1M149 69h1M73 70h1M153 70h1M81 71h1M97 71h1M107 71h1M152 71h1M85 73h1M94 73h1M91 74h1M96 74h2M90 75h1M97 75h1M122 75h1M73 76h1M92 76h1M83 77h1M88 77h1M94 77h1M143 77h1M92 78h1M94 80h1M150 80h1M81 81h1M87 81h1M97 82h1M147 84h1M85 85h1M133 85h1M147 85h1M77 86h1M75 88h1M92 89h1M76 92h1M66 93h1M74 93h1M68 96h1M96 96h1M74 100h1M61 101h1M64 101h2M72 101h1M66 102h1M69 102h1M73 102h1M63 103h2M66 107h1M68 107h1M69 109h1M73 109h1M63 112h2M69 112h2M74 112h1M58 113h2M61 113h1M71 113h1M41 118h1M65 118h1M72 119h1M44 120h1M44 121h1M67 121h1M18 122h1M24 122h1M70 122h1M64 123h1M66 123h1M72 123h1M29 124h1M27 126h1M62 126h1M67 126h1M72 126h1M21 127h1M66 127h1M32 128h2M51 128h1M64 128h1M49 129h1M67 129h1M74 129h1M48 130h1M48 131h1M87 131h1M25 132h1M29 132h1M34 132h1M33 133h1M35 133h1M47 133h1M52 133h1M63 133h1M31 134h1M33 134h2M39 134h1M42 134h1M54 134h1M58 134h1M29 135h1M32 135h1M45 135h1M56 135h1M61 135h1M70 135h1M31 136h1M42 136h1M47 136h1M55 136h1M61 136h1M69 136h1M80 136h1M37 137h1M42 137h1M54 137h2M57 137h1M61 137h1M65 137h1M69 137h1M23 138h1M38 138h1M55 138h1M60 138h2M67 138h1M25 139h1M34 139h1M36 139h1M56 139h1M83 139h1M36 140h1M39 140h1M49 140h1M51 140h2M82 140h1M41 141h1M48 141h3M55 141h1M67 141h2M24 142h1M34 142h1M39 142h2M47 142h1M62 142h1M36 143h1M46 143h1M53 143h1M61 143h2M68 143h1M39 144h1M41 144h1M47 144h1M51 144h1M60 144h2M58 145h2M61 145h1M64 145h1M67 145h1M29 146h1M36 146h1M51 146h1M34 147h1M41 147h1M45 147h1M51 147h1M56 147h1M63 147h1M67 147h1M30 148h1M33 148h1M35 148h1M54 148h1M67 148h1M32 149h1M54 149h1M32 150h2M38 150h2M41 150h1M50 150h1M54 150h1M56 150h1M61 150h1M36 151h1M51 151h1M54 151h1M60 151h1M37 152h1M48 152h1M51 152h1M56 152h2M59 152h1M42 153h1M53 153h2M60 153h1M51 154h1M53 154h2"/><path stroke="#800000" d="M114 6h1M117 6h1M109 7h1M114 8h1M139 8h1M141 8h1M144 8h1M109 9h1M112 9h1M152 9h1M99 10h1M122 10h1M126 10h1M122 11h1M130 11h2M113 12h2M119 12h1M123 12h1M117 13h2M121 14h1M126 14h1M128 14h1M143 14h2M111 15h1M121 15h2M137 15h1M71 16h1M88 16h1M125 16h1M134 16h1M144 16h1M146 16h1M150 16h1M108 17h1M110 17h2M119 17h1M124 17h1M132 17h5M138 17h1M140 17h3M78 18h1M103 18h1M109 18h1M111 18h1M118 18h2M124 18h1M132 18h5M139 18h1M143 18h1M77 19h2M94 19h1M119 19h2M134 19h2M137 19h1M139 19h1M150 19h1M64 20h1M71 20h1M91 20h1M93 20h1M95 20h1M105 20h1M121 20h1M134 20h1M139 20h1M147 20h1M123 21h1M137 21h1M140 21h1M144 21h1M146 21h2M149 21h1M50 22h1M63 22h1M74 22h1M85 22h1M110 22h1M136 22h1M138 22h1M144 22h2M60 23h1M82 23h1M111 23h1M140 23h1M110 24h1M130 24h2M80 25h1M87 25h1M86 26h1M140 27h1M65 28h1M93 28h1M126 29h1M49 31h1M32 32h1M50 32h1M40 35h1M47 35h1M118 36h1M147 36h1M27 37h1M108 38h1M92 46h1M105 47h1M112 47h2M112 49h1M71 50h1M121 50h1M108 52h2M119 52h1M121 52h1M114 53h1M121 53h2M112 54h1M115 54h1M121 54h1M122 55h1M133 56h1M114 57h1M153 57h1M87 58h1M117 58h2M135 58h1M100 59h2M109 59h1M75 60h2M110 60h1M149 62h1M147 63h1M150 63h1M135 64h1M146 64h1M151 65h1M146 67h1M149 67h1M95 68h1M154 68h1M113 70h1M154 70h1M153 71h1M86 73h1M97 73h1M80 74h1M85 75h1M96 77h1M84 78h1M93 78h1M83 85h2M84 86h1M74 91h1M74 94h1M98 94h2M81 96h1M72 98h1M73 99h1M107 99h1M62 102h1M65 103h1M67 103h1M69 106h3M67 107h1M70 107h1M69 111h1M62 112h1M60 113h1M64 113h2M72 113h1M64 114h2M72 115h1M73 116h1M75 117h1M64 118h1M73 119h2M54 120h1M16 122h1M68 122h1M59 123h1M26 126h1M60 126h1M20 127h1M26 127h1M75 127h2M20 128h1M37 128h1M67 128h1M61 129h2M70 129h1M70 130h1M30 131h2M24 132h1M47 132h1M32 133h1M34 133h1M46 133h1M48 133h1M43 134h1M57 134h1M64 134h1M23 135h1M30 135h1M65 135h1M58 136h1M60 136h1M85 136h1M24 137h1M30 137h1M53 137h1M56 137h1M58 137h1M60 137h1M34 138h1M53 138h1M33 139h1M35 139h1M37 139h3M62 139h2M50 140h1M53 140h1M57 140h2M36 141h1M39 141h1M51 141h1M54 141h1M56 141h1M65 141h1M25 142h1M41 142h1M48 142h1M59 142h2M63 142h3M67 142h1M34 143h1M40 143h1M45 143h1M49 143h4M55 143h2M27 144h2M32 144h1M34 144h1M43 144h1M48 144h1M50 144h1M52 144h4M67 144h1M35 145h1M43 145h1M45 145h2M60 145h1M62 145h2M30 146h1M40 146h4M45 146h3M50 146h1M59 146h1M62 146h3M31 147h1M35 147h1M40 147h1M42 147h1M46 147h1M54 147h2M61 147h2M37 148h2M45 148h1M60 148h3M64 148h2M33 149h1M48 149h2M56 149h2M61 149h3M34 150h1M37 150h1M47 150h3M62 150h2M35 151h1M38 151h1M48 151h1M50 151h1M52 151h1M55 151h1M57 151h1M35 152h1M39 152h2M49 152h1M55 152h1M39 153h1M46 153h1M52 153h1M43 154h1M46 154h3"/></g></g></g><path d="M63.8 14.3V714.2H789.4" stroke="#000" stroke-width="1.2" fill="none"/><path d="M788.7 22.3V714.2" stroke="#000" stroke-width="1.6" fill="none"/><path d="M63.8 14.8H788.4" stroke="#00006a" stroke-width="2" fill="none"/><rect x="92.9" y="43.1" width="84.7" height="79.6" rx="2" fill="none" stroke="#fff" stroke-width="7.2"/><rect x="92.4" y="42.6" width="85.7" height="80.6" rx="1.5" fill="none" stroke="#f0f" stroke-width="4.2"/><path d="M82.3 40.5h9M86.8 36.0v9M83.8 37.5l6 6M89.8 37.5l-6 6" stroke="#e00030" stroke-width="1" fill="none" opacity=".75"/><rect x="83.5" y="308.7" width="93.9" height="167.0" rx="2" fill="none" stroke="#fff" stroke-width="7.2"/><rect x="83.0" y="308.2" width="94.9" height="168.0" rx="1.5" fill="none" stroke="#f0f" stroke-width="4.2"/><path d="M72.9 306.1h9M77.4 301.6v9M74.4 303.1l6 6M80.4 303.1l-6 6" stroke="#e00030" stroke-width="1" fill="none" opacity=".75"/><rect x="665.1" y="563.6" width="94.1" height="117.6" rx="2" fill="none" stroke="#fff" stroke-width="7.2"/><rect x="664.6" y="563.1" width="95.1" height="118.6" rx="1.5" fill="none" stroke="#f0f" stroke-width="4.2"/><path d="M654.5 561.0h9M659.0 556.5v9M656.0 558.0l6 6M662.0 558.0l-6 6" stroke="#e00030" stroke-width="1" fill="none" opacity=".75"/><text class="t" transform="translate(52.5 27.2) scale(.93 1)" text-anchor="end" font-size="31.7">160</text><text class="t" transform="translate(52.5 114.7) scale(.93 1)" text-anchor="end" font-size="31.7">140</text><text class="t" transform="translate(52.5 202.1) scale(.93 1)" text-anchor="end" font-size="31.7">120</text><text class="t" transform="translate(52.5 289.6) scale(.93 1)" text-anchor="end" font-size="31.7">100</text><text class="t" transform="translate(52.5 377.0) scale(.93 1)" text-anchor="end" font-size="31.7">80</text><text class="t" transform="translate(52.5 464.4) scale(.93 1)" text-anchor="end" font-size="31.7">60</text><text class="t" transform="translate(52.5 551.9) scale(.93 1)" text-anchor="end" font-size="31.7">40</text><text class="t" transform="translate(52.5 639.4) scale(.93 1)" text-anchor="end" font-size="31.7">20</text><text class="t" transform="translate(150.7 750.3) scale(.93 1)" text-anchor="middle" font-size="31.7">20</text><text class="t" transform="translate(238.8 750.3) scale(.93 1)" text-anchor="middle" font-size="31.7">40</text><text class="t" transform="translate(327.0 750.3) scale(.93 1)" text-anchor="middle" font-size="31.7">60</text><text class="t" transform="translate(415.2 750.3) scale(.93 1)" text-anchor="middle" font-size="31.7">80</text><text class="t" transform="translate(503.3 750.3) scale(.93 1)" text-anchor="middle" font-size="31.7">100</text><text class="t" transform="translate(591.5 750.3) scale(.93 1)" text-anchor="middle" font-size="31.7">120</text><text class="t" transform="translate(679.6 750.3) scale(.93 1)" text-anchor="middle" font-size="31.7">140</text><text class="t" transform="translate(767.8 750.3) scale(.93 1)" text-anchor="middle" font-size="31.7">160</text><text class="s" x="633.5" y="64.6" font-size="40" style="fill:#fff">A.</text>
<rect x="1077.8" y="22.7" width="550.2" height="681.2" fill="none" stroke="#000" stroke-width="1.7"/>
<path d="M1077.8 590.4h11M1628 590.4h-11M1077.8 476.8h11M1628 476.8h-11M1077.8 363.3h11M1628 363.3h-11M1077.8 249.8h11M1628 249.8h-11M1077.8 136.2h11M1628 136.2h-11M1112.9 703.9v-7M1112.9 22.7v7M1283.9 703.9v-7M1283.9 22.7v7M1454.9 703.9v-7M1454.9 22.7v7M1625.9 703.9v-7M1625.9 22.7v7" stroke="#000" stroke-width="1" fill="none"/>
<path d="M1082.8 704.2h7M1623 704.2h-7M1082.8 590.7h7M1623 590.7h-7M1082.8 477.1h7M1623 477.1h-7M1082.8 363.6h7M1623 363.6h-7M1082.8 250.1h7M1623 250.1h-7M1082.8 136.5h7M1623 136.5h-7M1082.8 23h7M1623 23h-7M1112.4 697.9h7M1112.4 29.2h7M1283.4 697.9h7M1283.4 29.2h7M1454.4 697.9h7M1454.4 29.2h7M1625.4 697.9h7M1625.4 29.2h7" stroke="#000" stroke-width="3.6" fill="none"/>
<rect x="1151.9" y="95.4" width="26.8" height="608.5" fill="#00008f" stroke="#000" stroke-width="1.3"/>
<rect x="1186.1" y="668.5" width="26.8" height="35.4" fill="#00008f" stroke="#000" stroke-width="1.3"/>
<rect x="1220.3" y="679.8" width="26.8" height="24.1" fill="#00008f" stroke="#000" stroke-width="1.3"/>
<rect x="1254.5" y="676.7" width="26.8" height="27.2" fill="#00008f" stroke="#000" stroke-width="1.3"/>
<rect x="1288.7" y="668.5" width="26.8" height="35.4" fill="#00008f" stroke="#000" stroke-width="1.3"/>
<rect x="1322.9" y="634.5" width="26.8" height="69.4" fill="#00008f" stroke="#000" stroke-width="1.3"/>
<rect x="1357.1" y="539.7" width="26.8" height="164.2" fill="#00008f" stroke="#000" stroke-width="1.3"/>
<rect x="1391.3" y="419.4" width="26.8" height="284.5" fill="#00008f" stroke="#000" stroke-width="1.3"/>
<rect x="1425.5" y="521.5" width="26.8" height="182.4" fill="#00008f" stroke="#000" stroke-width="1.3"/>
<rect x="1459.7" y="658.5" width="26.8" height="45.4" fill="#00008f" stroke="#000" stroke-width="1.3"/>
<rect x="1493.9" y="698" width="26.8" height="5.9" fill="#00008f" stroke="#000" stroke-width="1.3"/>
<rect x="1528.1" y="702.5" width="26.8" height="1.4" fill="#00008f" stroke="#000" stroke-width="1.3"/>
<rect x="1562.3" y="702.8" width="26.8" height="1.1" fill="#00008f" stroke="#000" stroke-width="1.3"/>
<text class="t" transform="translate(1067 715.7) scale(.93 1)" text-anchor="end" font-size="35.5">0</text>
<text class="t" transform="translate(1067 602.2) scale(.93 1)" text-anchor="end" font-size="35.5">2000</text>
<text class="t" transform="translate(1067 488.6) scale(.93 1)" text-anchor="end" font-size="35.5">4000</text>
<text class="t" transform="translate(1067 375.1) scale(.93 1)" text-anchor="end" font-size="35.5">6000</text>
<text class="t" transform="translate(1067 261.6) scale(.93 1)" text-anchor="end" font-size="35.5">8000</text>
<text class="t" transform="translate(1067 148) scale(.93 1)" text-anchor="end" font-size="35.5">10000</text>
<text class="t" transform="translate(1067 34.5) scale(.93 1)" text-anchor="end" font-size="35.5">12000</text>
<text class="t" transform="translate(1115.4 747.5) scale(.93 1)" text-anchor="middle" font-size="35.5">0</text>
<text class="t" transform="translate(1286.4 747.5) scale(.93 1)" text-anchor="middle" font-size="35.5">5</text>
<text class="t" transform="translate(1457.4 747.5) scale(.93 1)" text-anchor="middle" font-size="35.5">10</text>
<text class="t" transform="translate(1628.4 747.5) scale(.93 1)" text-anchor="middle" font-size="35.5">15</text>
<text class="s" x="1488" y="87" font-size="40">B.</text>
<text class="b" x="1349" y="796.4" text-anchor="middle" font-size="43.5">Value</text>
<text class="b" transform="translate(947 365.6) rotate(-90)" text-anchor="middle" font-size="41.5"># of occurrences</text>
<text class="t" x="1547.5" y="808.5" font-size="35" word-spacing="2">x 10<tspan dy="-22" dx="1" font-size="24">4</tspan></text>
<rect x="191.5" y="858.5" width="543.5" height="684" fill="none" stroke="#000" stroke-width="1.7"/>
<path d="M191.5 1428.5h11M735 1428.5h-11M191.5 1314.5h11M735 1314.5h-11M191.5 1200.5h11M735 1200.5h-11M191.5 1086.5h11M735 1086.5h-11M191.5 972.5h11M735 972.5h-11M223 1542.5v-7M223 858.5v7M393.9 1542.5v-7M393.9 858.5v7M564.7 1542.5v-7M564.7 858.5v7M735.6 1542.5v-7M735.6 858.5v7" stroke="#000" stroke-width="1" fill="none"/>
<path d="M196.5 1542.8h7M730 1542.8h-7M196.5 1428.8h7M730 1428.8h-7M196.5 1314.8h7M730 1314.8h-7M196.5 1200.8h7M730 1200.8h-7M196.5 1086.8h7M730 1086.8h-7M196.5 972.8h7M730 972.8h-7M196.5 858.8h7M730 858.8h-7M222.5 1536.5h7M222.5 865h7M393.4 1536.5h7M393.4 865h7M564.2 1536.5h7M564.2 865h7M735.1 1536.5h7M735.1 865h7" stroke="#000" stroke-width="3.6" fill="none"/>
<rect x="210.6" y="930.3" width="27.5" height="612.2" fill="#00008f" stroke="#000" stroke-width="1.3"/>
<rect x="244.7" y="1508.3" width="27.5" height="34.2" fill="#00008f" stroke="#000" stroke-width="1.3"/>
<rect x="278.9" y="1518.3" width="27.5" height="24.2" fill="#00008f" stroke="#000" stroke-width="1.3"/>
<rect x="313.1" y="1515.1" width="27.5" height="27.4" fill="#00008f" stroke="#000" stroke-width="1.3"/>
<rect x="347.2" y="1508.3" width="27.5" height="34.2" fill="#00008f" stroke="#000" stroke-width="1.3"/>
<rect x="381.4" y="1474.7" width="27.5" height="67.8" fill="#00008f" stroke="#000" stroke-width="1.3"/>
<rect x="415.6" y="1374.9" width="27.5" height="167.6" fill="#00008f" stroke="#000" stroke-width="1.3"/>
<rect x="449.7" y="1255.8" width="27.5" height="286.7" fill="#00008f" stroke="#000" stroke-width="1.3"/>
<rect x="483.9" y="1359.5" width="27.5" height="183" fill="#00008f" stroke="#000" stroke-width="1.3"/>
<rect x="518.1" y="1496.9" width="27.5" height="45.6" fill="#00008f" stroke="#000" stroke-width="1.3"/>
<rect x="552.2" y="1536.2" width="27.5" height="6.3" fill="#00008f" stroke="#000" stroke-width="1.3"/>
<rect x="586.4" y="1541.6" width="27.5" height="0.9" fill="#00008f" stroke="#000" stroke-width="1.3"/>
<rect x="620.6" y="1541.7" width="27.5" height="0.8" fill="#00008f" stroke="#000" stroke-width="1.3"/>
<rect x="688.9" y="1541.7" width="27.5" height="0.8" fill="#00008f" stroke="#000" stroke-width="1.3"/>
<text class="t" transform="translate(181 1554.3) scale(.93 1)" text-anchor="end" font-size="35.5">0</text>
<text class="t" transform="translate(181 1440.3) scale(.93 1)" text-anchor="end" font-size="35.5">2000</text>
<text class="t" transform="translate(181 1326.3) scale(.93 1)" text-anchor="end" font-size="35.5">4000</text>
<text class="t" transform="translate(181 1212.3) scale(.93 1)" text-anchor="end" font-size="35.5">6000</text>
<text class="t" transform="translate(181 1098.3) scale(.93 1)" text-anchor="end" font-size="35.5">8000</text>
<text class="t" transform="translate(181 984.3) scale(.93 1)" text-anchor="end" font-size="35.5">10000</text>
<text class="t" transform="translate(181 870.3) scale(.93 1)" text-anchor="end" font-size="35.5">12000</text>
<text class="t" transform="translate(225.5 1585) scale(.93 1)" text-anchor="middle" font-size="35.5">0</text>
<text class="t" transform="translate(396.4 1585) scale(.93 1)" text-anchor="middle" font-size="35.5">5</text>
<text class="t" transform="translate(567.2 1585) scale(.93 1)" text-anchor="middle" font-size="35.5">10</text>
<text class="t" transform="translate(738.1 1585) scale(.93 1)" text-anchor="middle" font-size="35.5">15</text>
<text class="s" x="597" y="923.5" font-size="40">C.</text>
<text class="b" x="459.5" y="1632.5" text-anchor="middle" font-size="43.5">Value</text>
<text class="b" transform="translate(62.5 1202) rotate(-90)" text-anchor="middle" font-size="41.5"># of occurrences</text>
<text class="t" x="657" y="1646" font-size="35" word-spacing="2">x 10<tspan dy="-22" dx="1" font-size="24">4</tspan></text>
<rect x="1067.5" y="865" width="555" height="690" fill="none" stroke="#000" stroke-width="1.7"/>
<path d="M1067.5 1440h11M1622.5 1440h-11M1067.5 1325h11M1622.5 1325h-11M1067.5 1210h11M1622.5 1210h-11M1067.5 1095h11M1622.5 1095h-11M1067.5 980h11M1622.5 980h-11M1126.4 1555v-7M1126.4 865v7M1250 1555v-7M1250 865v7M1373.6 1555v-7M1373.6 865v7M1497.2 1555v-7M1497.2 865v7M1620.8 1555v-7M1620.8 865v7" stroke="#000" stroke-width="1" fill="none"/>
<path d="M1072.5 1555.3h7M1617.5 1555.3h-7M1072.5 1440.3h7M1617.5 1440.3h-7M1072.5 1325.3h7M1617.5 1325.3h-7M1072.5 1210.3h7M1617.5 1210.3h-7M1072.5 1095.3h7M1617.5 1095.3h-7M1072.5 980.3h7M1617.5 980.3h-7M1072.5 865.3h7M1617.5 865.3h-7M1125.9 1549h7M1125.9 871.5h7M1249.5 1549h7M1249.5 871.5h7M1373.1 1549h7M1373.1 871.5h7M1496.7 1549h7M1496.7 871.5h7M1620.3 1549h7M1620.3 871.5h7" stroke="#000" stroke-width="3.6" fill="none"/>
<rect x="1100.2" y="935.7" width="29.5" height="619.3" fill="#00008f" stroke="#000" stroke-width="1.3"/>
<rect x="1136.2" y="1519.3" width="29.5" height="35.6" fill="#00008f" stroke="#000" stroke-width="1.3"/>
<rect x="1172.2" y="1528" width="29.5" height="27" fill="#00008f" stroke="#000" stroke-width="1.3"/>
<rect x="1208.2" y="1526.2" width="29.5" height="28.8" fill="#00008f" stroke="#000" stroke-width="1.3"/>
<rect x="1244.2" y="1519.3" width="29.5" height="35.6" fill="#00008f" stroke="#000" stroke-width="1.3"/>
<rect x="1280.2" y="1484.8" width="29.5" height="70.2" fill="#00008f" stroke="#000" stroke-width="1.3"/>
<rect x="1316.2" y="1387.1" width="29.5" height="167.9" fill="#00008f" stroke="#000" stroke-width="1.3"/>
<rect x="1352.2" y="1265.2" width="29.5" height="289.8" fill="#00008f" stroke="#000" stroke-width="1.3"/>
<rect x="1388.2" y="1368.7" width="29.5" height="186.3" fill="#00008f" stroke="#000" stroke-width="1.3"/>
<rect x="1424.2" y="1509" width="29.5" height="46" fill="#00008f" stroke="#000" stroke-width="1.3"/>
<rect x="1460.2" y="1547.5" width="29.5" height="7.5" fill="#00008f" stroke="#000" stroke-width="1.3"/>
<rect x="1496.2" y="1553.3" width="29.5" height="1.7" fill="#00008f" stroke="#000" stroke-width="1.3"/>
<rect x="1532.2" y="1553.6" width="29.5" height="1.4" fill="#00008f" stroke="#000" stroke-width="1.3"/>
<rect x="1598.2" y="1553.3" width="29.5" height="1.7" fill="#00008f" stroke="#000" stroke-width="1.3"/>
<text class="t" transform="translate(1056.5 1566.8) scale(.93 1)" text-anchor="end" font-size="35.5">0</text>
<text class="t" transform="translate(1056.5 1451.8) scale(.93 1)" text-anchor="end" font-size="35.5">2000</text>
<text class="t" transform="translate(1056.5 1336.8) scale(.93 1)" text-anchor="end" font-size="35.5">4000</text>
<text class="t" transform="translate(1056.5 1221.8) scale(.93 1)" text-anchor="end" font-size="35.5">6000</text>
<text class="t" transform="translate(1056.5 1106.8) scale(.93 1)" text-anchor="end" font-size="35.5">8000</text>
<text class="t" transform="translate(1056.5 991.8) scale(.93 1)" text-anchor="end" font-size="35.5">10000</text>
<text class="t" transform="translate(1056.5 876.8) scale(.93 1)" text-anchor="end" font-size="35.5">12000</text>
<text class="t" transform="translate(1120.9 1596.5) scale(.93 1)" text-anchor="middle" font-size="35.5">-1</text>
<text class="t" transform="translate(1252.5 1596.5) scale(.93 1)" text-anchor="middle" font-size="35.5">0</text>
<text class="t" transform="translate(1376.1 1596.5) scale(.93 1)" text-anchor="middle" font-size="35.5">1</text>
<text class="t" transform="translate(1499.7 1596.5) scale(.93 1)" text-anchor="middle" font-size="35.5">2</text>
<text class="t" transform="translate(1625.3 1596.5) scale(.93 1)" text-anchor="middle" font-size="35.5">3</text>
<text class="s" x="1481.5" y="927.5" font-size="40">D.</text>
<text class="b" x="1340" y="1643.5" text-anchor="middle" font-size="43.5">Value</text>
<text class="b" transform="translate(935 1212) rotate(-90)" text-anchor="middle" font-size="41.5"># of occurrences</text>
</svg></body></html>
